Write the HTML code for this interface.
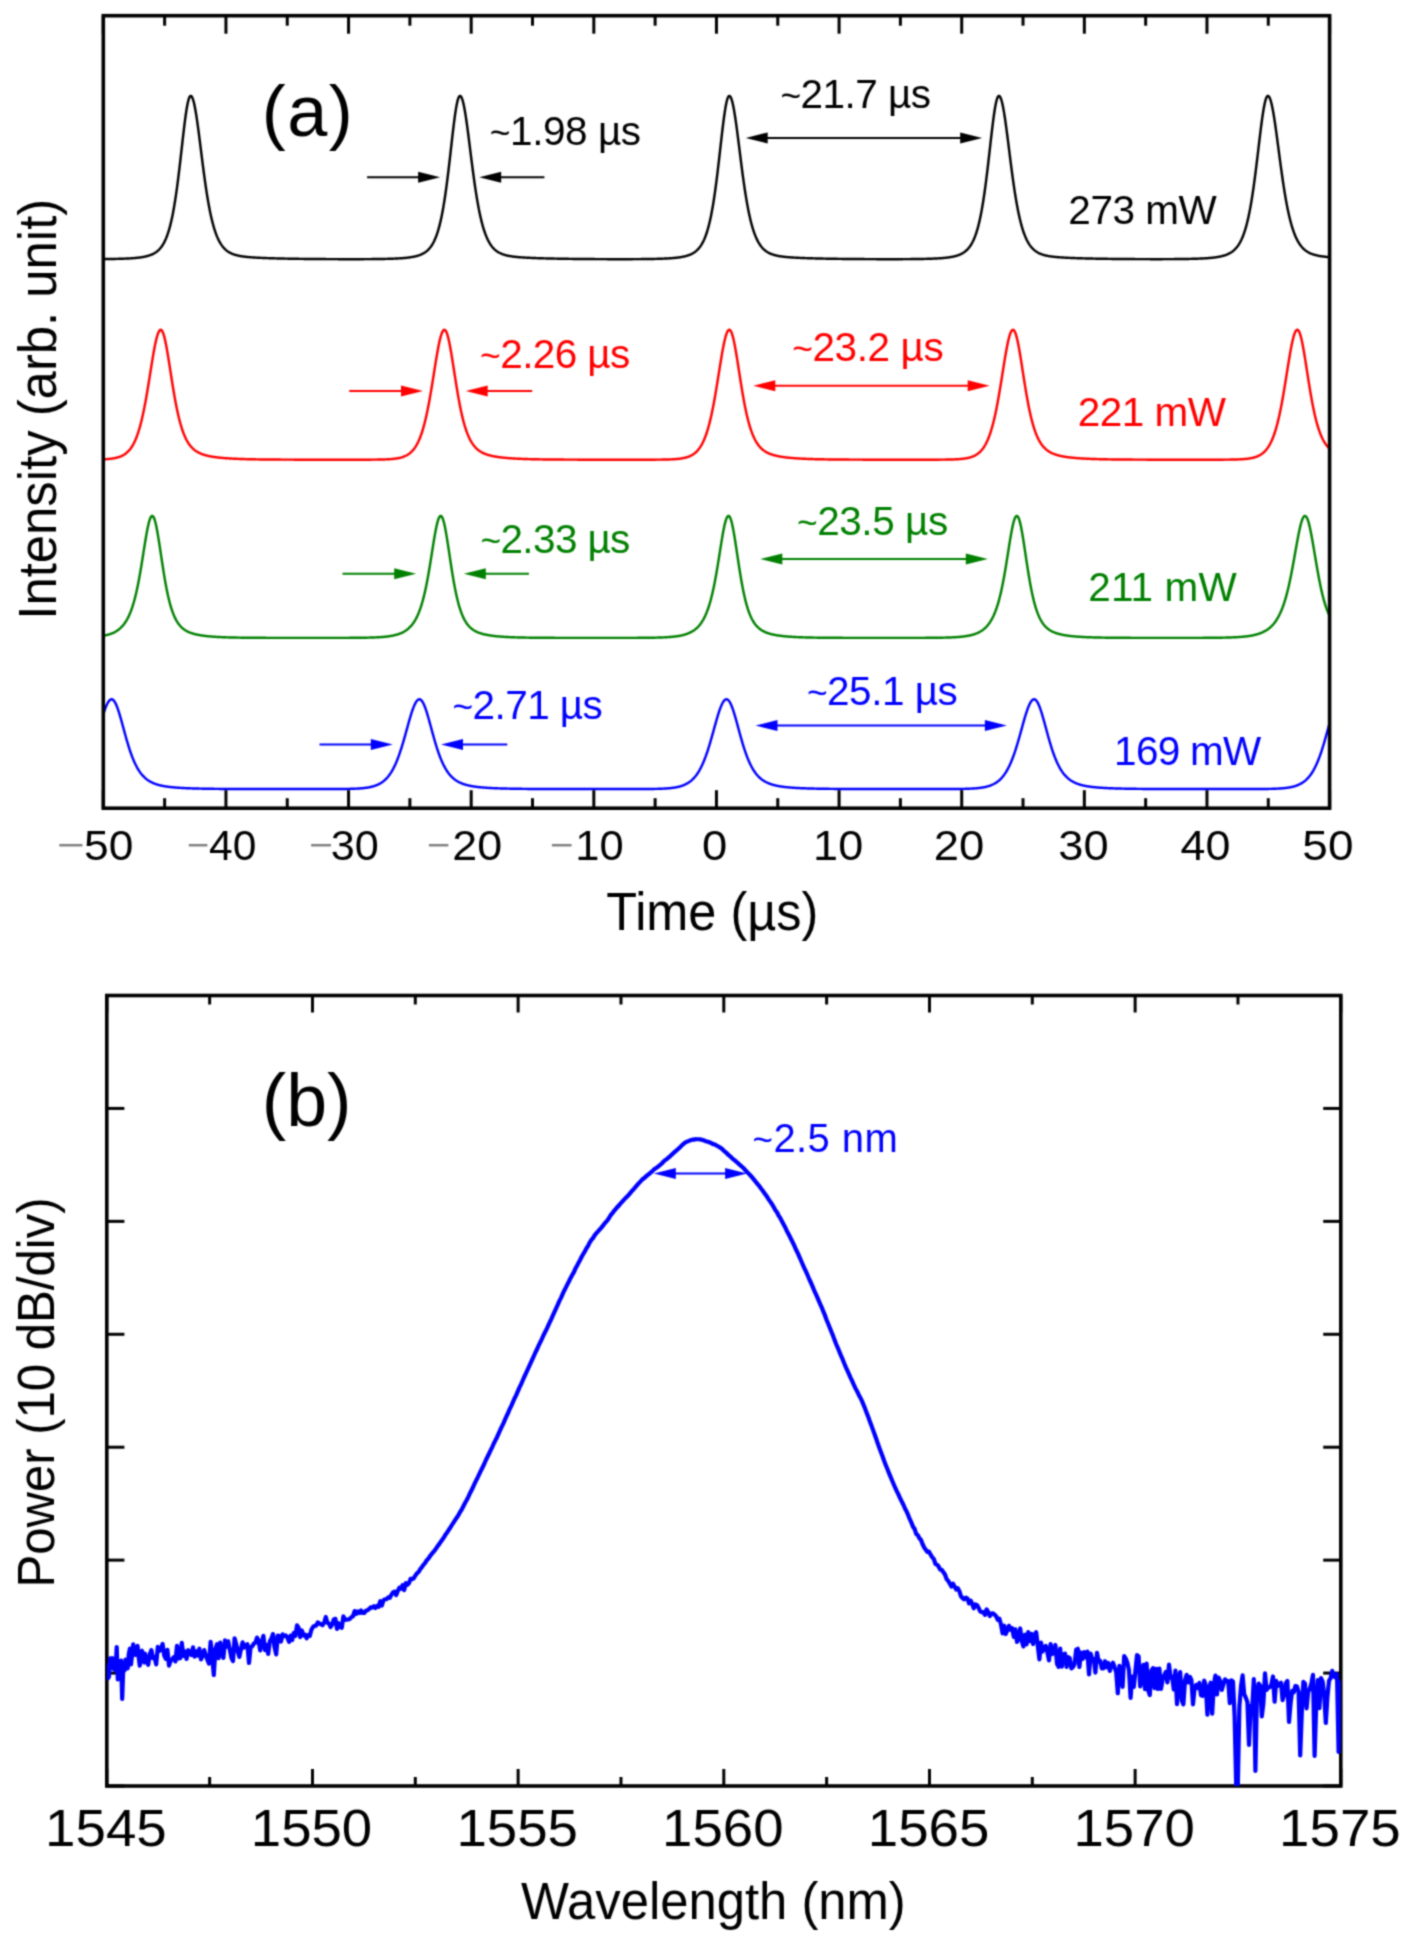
<!DOCTYPE html>
<html><head><meta charset="utf-8"><title>Figure</title>
<style>
html,body{margin:0;padding:0;background:#fff;}
svg{display:block;}
text{font-family:'Liberation Sans',sans-serif;}
</style></head>
<body>
<svg width="1411" height="1951" viewBox="0 0 1411 1951">
<rect x="0" y="0" width="1411" height="1951" fill="#fff"/>
<defs><filter id="soft" x="0" y="0" width="1411" height="1951" filterUnits="userSpaceOnUse" color-interpolation-filters="sRGB"><feConvolveMatrix order="5" kernelMatrix="0.00009 0.00198 0.00548 0.00198 0.00009 0.00198 0.04220 0.11707 0.04220 0.00198 0.00548 0.11707 0.32480 0.11707 0.00548 0.00198 0.04220 0.11707 0.04220 0.00198 0.00009 0.00198 0.00548 0.00198 0.00009" divisor="1" edgeMode="duplicate"/></filter></defs><g filter="url(#soft)"><rect x="0" y="0" width="1411" height="1951" fill="#fff"/><defs><clipPath id="ca"><rect x="103.3" y="15.7" width="1226.3" height="792.5"/></clipPath><clipPath id="cb"><rect x="106.8" y="995.5" width="1234" height="790.5"/></clipPath></defs>
<path d="M101.3,259.10 L101.8,259.10 L102.3,259.10 L102.8,259.09 L103.3,259.09 L103.8,259.08 L104.3,259.08 L104.8,259.07 L105.3,259.07 L105.8,259.06 L106.3,259.06 L106.8,259.05 L107.3,259.04 L107.8,259.04 L108.3,259.03 L108.8,259.03 L109.3,259.02 L109.8,259.01 L110.3,259.00 L110.8,259.00 L111.3,258.99 L111.8,258.98 L112.3,258.97 L112.8,258.96 L113.3,258.95 L113.8,258.94 L114.3,258.93 L114.8,258.92 L115.3,258.91 L115.8,258.90 L116.3,258.89 L116.8,258.88 L117.3,258.87 L117.8,258.86 L118.3,258.84 L118.8,258.83 L119.3,258.82 L119.8,258.80 L120.3,258.79 L120.8,258.77 L121.3,258.76 L121.8,258.74 L122.3,258.72 L122.8,258.70 L123.3,258.69 L123.8,258.67 L124.3,258.65 L124.8,258.63 L125.3,258.61 L125.8,258.59 L126.3,258.56 L126.8,258.54 L127.3,258.52 L127.8,258.49 L128.3,258.46 L128.8,258.44 L129.3,258.41 L129.8,258.38 L130.3,258.35 L130.8,258.32 L131.3,258.29 L131.8,258.25 L132.3,258.22 L132.8,258.18 L133.3,258.14 L133.8,258.10 L134.3,258.06 L134.8,258.02 L135.3,257.98 L135.8,257.93 L136.3,257.88 L136.8,257.83 L137.3,257.78 L137.8,257.73 L138.3,257.67 L138.8,257.61 L139.3,257.55 L139.8,257.48 L140.3,257.42 L140.8,257.34 L141.3,257.27 L141.8,257.19 L142.3,257.11 L142.8,257.03 L143.3,256.94 L143.8,256.85 L144.3,256.75 L144.8,256.65 L145.3,256.54 L145.8,256.43 L146.3,256.31 L146.8,256.18 L147.3,256.05 L147.8,255.91 L148.3,255.77 L148.8,255.61 L149.3,255.45 L149.8,255.28 L150.3,255.10 L150.8,254.91 L151.3,254.71 L151.8,254.50 L152.3,254.28 L152.8,254.04 L153.3,253.79 L153.8,253.53 L154.3,253.24 L154.8,252.95 L155.3,252.63 L155.8,252.30 L156.3,251.95 L156.8,251.57 L157.3,251.17 L157.8,250.75 L158.3,250.30 L158.8,249.82 L159.3,249.32 L159.8,248.78 L160.3,248.20 L160.8,247.60 L161.3,246.95 L161.8,246.26 L162.3,245.53 L162.8,244.75 L163.3,243.93 L163.8,243.05 L164.3,242.11 L164.8,241.12 L165.3,240.06 L165.8,238.94 L166.3,237.75 L166.8,236.48 L167.3,235.13 L167.8,233.71 L168.3,232.19 L168.8,230.58 L169.3,228.88 L169.8,227.08 L170.3,225.17 L170.8,223.15 L171.3,221.02 L171.8,218.77 L172.3,216.39 L172.8,213.89 L173.3,211.26 L173.8,208.50 L174.3,205.60 L174.8,202.57 L175.3,199.40 L175.8,196.09 L176.3,192.65 L176.8,189.07 L177.3,185.36 L177.8,181.52 L178.3,177.57 L178.8,173.50 L179.3,169.34 L179.8,165.08 L180.3,160.76 L180.8,156.38 L181.3,151.96 L181.8,147.52 L182.3,143.09 L182.8,138.69 L183.3,134.35 L183.8,130.09 L184.3,125.95 L184.8,121.95 L185.3,118.14 L185.8,114.53 L186.3,111.16 L186.8,108.06 L187.3,105.26 L187.8,102.78 L188.3,100.66 L188.8,98.90 L189.3,97.54 L189.8,96.58 L190.3,96.03 L190.8,95.90 L191.3,96.14 L191.8,96.71 L192.3,97.62 L192.8,98.84 L193.3,100.38 L193.8,102.23 L194.3,104.35 L194.8,106.75 L195.3,109.40 L195.8,112.27 L196.3,115.36 L196.8,118.64 L197.3,122.08 L197.8,125.67 L198.3,129.38 L198.8,133.19 L199.3,137.07 L199.8,141.02 L200.3,145.00 L200.8,149.00 L201.3,153.00 L201.8,156.98 L202.3,160.94 L202.8,164.85 L203.3,168.70 L203.8,172.49 L204.3,176.20 L204.8,179.83 L205.3,183.37 L205.8,186.80 L206.3,190.14 L206.8,193.37 L207.3,196.49 L207.8,199.50 L208.3,202.39 L208.8,205.18 L209.3,207.85 L209.8,210.41 L210.3,212.87 L210.8,215.21 L211.3,217.45 L211.8,219.59 L212.3,221.62 L212.8,223.56 L213.3,225.40 L213.8,227.15 L214.3,228.82 L214.8,230.40 L215.3,231.89 L215.8,233.31 L216.3,234.65 L216.8,235.93 L217.3,237.13 L217.8,238.27 L218.3,239.34 L218.8,240.36 L219.3,241.32 L219.8,242.23 L220.3,243.08 L220.8,243.89 L221.3,244.65 L221.8,245.37 L222.3,246.05 L222.8,246.69 L223.3,247.30 L223.8,247.87 L224.3,248.40 L224.8,248.91 L225.3,249.39 L225.8,249.84 L226.3,250.26 L226.8,250.66 L227.3,251.04 L227.8,251.40 L228.3,251.74 L228.8,252.05 L229.3,252.35 L229.8,252.63 L230.3,252.90 L230.8,253.15 L231.3,253.39 L231.8,253.62 L232.3,253.83 L232.8,254.03 L233.3,254.22 L233.8,254.40 L234.3,254.57 L234.8,254.73 L235.3,254.88 L235.8,255.03 L236.3,255.17 L236.8,255.30 L237.3,255.42 L237.8,255.54 L238.3,255.65 L238.8,255.75 L239.3,255.85 L239.8,255.95 L240.3,256.04 L240.8,256.13 L241.3,256.21 L241.8,256.29 L242.3,256.37 L242.8,256.44 L243.3,256.51 L243.8,256.58 L244.3,256.64 L244.8,256.70 L245.3,256.76 L245.8,256.81 L246.3,256.87 L246.8,256.92 L247.3,256.97 L247.8,257.02 L248.3,257.06 L248.8,257.11 L249.3,257.15 L249.8,257.19 L250.3,257.23 L250.8,257.27 L251.3,257.31 L251.8,257.35 L252.3,257.38 L252.8,257.42 L253.3,257.45 L253.8,257.48 L254.3,257.51 L254.8,257.54 L255.3,257.57 L255.8,257.60 L256.3,257.63 L256.8,257.66 L257.3,257.69 L257.8,257.71 L258.3,257.74 L258.8,257.76 L259.3,257.79 L259.8,257.81 L260.3,257.83 L260.8,257.86 L261.3,257.88 L261.8,257.90 L262.3,257.92 L262.8,257.94 L263.3,257.96 L263.8,257.99 L264.3,258.01 L264.8,258.02 L265.3,258.04 L265.8,258.06 L266.3,258.08 L266.8,258.10 L267.3,258.12 L267.8,258.14 L268.3,258.15 L268.8,258.17 L269.3,258.19 L269.8,258.20 L270.3,258.22 L270.8,258.24 L271.3,258.25 L271.8,258.27 L272.3,258.28 L272.8,258.30 L273.3,258.31 L273.8,258.33 L274.3,258.34 L274.8,258.36 L275.3,258.37 L275.8,258.38 L276.3,258.40 L276.8,258.41 L277.3,258.42 L277.8,258.44 L278.3,258.45 L278.8,258.46 L279.3,258.47 L279.8,258.49 L280.3,258.50 L280.8,258.51 L281.3,258.52 L281.8,258.53 L282.3,258.54 L282.8,258.56 L283.3,258.57 L283.8,258.58 L284.3,258.59 L284.8,258.60 L285.3,258.61 L285.8,258.62 L286.3,258.63 L286.8,258.64 L287.3,258.65 L287.8,258.66 L288.3,258.67 L288.8,258.68 L289.3,258.69 L289.8,258.70 L290.3,258.71 L290.8,258.71 L291.3,258.72 L291.8,258.73 L292.3,258.74 L292.8,258.75 L293.3,258.76 L293.8,258.77 L294.3,258.77 L294.8,258.78 L295.3,258.79 L295.8,258.80 L296.3,258.80 L296.8,258.81 L297.3,258.82 L297.8,258.83 L298.3,258.83 L298.8,258.84 L299.3,258.85 L299.8,258.85 L300.3,258.86 L300.8,258.87 L301.3,258.87 L301.8,258.88 L302.3,258.89 L302.8,258.89 L303.3,258.90 L303.8,258.91 L304.3,258.91 L304.8,258.92 L305.3,258.92 L305.8,258.93 L306.3,258.93 L306.8,258.94 L307.3,258.95 L307.8,258.95 L308.3,258.96 L308.8,258.96 L309.3,258.97 L309.8,258.97 L310.3,258.98 L310.8,258.98 L311.3,258.99 L311.8,258.99 L312.3,259.00 L312.8,259.00 L313.3,259.00 L313.8,259.01 L314.3,259.01 L314.8,259.02 L315.3,259.02 L315.8,259.03 L316.3,259.03 L316.8,259.03 L317.3,259.04 L317.8,259.04 L318.3,259.05 L318.8,259.05 L319.3,259.05 L319.8,259.06 L320.3,259.06 L320.8,259.06 L321.3,259.07 L321.8,259.07 L322.3,259.07 L322.8,259.08 L323.3,259.08 L323.8,259.08 L324.3,259.09 L324.8,259.09 L325.3,259.09 L325.8,259.09 L326.3,259.10 L326.8,259.10 L327.3,259.10 L327.8,259.10 L328.3,259.11 L328.8,259.11 L329.3,259.11 L329.8,259.11 L330.3,259.12 L330.8,259.12 L331.3,259.12 L331.8,259.12 L332.3,259.13 L332.8,259.13 L333.3,259.13 L333.8,259.13 L334.3,259.13 L334.8,259.14 L335.3,259.14 L335.8,259.14 L336.3,259.14 L336.8,259.14 L337.3,259.14 L337.8,259.15 L338.3,259.15 L338.8,259.15 L339.3,259.15 L339.8,259.15 L340.3,259.15 L340.8,259.15 L341.3,259.16 L341.8,259.16 L342.3,259.16 L342.8,259.16 L343.3,259.16 L343.8,259.16 L344.3,259.16 L344.8,259.16 L345.3,259.16 L345.8,259.16 L346.3,259.16 L346.8,259.16 L347.3,259.17 L347.8,259.17 L348.3,259.17 L348.8,259.17 L349.3,259.17 L349.8,259.17 L350.3,259.17 L350.8,259.17 L351.3,259.17 L351.8,259.17 L352.3,259.17 L352.8,259.17 L353.3,259.17 L353.8,259.17 L354.3,259.17 L354.8,259.17 L355.3,259.16 L355.8,259.16 L356.3,259.16 L356.8,259.16 L357.3,259.16 L357.8,259.16 L358.3,259.16 L358.8,259.16 L359.3,259.16 L359.8,259.16 L360.3,259.16 L360.8,259.15 L361.3,259.15 L361.8,259.15 L362.3,259.15 L362.8,259.15 L363.3,259.15 L363.8,259.14 L364.3,259.14 L364.8,259.14 L365.3,259.14 L365.8,259.13 L366.3,259.13 L366.8,259.13 L367.3,259.13 L367.8,259.12 L368.3,259.12 L368.8,259.12 L369.3,259.11 L369.8,259.11 L370.3,259.11 L370.8,259.10 L371.3,259.10 L371.8,259.09 L372.3,259.09 L372.8,259.08 L373.3,259.08 L373.8,259.08 L374.3,259.07 L374.8,259.06 L375.3,259.06 L375.8,259.05 L376.3,259.05 L376.8,259.04 L377.3,259.04 L377.8,259.03 L378.3,259.02 L378.8,259.02 L379.3,259.01 L379.8,259.00 L380.3,258.99 L380.8,258.98 L381.3,258.98 L381.8,258.97 L382.3,258.96 L382.8,258.95 L383.3,258.94 L383.8,258.93 L384.3,258.92 L384.8,258.91 L385.3,258.90 L385.8,258.89 L386.3,258.88 L386.8,258.86 L387.3,258.85 L387.8,258.84 L388.3,258.82 L388.8,258.81 L389.3,258.80 L389.8,258.78 L390.3,258.77 L390.8,258.75 L391.3,258.73 L391.8,258.72 L392.3,258.70 L392.8,258.68 L393.3,258.66 L393.8,258.64 L394.3,258.62 L394.8,258.60 L395.3,258.58 L395.8,258.55 L396.3,258.53 L396.8,258.51 L397.3,258.48 L397.8,258.45 L398.3,258.43 L398.8,258.40 L399.3,258.37 L399.8,258.34 L400.3,258.31 L400.8,258.27 L401.3,258.24 L401.8,258.20 L402.3,258.17 L402.8,258.13 L403.3,258.09 L403.8,258.05 L404.3,258.00 L404.8,257.96 L405.3,257.91 L405.8,257.86 L406.3,257.81 L406.8,257.76 L407.3,257.70 L407.8,257.65 L408.3,257.59 L408.8,257.52 L409.3,257.46 L409.8,257.39 L410.3,257.32 L410.8,257.24 L411.3,257.16 L411.8,257.08 L412.3,256.99 L412.8,256.90 L413.3,256.81 L413.8,256.71 L414.3,256.60 L414.8,256.49 L415.3,256.38 L415.8,256.26 L416.3,256.13 L416.8,256.00 L417.3,255.86 L417.8,255.71 L418.3,255.55 L418.8,255.39 L419.3,255.21 L419.8,255.03 L420.3,254.83 L420.8,254.63 L421.3,254.41 L421.8,254.18 L422.3,253.94 L422.8,253.69 L423.3,253.42 L423.8,253.13 L424.3,252.82 L424.8,252.50 L425.3,252.16 L425.8,251.80 L426.3,251.41 L426.8,251.00 L427.3,250.57 L427.8,250.11 L428.3,249.62 L428.8,249.10 L429.3,248.55 L429.8,247.97 L430.3,247.34 L430.8,246.68 L431.3,245.97 L431.8,245.22 L432.3,244.43 L432.8,243.58 L433.3,242.68 L433.8,241.72 L434.3,240.70 L434.8,239.62 L435.3,238.47 L435.8,237.25 L436.3,235.95 L436.8,234.57 L437.3,233.11 L437.8,231.56 L438.3,229.91 L438.8,228.17 L439.3,226.33 L439.8,224.37 L440.3,222.31 L440.8,220.13 L441.3,217.83 L441.8,215.41 L442.3,212.86 L442.8,210.18 L443.3,207.36 L443.8,204.41 L444.3,201.32 L444.8,198.09 L445.3,194.73 L445.8,191.23 L446.3,187.60 L446.8,183.84 L447.3,179.95 L447.8,175.95 L448.3,171.85 L448.8,167.65 L449.3,163.36 L449.8,159.01 L450.3,154.61 L450.8,150.18 L451.3,145.75 L451.8,141.32 L452.3,136.94 L452.8,132.63 L453.3,128.42 L453.8,124.33 L454.3,120.40 L454.8,116.66 L455.3,113.15 L455.8,109.88 L456.3,106.90 L456.8,104.23 L457.3,101.89 L457.8,99.91 L458.3,98.31 L458.8,97.11 L459.3,96.31 L459.8,95.93 L460.3,95.96 L460.8,96.33 L461.3,97.04 L461.8,98.07 L462.3,99.42 L462.8,101.09 L463.3,103.04 L463.8,105.28 L464.3,107.78 L464.8,110.52 L465.3,113.49 L465.8,116.65 L466.3,120.00 L466.8,123.50 L467.3,127.14 L467.8,130.89 L468.3,134.73 L468.8,138.65 L469.3,142.61 L469.8,146.60 L470.3,150.60 L470.8,154.60 L471.3,158.57 L471.8,162.51 L472.3,166.40 L472.8,170.23 L473.3,173.99 L473.8,177.67 L474.3,181.26 L474.8,184.75 L475.3,188.15 L475.8,191.44 L476.3,194.63 L476.8,197.70 L477.3,200.67 L477.8,203.52 L478.3,206.26 L478.8,208.89 L479.3,211.41 L479.8,213.82 L480.3,216.12 L480.8,218.32 L481.3,220.41 L481.8,222.41 L482.3,224.31 L482.8,226.11 L483.3,227.83 L483.8,229.46 L484.3,231.00 L484.8,232.47 L485.3,233.86 L485.8,235.17 L486.3,236.41 L486.8,237.59 L487.3,238.70 L487.8,239.76 L488.3,240.75 L488.8,241.69 L489.3,242.58 L489.8,243.41 L490.3,244.20 L490.8,244.95 L491.3,245.65 L491.8,246.31 L492.3,246.94 L492.8,247.53 L493.3,248.09 L493.8,248.61 L494.3,249.11 L494.8,249.57 L495.3,250.01 L495.8,250.43 L496.3,250.82 L496.8,251.19 L497.3,251.54 L497.8,251.86 L498.3,252.17 L498.8,252.47 L499.3,252.74 L499.8,253.00 L500.3,253.25 L500.8,253.48 L501.3,253.70 L501.8,253.91 L502.3,254.11 L502.8,254.29 L503.3,254.47 L503.8,254.64 L504.3,254.79 L504.8,254.94 L505.3,255.08 L505.8,255.22 L506.3,255.35 L506.8,255.47 L507.3,255.58 L507.8,255.69 L508.3,255.79 L508.8,255.89 L509.3,255.99 L509.8,256.08 L510.3,256.16 L510.8,256.24 L511.3,256.32 L511.8,256.40 L512.3,256.47 L512.8,256.54 L513.3,256.60 L513.8,256.66 L514.3,256.72 L514.8,256.78 L515.3,256.84 L515.8,256.89 L516.3,256.94 L516.8,256.99 L517.3,257.04 L517.8,257.08 L518.3,257.13 L518.8,257.17 L519.3,257.21 L519.8,257.25 L520.3,257.29 L520.8,257.32 L521.3,257.36 L521.8,257.40 L522.3,257.43 L522.8,257.46 L523.3,257.49 L523.8,257.53 L524.3,257.56 L524.8,257.59 L525.3,257.61 L525.8,257.64 L526.3,257.67 L526.8,257.70 L527.3,257.72 L527.8,257.75 L528.3,257.77 L528.8,257.80 L529.3,257.82 L529.8,257.84 L530.3,257.87 L530.8,257.89 L531.3,257.91 L531.8,257.93 L532.3,257.95 L532.8,257.97 L533.3,257.99 L533.8,258.01 L534.3,258.03 L534.8,258.05 L535.3,258.07 L535.8,258.09 L536.3,258.11 L536.8,258.13 L537.3,258.14 L537.8,258.16 L538.3,258.18 L538.8,258.19 L539.3,258.21 L539.8,258.23 L540.3,258.24 L540.8,258.26 L541.3,258.27 L541.8,258.29 L542.3,258.30 L542.8,258.32 L543.3,258.33 L543.8,258.35 L544.3,258.36 L544.8,258.37 L545.3,258.39 L545.8,258.40 L546.3,258.42 L546.8,258.43 L547.3,258.44 L547.8,258.45 L548.3,258.47 L548.8,258.48 L549.3,258.49 L549.8,258.50 L550.3,258.51 L550.8,258.53 L551.3,258.54 L551.8,258.55 L552.3,258.56 L552.8,258.57 L553.3,258.58 L553.8,258.59 L554.3,258.60 L554.8,258.61 L555.3,258.62 L555.8,258.63 L556.3,258.64 L556.8,258.65 L557.3,258.66 L557.8,258.67 L558.3,258.68 L558.8,258.69 L559.3,258.70 L559.8,258.71 L560.3,258.72 L560.8,258.73 L561.3,258.74 L561.8,258.74 L562.3,258.75 L562.8,258.76 L563.3,258.77 L563.8,258.78 L564.3,258.78 L564.8,258.79 L565.3,258.80 L565.8,258.81 L566.3,258.82 L566.8,258.82 L567.3,258.83 L567.8,258.84 L568.3,258.84 L568.8,258.85 L569.3,258.86 L569.8,258.86 L570.3,258.87 L570.8,258.88 L571.3,258.88 L571.8,258.89 L572.3,258.90 L572.8,258.90 L573.3,258.91 L573.8,258.91 L574.3,258.92 L574.8,258.93 L575.3,258.93 L575.8,258.94 L576.3,258.94 L576.8,258.95 L577.3,258.95 L577.8,258.96 L578.3,258.96 L578.8,258.97 L579.3,258.97 L579.8,258.98 L580.3,258.98 L580.8,258.99 L581.3,258.99 L581.8,259.00 L582.3,259.00 L582.8,259.01 L583.3,259.01 L583.8,259.01 L584.3,259.02 L584.8,259.02 L585.3,259.03 L585.8,259.03 L586.3,259.04 L586.8,259.04 L587.3,259.04 L587.8,259.05 L588.3,259.05 L588.8,259.05 L589.3,259.06 L589.8,259.06 L590.3,259.06 L590.8,259.07 L591.3,259.07 L591.8,259.07 L592.3,259.08 L592.8,259.08 L593.3,259.08 L593.8,259.09 L594.3,259.09 L594.8,259.09 L595.3,259.10 L595.8,259.10 L596.3,259.10 L596.8,259.10 L597.3,259.11 L597.8,259.11 L598.3,259.11 L598.8,259.11 L599.3,259.12 L599.8,259.12 L600.3,259.12 L600.8,259.12 L601.3,259.12 L601.8,259.13 L602.3,259.13 L602.8,259.13 L603.3,259.13 L603.8,259.13 L604.3,259.14 L604.8,259.14 L605.3,259.14 L605.8,259.14 L606.3,259.14 L606.8,259.15 L607.3,259.15 L607.8,259.15 L608.3,259.15 L608.8,259.15 L609.3,259.15 L609.8,259.15 L610.3,259.15 L610.8,259.16 L611.3,259.16 L611.8,259.16 L612.3,259.16 L612.8,259.16 L613.3,259.16 L613.8,259.16 L614.3,259.16 L614.8,259.16 L615.3,259.16 L615.8,259.16 L616.3,259.17 L616.8,259.17 L617.3,259.17 L617.8,259.17 L618.3,259.17 L618.8,259.17 L619.3,259.17 L619.8,259.17 L620.3,259.17 L620.8,259.17 L621.3,259.17 L621.8,259.17 L622.3,259.17 L622.8,259.17 L623.3,259.17 L623.8,259.17 L624.3,259.17 L624.8,259.16 L625.3,259.16 L625.8,259.16 L626.3,259.16 L626.8,259.16 L627.3,259.16 L627.8,259.16 L628.3,259.16 L628.8,259.16 L629.3,259.16 L629.8,259.15 L630.3,259.15 L630.8,259.15 L631.3,259.15 L631.8,259.15 L632.3,259.15 L632.8,259.14 L633.3,259.14 L633.8,259.14 L634.3,259.14 L634.8,259.14 L635.3,259.13 L635.8,259.13 L636.3,259.13 L636.8,259.12 L637.3,259.12 L637.8,259.12 L638.3,259.11 L638.8,259.11 L639.3,259.11 L639.8,259.10 L640.3,259.10 L640.8,259.10 L641.3,259.09 L641.8,259.09 L642.3,259.08 L642.8,259.08 L643.3,259.07 L643.8,259.07 L644.3,259.06 L644.8,259.06 L645.3,259.05 L645.8,259.05 L646.3,259.04 L646.8,259.03 L647.3,259.03 L647.8,259.02 L648.3,259.01 L648.8,259.01 L649.3,259.00 L649.8,258.99 L650.3,258.98 L650.8,258.97 L651.3,258.96 L651.8,258.96 L652.3,258.95 L652.8,258.94 L653.3,258.93 L653.8,258.92 L654.3,258.91 L654.8,258.89 L655.3,258.88 L655.8,258.87 L656.3,258.86 L656.8,258.85 L657.3,258.83 L657.8,258.82 L658.3,258.80 L658.8,258.79 L659.3,258.77 L659.8,258.76 L660.3,258.74 L660.8,258.73 L661.3,258.71 L661.8,258.69 L662.3,258.67 L662.8,258.65 L663.3,258.63 L663.8,258.61 L664.3,258.59 L664.8,258.57 L665.3,258.54 L665.8,258.52 L666.3,258.50 L666.8,258.47 L667.3,258.44 L667.8,258.42 L668.3,258.39 L668.8,258.36 L669.3,258.33 L669.8,258.29 L670.3,258.26 L670.8,258.23 L671.3,258.19 L671.8,258.15 L672.3,258.11 L672.8,258.07 L673.3,258.03 L673.8,257.99 L674.3,257.94 L674.8,257.89 L675.3,257.84 L675.8,257.79 L676.3,257.74 L676.8,257.68 L677.3,257.62 L677.8,257.56 L678.3,257.50 L678.8,257.43 L679.3,257.36 L679.8,257.29 L680.3,257.21 L680.8,257.13 L681.3,257.05 L681.8,256.96 L682.3,256.87 L682.8,256.77 L683.3,256.67 L683.8,256.56 L684.3,256.45 L684.8,256.33 L685.3,256.21 L685.8,256.08 L686.3,255.94 L686.8,255.80 L687.3,255.65 L687.8,255.49 L688.3,255.32 L688.8,255.14 L689.3,254.95 L689.8,254.75 L690.3,254.54 L690.8,254.32 L691.3,254.09 L691.8,253.84 L692.3,253.58 L692.8,253.30 L693.3,253.01 L693.8,252.70 L694.3,252.37 L694.8,252.02 L695.3,251.65 L695.8,251.25 L696.3,250.83 L696.8,250.39 L697.3,249.92 L697.8,249.42 L698.3,248.89 L698.8,248.32 L699.3,247.72 L699.8,247.08 L700.3,246.40 L700.8,245.68 L701.3,244.91 L701.8,244.10 L702.3,243.23 L702.8,242.30 L703.3,241.32 L703.8,240.28 L704.3,239.17 L704.8,237.99 L705.3,236.74 L705.8,235.41 L706.3,234.00 L706.8,232.50 L707.3,230.91 L707.8,229.23 L708.3,227.45 L708.8,225.56 L709.3,223.56 L709.8,221.45 L710.3,219.23 L710.8,216.88 L711.3,214.40 L711.8,211.80 L712.3,209.07 L712.8,206.20 L713.3,203.19 L713.8,200.05 L714.3,196.76 L714.8,193.35 L715.3,189.79 L715.8,186.11 L716.3,182.30 L716.8,178.37 L717.3,174.32 L717.8,170.18 L718.3,165.94 L718.8,161.63 L719.3,157.26 L719.8,152.84 L720.3,148.41 L720.8,143.97 L721.3,139.57 L721.8,135.21 L722.3,130.93 L722.8,126.77 L723.3,122.74 L723.8,118.88 L724.3,115.23 L724.8,111.81 L725.3,108.65 L725.8,105.79 L726.3,103.25 L726.8,101.05 L727.3,99.22 L727.8,97.78 L728.3,96.74 L728.8,96.11 L729.3,95.90 L729.8,96.07 L730.3,96.57 L730.8,97.41 L731.3,98.57 L731.8,100.05 L732.3,101.83 L732.8,103.90 L733.3,106.25 L733.8,108.85 L734.3,111.68 L734.8,114.73 L735.3,117.97 L735.8,121.38 L736.3,124.94 L736.8,128.63 L737.3,132.42 L737.8,136.29 L738.3,140.23 L738.8,144.20 L739.3,148.20 L739.8,152.20 L740.3,156.19 L740.8,160.15 L741.3,164.07 L741.8,167.94 L742.3,171.74 L742.8,175.47 L743.3,179.11 L743.8,182.67 L744.3,186.12 L744.8,189.48 L745.3,192.73 L745.8,195.87 L746.3,198.90 L746.8,201.82 L747.3,204.63 L747.8,207.33 L748.3,209.91 L748.8,212.39 L749.3,214.75 L749.8,217.01 L750.3,219.17 L750.8,221.22 L751.3,223.18 L751.8,225.04 L752.3,226.81 L752.8,228.49 L753.3,230.09 L753.8,231.60 L754.3,233.03 L754.8,234.39 L755.3,235.68 L755.8,236.89 L756.3,238.04 L756.8,239.13 L757.3,240.16 L757.8,241.13 L758.3,242.05 L758.8,242.92 L759.3,243.73 L759.8,244.51 L760.3,245.23 L760.8,245.92 L761.3,246.57 L761.8,247.18 L762.3,247.76 L762.8,248.30 L763.3,248.81 L763.8,249.30 L764.3,249.75 L764.8,250.18 L765.3,250.59 L765.8,250.97 L766.3,251.33 L766.8,251.67 L767.3,251.99 L767.8,252.29 L768.3,252.58 L768.8,252.85 L769.3,253.10 L769.8,253.34 L770.3,253.57 L770.8,253.79 L771.3,253.99 L771.8,254.18 L772.3,254.36 L772.8,254.54 L773.3,254.70 L773.8,254.85 L774.3,255.00 L774.8,255.14 L775.3,255.27 L775.8,255.39 L776.3,255.51 L776.8,255.63 L777.3,255.73 L777.8,255.83 L778.3,255.93 L778.8,256.02 L779.3,256.11 L779.8,256.20 L780.3,256.28 L780.8,256.35 L781.3,256.43 L781.8,256.50 L782.3,256.56 L782.8,256.63 L783.3,256.69 L783.8,256.75 L784.3,256.80 L784.8,256.86 L785.3,256.91 L785.8,256.96 L786.3,257.01 L786.8,257.05 L787.3,257.10 L787.8,257.14 L788.3,257.18 L788.8,257.23 L789.3,257.26 L789.8,257.30 L790.3,257.34 L790.8,257.37 L791.3,257.41 L791.8,257.44 L792.3,257.48 L792.8,257.51 L793.3,257.54 L793.8,257.57 L794.3,257.60 L794.8,257.63 L795.3,257.65 L795.8,257.68 L796.3,257.71 L796.8,257.73 L797.3,257.76 L797.8,257.78 L798.3,257.81 L798.8,257.83 L799.3,257.85 L799.8,257.87 L800.3,257.90 L800.8,257.92 L801.3,257.94 L801.8,257.96 L802.3,257.98 L802.8,258.00 L803.3,258.02 L803.8,258.04 L804.3,258.06 L804.8,258.08 L805.3,258.10 L805.8,258.11 L806.3,258.13 L806.8,258.15 L807.3,258.17 L807.8,258.18 L808.3,258.20 L808.8,258.22 L809.3,258.23 L809.8,258.25 L810.3,258.26 L810.8,258.28 L811.3,258.29 L811.8,258.31 L812.3,258.32 L812.8,258.34 L813.3,258.35 L813.8,258.37 L814.3,258.38 L814.8,258.39 L815.3,258.41 L815.8,258.42 L816.3,258.43 L816.8,258.45 L817.3,258.46 L817.8,258.47 L818.3,258.48 L818.8,258.50 L819.3,258.51 L819.8,258.52 L820.3,258.53 L820.8,258.54 L821.3,258.55 L821.8,258.56 L822.3,258.58 L822.8,258.59 L823.3,258.60 L823.8,258.61 L824.3,258.62 L824.8,258.63 L825.3,258.64 L825.8,258.65 L826.3,258.66 L826.8,258.67 L827.3,258.68 L827.8,258.69 L828.3,258.70 L828.8,258.70 L829.3,258.71 L829.8,258.72 L830.3,258.73 L830.8,258.74 L831.3,258.75 L831.8,258.76 L832.3,258.76 L832.8,258.77 L833.3,258.78 L833.8,258.79 L834.3,258.80 L834.8,258.80 L835.3,258.81 L835.8,258.82 L836.3,258.83 L836.8,258.83 L837.3,258.84 L837.8,258.85 L838.3,258.85 L838.8,258.86 L839.3,258.87 L839.8,258.87 L840.3,258.88 L840.8,258.89 L841.3,258.89 L841.8,258.90 L842.3,258.90 L842.8,258.91 L843.3,258.92 L843.8,258.92 L844.3,258.93 L844.8,258.93 L845.3,258.94 L845.8,258.94 L846.3,258.95 L846.8,258.96 L847.3,258.96 L847.8,258.97 L848.3,258.97 L848.8,258.98 L849.3,258.98 L849.8,258.99 L850.3,258.99 L850.8,258.99 L851.3,259.00 L851.8,259.00 L852.3,259.01 L852.8,259.01 L853.3,259.02 L853.8,259.02 L854.3,259.02 L854.8,259.03 L855.3,259.03 L855.8,259.04 L856.3,259.04 L856.8,259.04 L857.3,259.05 L857.8,259.05 L858.3,259.06 L858.8,259.06 L859.3,259.06 L859.8,259.07 L860.3,259.07 L860.8,259.07 L861.3,259.08 L861.8,259.08 L862.3,259.08 L862.8,259.08 L863.3,259.09 L863.8,259.09 L864.3,259.09 L864.8,259.10 L865.3,259.10 L865.8,259.10 L866.3,259.10 L866.8,259.11 L867.3,259.11 L867.8,259.11 L868.3,259.11 L868.8,259.12 L869.3,259.12 L869.8,259.12 L870.3,259.12 L870.8,259.13 L871.3,259.13 L871.8,259.13 L872.3,259.13 L872.8,259.13 L873.3,259.14 L873.8,259.14 L874.3,259.14 L874.8,259.14 L875.3,259.14 L875.8,259.14 L876.3,259.15 L876.8,259.15 L877.3,259.15 L877.8,259.15 L878.3,259.15 L878.8,259.15 L879.3,259.15 L879.8,259.16 L880.3,259.16 L880.8,259.16 L881.3,259.16 L881.8,259.16 L882.3,259.16 L882.8,259.16 L883.3,259.16 L883.8,259.16 L884.3,259.16 L884.8,259.16 L885.3,259.17 L885.8,259.17 L886.3,259.17 L886.8,259.17 L887.3,259.17 L887.8,259.17 L888.3,259.17 L888.8,259.17 L889.3,259.17 L889.8,259.17 L890.3,259.17 L890.8,259.17 L891.3,259.17 L891.8,259.17 L892.3,259.17 L892.8,259.17 L893.3,259.17 L893.8,259.17 L894.3,259.17 L894.8,259.16 L895.3,259.16 L895.8,259.16 L896.3,259.16 L896.8,259.16 L897.3,259.16 L897.8,259.16 L898.3,259.16 L898.8,259.16 L899.3,259.16 L899.8,259.15 L900.3,259.15 L900.8,259.15 L901.3,259.15 L901.8,259.15 L902.3,259.15 L902.8,259.14 L903.3,259.14 L903.8,259.14 L904.3,259.14 L904.8,259.13 L905.3,259.13 L905.8,259.13 L906.3,259.13 L906.8,259.12 L907.3,259.12 L907.8,259.12 L908.3,259.11 L908.8,259.11 L909.3,259.11 L909.8,259.10 L910.3,259.10 L910.8,259.09 L911.3,259.09 L911.8,259.08 L912.3,259.08 L912.8,259.07 L913.3,259.07 L913.8,259.06 L914.3,259.06 L914.8,259.05 L915.3,259.05 L915.8,259.04 L916.3,259.03 L916.8,259.03 L917.3,259.02 L917.8,259.01 L918.3,259.01 L918.8,259.00 L919.3,258.99 L919.8,258.98 L920.3,258.98 L920.8,258.97 L921.3,258.96 L921.8,258.95 L922.3,258.94 L922.8,258.93 L923.3,258.92 L923.8,258.91 L924.3,258.90 L924.8,258.89 L925.3,258.87 L925.8,258.86 L926.3,258.85 L926.8,258.84 L927.3,258.82 L927.8,258.81 L928.3,258.79 L928.8,258.78 L929.3,258.76 L929.8,258.75 L930.3,258.73 L930.8,258.71 L931.3,258.69 L931.8,258.68 L932.3,258.66 L932.8,258.64 L933.3,258.62 L933.8,258.59 L934.3,258.57 L934.8,258.55 L935.3,258.53 L935.8,258.50 L936.3,258.48 L936.8,258.45 L937.3,258.42 L937.8,258.39 L938.3,258.36 L938.8,258.33 L939.3,258.30 L939.8,258.27 L940.3,258.23 L940.8,258.20 L941.3,258.16 L941.8,258.12 L942.3,258.08 L942.8,258.04 L943.3,257.99 L943.8,257.95 L944.3,257.90 L944.8,257.85 L945.3,257.80 L945.8,257.75 L946.3,257.69 L946.8,257.63 L947.3,257.57 L947.8,257.51 L948.3,257.44 L948.8,257.37 L949.3,257.30 L949.8,257.23 L950.3,257.15 L950.8,257.06 L951.3,256.98 L951.8,256.88 L952.3,256.79 L952.8,256.69 L953.3,256.58 L953.8,256.47 L954.3,256.36 L954.8,256.23 L955.3,256.10 L955.8,255.97 L956.3,255.83 L956.8,255.68 L957.3,255.52 L957.8,255.35 L958.3,255.18 L958.8,254.99 L959.3,254.79 L959.8,254.59 L960.3,254.37 L960.8,254.14 L961.3,253.89 L961.8,253.63 L962.3,253.36 L962.8,253.07 L963.3,252.76 L963.8,252.43 L964.3,252.09 L964.8,251.72 L965.3,251.33 L965.8,250.92 L966.3,250.48 L966.8,250.02 L967.3,249.52 L967.8,249.00 L968.3,248.44 L968.8,247.84 L969.3,247.21 L969.8,246.54 L970.3,245.83 L970.8,245.07 L971.3,244.26 L971.8,243.40 L972.3,242.49 L972.8,241.52 L973.3,240.49 L973.8,239.40 L974.3,238.23 L974.8,237.00 L975.3,235.68 L975.8,234.29 L976.3,232.81 L976.8,231.24 L977.3,229.57 L977.8,227.81 L978.3,225.95 L978.8,223.97 L979.3,221.88 L979.8,219.68 L980.3,217.36 L980.8,214.91 L981.3,212.33 L981.8,209.62 L982.3,206.78 L982.8,203.80 L983.3,200.69 L983.8,197.43 L984.3,194.04 L984.8,190.51 L985.3,186.86 L985.8,183.07 L986.3,179.16 L986.8,175.14 L987.3,171.01 L987.8,166.80 L988.3,162.50 L988.8,158.14 L989.3,153.73 L989.8,149.30 L990.3,144.86 L990.8,140.44 L991.3,136.07 L991.8,131.78 L992.3,127.59 L992.8,123.53 L993.3,119.64 L993.8,115.94 L994.3,112.47 L994.8,109.26 L995.3,106.34 L995.8,103.73 L996.3,101.46 L996.8,99.56 L997.3,98.04 L997.8,96.91 L998.3,96.20 L998.8,95.91 L999.3,96.01 L999.8,96.44 L1000.3,97.22 L1000.8,98.31 L1001.3,99.73 L1001.8,101.45 L1002.3,103.47 L1002.8,105.76 L1003.3,108.31 L1003.8,111.10 L1004.3,114.10 L1004.8,117.31 L1005.3,120.69 L1005.8,124.22 L1006.3,127.88 L1006.8,131.65 L1007.3,135.51 L1007.8,139.43 L1008.3,143.40 L1008.8,147.40 L1009.3,151.40 L1009.8,155.39 L1010.3,159.36 L1010.8,163.29 L1011.3,167.17 L1011.8,170.99 L1012.3,174.73 L1012.8,178.39 L1013.3,181.96 L1013.8,185.44 L1014.3,188.82 L1014.8,192.09 L1015.3,195.25 L1015.8,198.31 L1016.3,201.25 L1016.8,204.08 L1017.3,206.80 L1017.8,209.40 L1018.3,211.90 L1018.8,214.29 L1019.3,216.57 L1019.8,218.75 L1020.3,220.82 L1020.8,222.80 L1021.3,224.68 L1021.8,226.46 L1022.3,228.16 L1022.8,229.77 L1023.3,231.30 L1023.8,232.75 L1024.3,234.13 L1024.8,235.43 L1025.3,236.66 L1025.8,237.82 L1026.3,238.92 L1026.8,239.96 L1027.3,240.94 L1027.8,241.87 L1028.3,242.75 L1028.8,243.57 L1029.3,244.35 L1029.8,245.09 L1030.3,245.79 L1030.8,246.44 L1031.3,247.06 L1031.8,247.64 L1032.3,248.19 L1032.8,248.71 L1033.3,249.20 L1033.8,249.66 L1034.3,250.10 L1034.8,250.51 L1035.3,250.89 L1035.8,251.26 L1036.3,251.60 L1036.8,251.93 L1037.3,252.23 L1037.8,252.52 L1038.3,252.80 L1038.8,253.05 L1039.3,253.30 L1039.8,253.53 L1040.3,253.75 L1040.8,253.95 L1041.3,254.15 L1041.8,254.33 L1042.3,254.50 L1042.8,254.67 L1043.3,254.82 L1043.8,254.97 L1044.3,255.11 L1044.8,255.24 L1045.3,255.37 L1045.8,255.49 L1046.3,255.60 L1046.8,255.71 L1047.3,255.81 L1047.8,255.91 L1048.3,256.01 L1048.8,256.09 L1049.3,256.18 L1049.8,256.26 L1050.3,256.34 L1050.8,256.41 L1051.3,256.48 L1051.8,256.55 L1052.3,256.61 L1052.8,256.68 L1053.3,256.73 L1053.8,256.79 L1054.3,256.85 L1054.8,256.90 L1055.3,256.95 L1055.8,257.00 L1056.3,257.05 L1056.8,257.09 L1057.3,257.13 L1057.8,257.18 L1058.3,257.22 L1058.8,257.26 L1059.3,257.29 L1059.8,257.33 L1060.3,257.37 L1060.8,257.40 L1061.3,257.44 L1061.8,257.47 L1062.3,257.50 L1062.8,257.53 L1063.3,257.56 L1063.8,257.59 L1064.3,257.62 L1064.8,257.65 L1065.3,257.67 L1065.8,257.70 L1066.3,257.73 L1066.8,257.75 L1067.3,257.78 L1067.8,257.80 L1068.3,257.82 L1068.8,257.85 L1069.3,257.87 L1069.8,257.89 L1070.3,257.91 L1070.8,257.94 L1071.3,257.96 L1071.8,257.98 L1072.3,258.00 L1072.8,258.02 L1073.3,258.04 L1073.8,258.06 L1074.3,258.07 L1074.8,258.09 L1075.3,258.11 L1075.8,258.13 L1076.3,258.15 L1076.8,258.16 L1077.3,258.18 L1077.8,258.20 L1078.3,258.21 L1078.8,258.23 L1079.3,258.24 L1079.8,258.26 L1080.3,258.28 L1080.8,258.29 L1081.3,258.31 L1081.8,258.32 L1082.3,258.34 L1082.8,258.35 L1083.3,258.36 L1083.8,258.38 L1084.3,258.39 L1084.8,258.40 L1085.3,258.42 L1085.8,258.43 L1086.3,258.44 L1086.8,258.46 L1087.3,258.47 L1087.8,258.48 L1088.3,258.49 L1088.8,258.50 L1089.3,258.52 L1089.8,258.53 L1090.3,258.54 L1090.8,258.55 L1091.3,258.56 L1091.8,258.57 L1092.3,258.58 L1092.8,258.59 L1093.3,258.60 L1093.8,258.62 L1094.3,258.63 L1094.8,258.64 L1095.3,258.65 L1095.8,258.65 L1096.3,258.66 L1096.8,258.67 L1097.3,258.68 L1097.8,258.69 L1098.3,258.70 L1098.8,258.71 L1099.3,258.72 L1099.8,258.73 L1100.3,258.74 L1100.8,258.74 L1101.3,258.75 L1101.8,258.76 L1102.3,258.77 L1102.8,258.78 L1103.3,258.79 L1103.8,258.79 L1104.3,258.80 L1104.8,258.81 L1105.3,258.82 L1105.8,258.82 L1106.3,258.83 L1106.8,258.84 L1107.3,258.84 L1107.8,258.85 L1108.3,258.86 L1108.8,258.86 L1109.3,258.87 L1109.8,258.88 L1110.3,258.88 L1110.8,258.89 L1111.3,258.90 L1111.8,258.90 L1112.3,258.91 L1112.8,258.91 L1113.3,258.92 L1113.8,258.93 L1114.3,258.93 L1114.8,258.94 L1115.3,258.94 L1115.8,258.95 L1116.3,258.95 L1116.8,258.96 L1117.3,258.96 L1117.8,258.97 L1118.3,258.97 L1118.8,258.98 L1119.3,258.98 L1119.8,258.99 L1120.3,258.99 L1120.8,259.00 L1121.3,259.00 L1121.8,259.00 L1122.3,259.01 L1122.8,259.01 L1123.3,259.02 L1123.8,259.02 L1124.3,259.03 L1124.8,259.03 L1125.3,259.03 L1125.8,259.04 L1126.3,259.04 L1126.8,259.04 L1127.3,259.05 L1127.8,259.05 L1128.3,259.05 L1128.8,259.06 L1129.3,259.06 L1129.8,259.06 L1130.3,259.07 L1130.8,259.07 L1131.3,259.07 L1131.8,259.08 L1132.3,259.08 L1132.8,259.08 L1133.3,259.09 L1133.8,259.09 L1134.3,259.09 L1134.8,259.09 L1135.3,259.10 L1135.8,259.10 L1136.3,259.10 L1136.8,259.10 L1137.3,259.11 L1137.8,259.11 L1138.3,259.11 L1138.8,259.11 L1139.3,259.11 L1139.8,259.12 L1140.3,259.12 L1140.8,259.12 L1141.3,259.12 L1141.8,259.12 L1142.3,259.13 L1142.8,259.13 L1143.3,259.13 L1143.8,259.13 L1144.3,259.13 L1144.8,259.13 L1145.3,259.14 L1145.8,259.14 L1146.3,259.14 L1146.8,259.14 L1147.3,259.14 L1147.8,259.14 L1148.3,259.14 L1148.8,259.14 L1149.3,259.14 L1149.8,259.15 L1150.3,259.15 L1150.8,259.15 L1151.3,259.15 L1151.8,259.15 L1152.3,259.15 L1152.8,259.15 L1153.3,259.15 L1153.8,259.15 L1154.3,259.15 L1154.8,259.15 L1155.3,259.15 L1155.8,259.15 L1156.3,259.15 L1156.8,259.15 L1157.3,259.15 L1157.8,259.15 L1158.3,259.15 L1158.8,259.15 L1159.3,259.15 L1159.8,259.15 L1160.3,259.15 L1160.8,259.15 L1161.3,259.15 L1161.8,259.15 L1162.3,259.15 L1162.8,259.14 L1163.3,259.14 L1163.8,259.14 L1164.3,259.14 L1164.8,259.14 L1165.3,259.14 L1165.8,259.14 L1166.3,259.13 L1166.8,259.13 L1167.3,259.13 L1167.8,259.13 L1168.3,259.13 L1168.8,259.13 L1169.3,259.12 L1169.8,259.12 L1170.3,259.12 L1170.8,259.12 L1171.3,259.11 L1171.8,259.11 L1172.3,259.11 L1172.8,259.10 L1173.3,259.10 L1173.8,259.10 L1174.3,259.09 L1174.8,259.09 L1175.3,259.09 L1175.8,259.08 L1176.3,259.08 L1176.8,259.07 L1177.3,259.07 L1177.8,259.06 L1178.3,259.06 L1178.8,259.05 L1179.3,259.05 L1179.8,259.04 L1180.3,259.04 L1180.8,259.03 L1181.3,259.03 L1181.8,259.02 L1182.3,259.01 L1182.8,259.01 L1183.3,259.00 L1183.8,258.99 L1184.3,258.99 L1184.8,258.98 L1185.3,258.97 L1185.8,258.96 L1186.3,258.95 L1186.8,258.95 L1187.3,258.94 L1187.8,258.93 L1188.3,258.92 L1188.8,258.91 L1189.3,258.90 L1189.8,258.89 L1190.3,258.88 L1190.8,258.86 L1191.3,258.85 L1191.8,258.84 L1192.3,258.83 L1192.8,258.82 L1193.3,258.80 L1193.8,258.79 L1194.3,258.77 L1194.8,258.76 L1195.3,258.74 L1195.8,258.73 L1196.3,258.71 L1196.8,258.70 L1197.3,258.68 L1197.8,258.66 L1198.3,258.64 L1198.8,258.62 L1199.3,258.60 L1199.8,258.58 L1200.3,258.56 L1200.8,258.54 L1201.3,258.51 L1201.8,258.49 L1202.3,258.47 L1202.8,258.44 L1203.3,258.41 L1203.8,258.39 L1204.3,258.36 L1204.8,258.33 L1205.3,258.30 L1205.8,258.27 L1206.3,258.24 L1206.8,258.20 L1207.3,258.17 L1207.8,258.13 L1208.3,258.09 L1208.8,258.05 L1209.3,258.01 L1209.8,257.97 L1210.3,257.92 L1210.8,257.88 L1211.3,257.83 L1211.8,257.78 L1212.3,257.73 L1212.8,257.68 L1213.3,257.62 L1213.8,257.56 L1214.3,257.50 L1214.8,257.44 L1215.3,257.37 L1215.8,257.30 L1216.3,257.23 L1216.8,257.16 L1217.3,257.08 L1217.8,256.99 L1218.3,256.91 L1218.8,256.82 L1219.3,256.72 L1219.8,256.63 L1220.3,256.52 L1220.8,256.41 L1221.3,256.30 L1221.8,256.18 L1222.3,256.06 L1222.8,255.93 L1223.3,255.79 L1223.8,255.64 L1224.3,255.49 L1224.8,255.33 L1225.3,255.16 L1225.8,254.99 L1226.3,254.80 L1226.8,254.60 L1227.3,254.40 L1227.8,254.18 L1228.3,253.95 L1228.8,253.71 L1229.3,253.45 L1229.8,253.18 L1230.3,252.89 L1230.8,252.59 L1231.3,252.27 L1231.8,251.93 L1232.3,251.57 L1232.8,251.19 L1233.3,250.79 L1233.8,250.37 L1234.3,249.92 L1234.8,249.44 L1235.3,248.94 L1235.8,248.40 L1236.3,247.84 L1236.8,247.24 L1237.3,246.60 L1237.8,245.93 L1238.3,245.21 L1238.8,244.45 L1239.3,243.65 L1239.8,242.79 L1240.3,241.89 L1240.8,240.93 L1241.3,239.92 L1241.8,238.84 L1242.3,237.70 L1242.8,236.49 L1243.3,235.21 L1243.8,233.86 L1244.3,232.43 L1244.8,230.91 L1245.3,229.31 L1245.8,227.62 L1246.3,225.84 L1246.8,223.95 L1247.3,221.97 L1247.8,219.88 L1248.3,217.67 L1248.8,215.36 L1249.3,212.93 L1249.8,210.38 L1250.3,207.72 L1250.8,204.92 L1251.3,202.01 L1251.8,198.97 L1252.3,195.80 L1252.8,192.51 L1253.3,189.10 L1253.8,185.57 L1254.3,181.93 L1254.8,178.18 L1255.3,174.32 L1255.8,170.38 L1256.3,166.35 L1256.8,162.25 L1257.3,158.09 L1257.8,153.90 L1258.3,149.68 L1258.8,145.45 L1259.3,141.24 L1259.8,137.07 L1260.3,132.96 L1260.8,128.93 L1261.3,125.02 L1261.8,121.25 L1262.3,117.64 L1262.8,114.23 L1263.3,111.03 L1263.8,108.09 L1264.3,105.41 L1264.8,103.02 L1265.3,100.96 L1265.8,99.22 L1266.3,97.84 L1266.8,96.82 L1267.3,96.17 L1267.8,95.91 L1268.3,96.00 L1268.8,96.39 L1269.3,97.09 L1269.8,98.09 L1270.3,99.38 L1270.8,100.95 L1271.3,102.78 L1271.8,104.88 L1272.3,107.21 L1272.8,109.77 L1273.3,112.53 L1273.8,115.49 L1274.3,118.61 L1274.8,121.88 L1275.3,125.29 L1275.8,128.81 L1276.3,132.42 L1276.8,136.11 L1277.3,139.85 L1277.8,143.63 L1278.3,147.44 L1278.8,151.25 L1279.3,155.05 L1279.8,158.83 L1280.3,162.58 L1280.8,166.29 L1281.3,169.94 L1281.8,173.53 L1282.3,177.04 L1282.8,180.48 L1283.3,183.83 L1283.8,187.09 L1284.3,190.26 L1284.8,193.34 L1285.3,196.31 L1285.8,199.19 L1286.3,201.96 L1286.8,204.63 L1287.3,207.20 L1287.8,209.67 L1288.3,212.04 L1288.8,214.31 L1289.3,216.48 L1289.8,218.56 L1290.3,220.55 L1290.8,222.45 L1291.3,224.26 L1291.8,225.98 L1292.3,227.62 L1292.8,229.19 L1293.3,230.67 L1293.8,232.09 L1294.3,233.43 L1294.8,234.70 L1295.3,235.91 L1295.8,237.06 L1296.3,238.15 L1296.8,239.18 L1297.3,240.16 L1297.8,241.09 L1298.3,241.96 L1298.8,242.79 L1299.3,243.58 L1299.8,244.33 L1300.3,245.03 L1300.8,245.70 L1301.3,246.33 L1301.8,246.92 L1302.3,247.49 L1302.8,248.02 L1303.3,248.52 L1303.8,249.00 L1304.3,249.45 L1304.8,249.88 L1305.3,250.28 L1305.8,250.66 L1306.3,251.02 L1306.8,251.36 L1307.3,251.69 L1307.8,251.99 L1308.3,252.28 L1308.8,252.55 L1309.3,252.81 L1309.8,253.06 L1310.3,253.29 L1310.8,253.51 L1311.3,253.72 L1311.8,253.91 L1312.3,254.10 L1312.8,254.28 L1313.3,254.45 L1313.8,254.61 L1314.3,254.76 L1314.8,254.90 L1315.3,255.04 L1315.8,255.17 L1316.3,255.29 L1316.8,255.41 L1317.3,255.52 L1317.8,255.63 L1318.3,255.73 L1318.8,255.83 L1319.3,255.92 L1319.8,256.01 L1320.3,256.10 L1320.8,256.18 L1321.3,256.25 L1321.8,256.33 L1322.3,256.40 L1322.8,256.47 L1323.3,256.53 L1323.8,256.59 L1324.3,256.65 L1324.8,256.71 L1325.3,256.77 L1325.8,256.82 L1326.3,256.87 L1326.8,256.92 L1327.3,256.97 L1327.8,257.01 L1328.3,257.06 L1328.8,257.10 L1329.3,257.14 L1329.8,257.18 L1330.3,257.22 L1330.8,257.26 L1331.3,257.29" fill="none" stroke="#000" stroke-width="2.45" stroke-linejoin="round" clip-path="url(#ca)"/>
<path d="M101.3,459.41 L101.8,459.39 L102.3,459.37 L102.8,459.35 L103.3,459.32 L103.8,459.30 L104.3,459.27 L104.8,459.25 L105.3,459.22 L105.8,459.19 L106.3,459.15 L106.8,459.12 L107.3,459.08 L107.8,459.04 L108.3,459.00 L108.8,458.95 L109.3,458.90 L109.8,458.85 L110.3,458.80 L110.8,458.74 L111.3,458.68 L111.8,458.61 L112.3,458.54 L112.8,458.46 L113.3,458.38 L113.8,458.30 L114.3,458.21 L114.8,458.11 L115.3,458.01 L115.8,457.90 L116.3,457.78 L116.8,457.66 L117.3,457.53 L117.8,457.39 L118.3,457.24 L118.8,457.08 L119.3,456.91 L119.8,456.73 L120.3,456.54 L120.8,456.34 L121.3,456.13 L121.8,455.90 L122.3,455.65 L122.8,455.39 L123.3,455.12 L123.8,454.83 L124.3,454.52 L124.8,454.19 L125.3,453.84 L125.8,453.46 L126.3,453.07 L126.8,452.65 L127.3,452.20 L127.8,451.73 L128.3,451.23 L128.8,450.70 L129.3,450.14 L129.8,449.54 L130.3,448.91 L130.8,448.24 L131.3,447.53 L131.8,446.77 L132.3,445.98 L132.8,445.14 L133.3,444.25 L133.8,443.31 L134.3,442.32 L134.8,441.27 L135.3,440.16 L135.8,439.00 L136.3,437.77 L136.8,436.48 L137.3,435.12 L137.8,433.69 L138.3,432.19 L138.8,430.61 L139.3,428.96 L139.8,427.22 L140.3,425.41 L140.8,423.52 L141.3,421.54 L141.8,419.47 L142.3,417.33 L142.8,415.09 L143.3,412.77 L143.8,410.36 L144.3,407.87 L144.8,405.30 L145.3,402.65 L145.8,399.92 L146.3,397.12 L146.8,394.24 L147.3,391.31 L147.8,388.31 L148.3,385.27 L148.8,382.19 L149.3,379.07 L149.8,375.93 L150.3,372.78 L150.8,369.64 L151.3,366.50 L151.8,363.40 L152.3,360.34 L152.8,357.33 L153.3,354.40 L153.8,351.56 L154.3,348.83 L154.8,346.22 L155.3,343.75 L155.8,341.44 L156.3,339.29 L156.8,337.34 L157.3,335.58 L157.8,334.04 L158.3,332.73 L158.8,331.64 L159.3,330.81 L159.8,330.22 L160.3,329.88 L160.8,329.81 L161.3,330.00 L161.8,330.49 L162.3,331.25 L162.8,332.28 L163.3,333.57 L163.8,335.12 L164.3,336.90 L164.8,338.91 L165.3,341.12 L165.8,343.51 L166.3,346.08 L166.8,348.79 L167.3,351.63 L167.8,354.58 L168.3,357.63 L168.8,360.74 L169.3,363.91 L169.8,367.11 L170.3,370.33 L170.8,373.55 L171.3,376.76 L171.8,379.95 L172.3,383.09 L172.8,386.20 L173.3,389.24 L173.8,392.22 L174.3,395.13 L174.8,397.96 L175.3,400.71 L175.8,403.38 L176.3,405.95 L176.8,408.44 L177.3,410.83 L177.8,413.13 L178.3,415.33 L178.8,417.45 L179.3,419.47 L179.8,421.41 L180.3,423.25 L180.8,425.02 L181.3,426.69 L181.8,428.29 L182.3,429.81 L182.8,431.25 L183.3,432.62 L183.8,433.92 L184.3,435.16 L184.8,436.33 L185.3,437.44 L185.8,438.49 L186.3,439.48 L186.8,440.43 L187.3,441.32 L187.8,442.16 L188.3,442.96 L188.8,443.72 L189.3,444.43 L189.8,445.11 L190.3,445.75 L190.8,446.36 L191.3,446.93 L191.8,447.48 L192.3,447.99 L192.8,448.48 L193.3,448.94 L193.8,449.38 L194.3,449.80 L194.8,450.19 L195.3,450.56 L195.8,450.92 L196.3,451.25 L196.8,451.57 L197.3,451.88 L197.8,452.16 L198.3,452.44 L198.8,452.70 L199.3,452.95 L199.8,453.18 L200.3,453.41 L200.8,453.62 L201.3,453.83 L201.8,454.03 L202.3,454.21 L202.8,454.39 L203.3,454.56 L203.8,454.73 L204.3,454.88 L204.8,455.03 L205.3,455.18 L205.8,455.31 L206.3,455.45 L206.8,455.57 L207.3,455.70 L207.8,455.81 L208.3,455.93 L208.8,456.03 L209.3,456.14 L209.8,456.24 L210.3,456.34 L210.8,456.43 L211.3,456.52 L211.8,456.61 L212.3,456.69 L212.8,456.77 L213.3,456.85 L213.8,456.93 L214.3,457.00 L214.8,457.07 L215.3,457.14 L215.8,457.21 L216.3,457.27 L216.8,457.33 L217.3,457.40 L217.8,457.45 L218.3,457.51 L218.8,457.57 L219.3,457.62 L219.8,457.67 L220.3,457.72 L220.8,457.77 L221.3,457.82 L221.8,457.87 L222.3,457.91 L222.8,457.96 L223.3,458.00 L223.8,458.04 L224.3,458.08 L224.8,458.12 L225.3,458.16 L225.8,458.20 L226.3,458.24 L226.8,458.27 L227.3,458.31 L227.8,458.34 L228.3,458.37 L228.8,458.40 L229.3,458.44 L229.8,458.47 L230.3,458.50 L230.8,458.53 L231.3,458.55 L231.8,458.58 L232.3,458.61 L232.8,458.63 L233.3,458.66 L233.8,458.68 L234.3,458.71 L234.8,458.73 L235.3,458.76 L235.8,458.78 L236.3,458.80 L236.8,458.82 L237.3,458.84 L237.8,458.86 L238.3,458.88 L238.8,458.90 L239.3,458.92 L239.8,458.94 L240.3,458.96 L240.8,458.98 L241.3,458.99 L241.8,459.01 L242.3,459.03 L242.8,459.04 L243.3,459.06 L243.8,459.07 L244.3,459.09 L244.8,459.10 L245.3,459.12 L245.8,459.13 L246.3,459.15 L246.8,459.16 L247.3,459.17 L247.8,459.18 L248.3,459.20 L248.8,459.21 L249.3,459.22 L249.8,459.23 L250.3,459.24 L250.8,459.25 L251.3,459.27 L251.8,459.28 L252.3,459.29 L252.8,459.30 L253.3,459.31 L253.8,459.32 L254.3,459.32 L254.8,459.33 L255.3,459.34 L255.8,459.35 L256.3,459.36 L256.8,459.37 L257.3,459.38 L257.8,459.38 L258.3,459.39 L258.8,459.40 L259.3,459.41 L259.8,459.41 L260.3,459.42 L260.8,459.43 L261.3,459.43 L261.8,459.44 L262.3,459.45 L262.8,459.45 L263.3,459.46 L263.8,459.46 L264.3,459.47 L264.8,459.47 L265.3,459.48 L265.8,459.49 L266.3,459.49 L266.8,459.50 L267.3,459.50 L267.8,459.51 L268.3,459.51 L268.8,459.51 L269.3,459.52 L269.8,459.52 L270.3,459.53 L270.8,459.53 L271.3,459.54 L271.8,459.54 L272.3,459.54 L272.8,459.55 L273.3,459.55 L273.8,459.55 L274.3,459.56 L274.8,459.56 L275.3,459.57 L275.8,459.57 L276.3,459.57 L276.8,459.57 L277.3,459.58 L277.8,459.58 L278.3,459.58 L278.8,459.59 L279.3,459.59 L279.8,459.59 L280.3,459.59 L280.8,459.60 L281.3,459.60 L281.8,459.60 L282.3,459.60 L282.8,459.61 L283.3,459.61 L283.8,459.61 L284.3,459.61 L284.8,459.62 L285.3,459.62 L285.8,459.62 L286.3,459.62 L286.8,459.62 L287.3,459.63 L287.8,459.63 L288.3,459.63 L288.8,459.63 L289.3,459.63 L289.8,459.63 L290.3,459.64 L290.8,459.64 L291.3,459.64 L291.8,459.64 L292.3,459.64 L292.8,459.64 L293.3,459.64 L293.8,459.65 L294.3,459.65 L294.8,459.65 L295.3,459.65 L295.8,459.65 L296.3,459.65 L296.8,459.65 L297.3,459.65 L297.8,459.66 L298.3,459.66 L298.8,459.66 L299.3,459.66 L299.8,459.66 L300.3,459.66 L300.8,459.66 L301.3,459.66 L301.8,459.66 L302.3,459.66 L302.8,459.67 L303.3,459.67 L303.8,459.67 L304.3,459.67 L304.8,459.67 L305.3,459.67 L305.8,459.67 L306.3,459.67 L306.8,459.67 L307.3,459.67 L307.8,459.67 L308.3,459.67 L308.8,459.67 L309.3,459.67 L309.8,459.68 L310.3,459.68 L310.8,459.68 L311.3,459.68 L311.8,459.68 L312.3,459.68 L312.8,459.68 L313.3,459.68 L313.8,459.68 L314.3,459.68 L314.8,459.68 L315.3,459.68 L315.8,459.68 L316.3,459.68 L316.8,459.68 L317.3,459.68 L317.8,459.68 L318.3,459.68 L318.8,459.68 L319.3,459.68 L319.8,459.68 L320.3,459.69 L320.8,459.69 L321.3,459.69 L321.8,459.69 L322.3,459.69 L322.8,459.69 L323.3,459.69 L323.8,459.69 L324.3,459.69 L324.8,459.69 L325.3,459.69 L325.8,459.69 L326.3,459.69 L326.8,459.69 L327.3,459.69 L327.8,459.69 L328.3,459.69 L328.8,459.69 L329.3,459.69 L329.8,459.69 L330.3,459.69 L330.8,459.69 L331.3,459.69 L331.8,459.69 L332.3,459.69 L332.8,459.69 L333.3,459.69 L333.8,459.69 L334.3,459.69 L334.8,459.69 L335.3,459.69 L335.8,459.69 L336.3,459.69 L336.8,459.69 L337.3,459.69 L337.8,459.69 L338.3,459.69 L338.8,459.69 L339.3,459.69 L339.8,459.69 L340.3,459.69 L340.8,459.69 L341.3,459.69 L341.8,459.69 L342.3,459.69 L342.8,459.69 L343.3,459.69 L343.8,459.69 L344.3,459.69 L344.8,459.69 L345.3,459.69 L345.8,459.69 L346.3,459.69 L346.8,459.69 L347.3,459.69 L347.8,459.69 L348.3,459.69 L348.8,459.69 L349.3,459.69 L349.8,459.69 L350.3,459.69 L350.8,459.69 L351.3,459.69 L351.8,459.69 L352.3,459.69 L352.8,459.69 L353.3,459.69 L353.8,459.69 L354.3,459.69 L354.8,459.69 L355.3,459.69 L355.8,459.69 L356.3,459.69 L356.8,459.69 L357.3,459.69 L357.8,459.69 L358.3,459.69 L358.8,459.69 L359.3,459.69 L359.8,459.69 L360.3,459.68 L360.8,459.68 L361.3,459.68 L361.8,459.68 L362.3,459.68 L362.8,459.68 L363.3,459.68 L363.8,459.68 L364.3,459.68 L364.8,459.68 L365.3,459.67 L365.8,459.67 L366.3,459.67 L366.8,459.67 L367.3,459.67 L367.8,459.67 L368.3,459.66 L368.8,459.66 L369.3,459.66 L369.8,459.66 L370.3,459.65 L370.8,459.65 L371.3,459.65 L371.8,459.64 L372.3,459.64 L372.8,459.64 L373.3,459.63 L373.8,459.63 L374.3,459.62 L374.8,459.62 L375.3,459.61 L375.8,459.61 L376.3,459.60 L376.8,459.60 L377.3,459.59 L377.8,459.58 L378.3,459.57 L378.8,459.57 L379.3,459.56 L379.8,459.55 L380.3,459.54 L380.8,459.53 L381.3,459.52 L381.8,459.50 L382.3,459.49 L382.8,459.48 L383.3,459.46 L383.8,459.45 L384.3,459.43 L384.8,459.42 L385.3,459.40 L385.8,459.38 L386.3,459.36 L386.8,459.33 L387.3,459.31 L387.8,459.29 L388.3,459.26 L388.8,459.23 L389.3,459.20 L389.8,459.17 L390.3,459.13 L390.8,459.10 L391.3,459.06 L391.8,459.01 L392.3,458.97 L392.8,458.92 L393.3,458.87 L393.8,458.82 L394.3,458.76 L394.8,458.70 L395.3,458.64 L395.8,458.57 L396.3,458.49 L396.8,458.42 L397.3,458.33 L397.8,458.25 L398.3,458.15 L398.8,458.05 L399.3,457.94 L399.8,457.83 L400.3,457.71 L400.8,457.58 L401.3,457.45 L401.8,457.30 L402.3,457.15 L402.8,456.98 L403.3,456.81 L403.8,456.62 L404.3,456.42 L404.8,456.21 L405.3,455.99 L405.8,455.75 L406.3,455.50 L406.8,455.23 L407.3,454.95 L407.8,454.64 L408.3,454.32 L408.8,453.98 L409.3,453.62 L409.8,453.23 L410.3,452.82 L410.8,452.39 L411.3,451.92 L411.8,451.43 L412.3,450.92 L412.8,450.36 L413.3,449.78 L413.8,449.16 L414.3,448.51 L414.8,447.81 L415.3,447.08 L415.8,446.30 L416.3,445.48 L416.8,444.61 L417.3,443.69 L417.8,442.72 L418.3,441.70 L418.8,440.61 L419.3,439.47 L419.8,438.27 L420.3,437.00 L420.8,435.67 L421.3,434.27 L421.8,432.80 L422.3,431.25 L422.8,429.63 L423.3,427.93 L423.8,426.15 L424.3,424.28 L424.8,422.34 L425.3,420.31 L425.8,418.20 L426.3,416.00 L426.8,413.71 L427.3,411.34 L427.8,408.88 L428.3,406.34 L428.8,403.72 L429.3,401.02 L429.8,398.25 L430.3,395.40 L430.8,392.49 L431.3,389.52 L431.8,386.49 L432.3,383.43 L432.8,380.32 L433.3,377.19 L433.8,374.04 L434.3,370.89 L434.8,367.75 L435.3,364.64 L435.8,361.56 L436.3,358.53 L436.8,355.56 L437.3,352.69 L437.8,349.91 L438.3,347.25 L438.8,344.72 L439.3,342.34 L439.8,340.13 L440.3,338.10 L440.8,336.26 L441.3,334.63 L441.8,333.23 L442.3,332.05 L442.8,331.11 L443.3,330.42 L443.8,329.99 L444.3,329.81 L444.8,329.89 L445.3,330.26 L445.8,330.91 L446.3,331.84 L446.8,333.03 L447.3,334.47 L447.8,336.16 L448.3,338.08 L448.8,340.21 L449.3,342.53 L449.8,345.03 L450.3,347.69 L450.8,350.48 L451.3,353.39 L451.8,356.40 L452.3,359.49 L452.8,362.63 L453.3,365.82 L453.8,369.04 L454.3,372.26 L454.8,375.48 L455.3,378.67 L455.8,381.84 L456.3,384.96 L456.8,388.03 L457.3,391.04 L457.8,393.98 L458.3,396.84 L458.8,399.62 L459.3,402.32 L459.8,404.93 L460.3,407.45 L460.8,409.88 L461.3,412.22 L461.8,414.46 L462.3,416.61 L462.8,418.67 L463.3,420.64 L463.8,422.53 L464.3,424.32 L464.8,426.03 L465.3,427.66 L465.8,429.21 L466.3,430.68 L466.8,432.08 L467.3,433.41 L467.8,434.67 L468.3,435.87 L468.8,437.00 L469.3,438.08 L469.8,439.09 L470.3,440.06 L470.8,440.97 L471.3,441.83 L471.8,442.65 L472.3,443.42 L472.8,444.15 L473.3,444.85 L473.8,445.50 L474.3,446.12 L474.8,446.71 L475.3,447.26 L475.8,447.79 L476.3,448.29 L476.8,448.76 L477.3,449.21 L477.8,449.63 L478.3,450.03 L478.8,450.42 L479.3,450.78 L479.8,451.12 L480.3,451.45 L480.8,451.76 L481.3,452.05 L481.8,452.33 L482.3,452.60 L482.8,452.85 L483.3,453.09 L483.8,453.32 L484.3,453.54 L484.8,453.75 L485.3,453.95 L485.8,454.14 L486.3,454.32 L486.8,454.50 L487.3,454.66 L487.8,454.82 L488.3,454.97 L488.8,455.12 L489.3,455.26 L489.8,455.39 L490.3,455.52 L490.8,455.65 L491.3,455.77 L491.8,455.88 L492.3,455.99 L492.8,456.10 L493.3,456.20 L493.8,456.30 L494.3,456.39 L494.8,456.48 L495.3,456.57 L495.8,456.66 L496.3,456.74 L496.8,456.82 L497.3,456.90 L497.8,456.97 L498.3,457.04 L498.8,457.11 L499.3,457.18 L499.8,457.25 L500.3,457.31 L500.8,457.37 L501.3,457.43 L501.8,457.49 L502.3,457.55 L502.8,457.60 L503.3,457.65 L503.8,457.70 L504.3,457.75 L504.8,457.80 L505.3,457.85 L505.8,457.90 L506.3,457.94 L506.8,457.98 L507.3,458.03 L507.8,458.07 L508.3,458.11 L508.8,458.15 L509.3,458.18 L509.8,458.22 L510.3,458.26 L510.8,458.29 L511.3,458.33 L511.8,458.36 L512.3,458.39 L512.8,458.42 L513.3,458.45 L513.8,458.48 L514.3,458.51 L514.8,458.54 L515.3,458.57 L515.8,458.60 L516.3,458.62 L516.8,458.65 L517.3,458.68 L517.8,458.70 L518.3,458.72 L518.8,458.75 L519.3,458.77 L519.8,458.79 L520.3,458.81 L520.8,458.84 L521.3,458.86 L521.8,458.88 L522.3,458.90 L522.8,458.91 L523.3,458.93 L523.8,458.95 L524.3,458.97 L524.8,458.99 L525.3,459.00 L525.8,459.02 L526.3,459.04 L526.8,459.05 L527.3,459.07 L527.8,459.08 L528.3,459.10 L528.8,459.11 L529.3,459.13 L529.8,459.14 L530.3,459.15 L530.8,459.17 L531.3,459.18 L531.8,459.19 L532.3,459.20 L532.8,459.22 L533.3,459.23 L533.8,459.24 L534.3,459.25 L534.8,459.26 L535.3,459.27 L535.8,459.28 L536.3,459.29 L536.8,459.30 L537.3,459.31 L537.8,459.32 L538.3,459.33 L538.8,459.34 L539.3,459.35 L539.8,459.36 L540.3,459.36 L540.8,459.37 L541.3,459.38 L541.8,459.39 L542.3,459.40 L542.8,459.40 L543.3,459.41 L543.8,459.42 L544.3,459.42 L544.8,459.43 L545.3,459.44 L545.8,459.44 L546.3,459.45 L546.8,459.46 L547.3,459.46 L547.8,459.47 L548.3,459.47 L548.8,459.48 L549.3,459.48 L549.8,459.49 L550.3,459.49 L550.8,459.50 L551.3,459.50 L551.8,459.51 L552.3,459.51 L552.8,459.52 L553.3,459.52 L553.8,459.53 L554.3,459.53 L554.8,459.53 L555.3,459.54 L555.8,459.54 L556.3,459.55 L556.8,459.55 L557.3,459.55 L557.8,459.56 L558.3,459.56 L558.8,459.56 L559.3,459.57 L559.8,459.57 L560.3,459.57 L560.8,459.58 L561.3,459.58 L561.8,459.58 L562.3,459.59 L562.8,459.59 L563.3,459.59 L563.8,459.59 L564.3,459.60 L564.8,459.60 L565.3,459.60 L565.8,459.60 L566.3,459.61 L566.8,459.61 L567.3,459.61 L567.8,459.61 L568.3,459.61 L568.8,459.62 L569.3,459.62 L569.8,459.62 L570.3,459.62 L570.8,459.62 L571.3,459.63 L571.8,459.63 L572.3,459.63 L572.8,459.63 L573.3,459.63 L573.8,459.63 L574.3,459.64 L574.8,459.64 L575.3,459.64 L575.8,459.64 L576.3,459.64 L576.8,459.64 L577.3,459.65 L577.8,459.65 L578.3,459.65 L578.8,459.65 L579.3,459.65 L579.8,459.65 L580.3,459.65 L580.8,459.65 L581.3,459.65 L581.8,459.66 L582.3,459.66 L582.8,459.66 L583.3,459.66 L583.8,459.66 L584.3,459.66 L584.8,459.66 L585.3,459.66 L585.8,459.66 L586.3,459.66 L586.8,459.67 L587.3,459.67 L587.8,459.67 L588.3,459.67 L588.8,459.67 L589.3,459.67 L589.8,459.67 L590.3,459.67 L590.8,459.67 L591.3,459.67 L591.8,459.67 L592.3,459.67 L592.8,459.67 L593.3,459.67 L593.8,459.68 L594.3,459.68 L594.8,459.68 L595.3,459.68 L595.8,459.68 L596.3,459.68 L596.8,459.68 L597.3,459.68 L597.8,459.68 L598.3,459.68 L598.8,459.68 L599.3,459.68 L599.8,459.68 L600.3,459.68 L600.8,459.68 L601.3,459.68 L601.8,459.68 L602.3,459.68 L602.8,459.68 L603.3,459.68 L603.8,459.69 L604.3,459.69 L604.8,459.69 L605.3,459.69 L605.8,459.69 L606.3,459.69 L606.8,459.69 L607.3,459.69 L607.8,459.69 L608.3,459.69 L608.8,459.69 L609.3,459.69 L609.8,459.69 L610.3,459.69 L610.8,459.69 L611.3,459.69 L611.8,459.69 L612.3,459.69 L612.8,459.69 L613.3,459.69 L613.8,459.69 L614.3,459.69 L614.8,459.69 L615.3,459.69 L615.8,459.69 L616.3,459.69 L616.8,459.69 L617.3,459.69 L617.8,459.69 L618.3,459.69 L618.8,459.69 L619.3,459.69 L619.8,459.69 L620.3,459.69 L620.8,459.69 L621.3,459.69 L621.8,459.69 L622.3,459.69 L622.8,459.69 L623.3,459.69 L623.8,459.69 L624.3,459.69 L624.8,459.69 L625.3,459.69 L625.8,459.69 L626.3,459.69 L626.8,459.69 L627.3,459.69 L627.8,459.69 L628.3,459.69 L628.8,459.69 L629.3,459.69 L629.8,459.69 L630.3,459.69 L630.8,459.69 L631.3,459.69 L631.8,459.69 L632.3,459.69 L632.8,459.69 L633.3,459.69 L633.8,459.69 L634.3,459.69 L634.8,459.69 L635.3,459.69 L635.8,459.69 L636.3,459.69 L636.8,459.69 L637.3,459.69 L637.8,459.69 L638.3,459.69 L638.8,459.69 L639.3,459.69 L639.8,459.69 L640.3,459.69 L640.8,459.69 L641.3,459.69 L641.8,459.69 L642.3,459.69 L642.8,459.69 L643.3,459.69 L643.8,459.69 L644.3,459.69 L644.8,459.69 L645.3,459.68 L645.8,459.68 L646.3,459.68 L646.8,459.68 L647.3,459.68 L647.8,459.68 L648.3,459.68 L648.8,459.68 L649.3,459.68 L649.8,459.68 L650.3,459.67 L650.8,459.67 L651.3,459.67 L651.8,459.67 L652.3,459.67 L652.8,459.66 L653.3,459.66 L653.8,459.66 L654.3,459.66 L654.8,459.66 L655.3,459.65 L655.8,459.65 L656.3,459.65 L656.8,459.64 L657.3,459.64 L657.8,459.64 L658.3,459.63 L658.8,459.63 L659.3,459.62 L659.8,459.62 L660.3,459.61 L660.8,459.61 L661.3,459.60 L661.8,459.59 L662.3,459.59 L662.8,459.58 L663.3,459.57 L663.8,459.56 L664.3,459.56 L664.8,459.55 L665.3,459.54 L665.8,459.53 L666.3,459.51 L666.8,459.50 L667.3,459.49 L667.8,459.48 L668.3,459.46 L668.8,459.45 L669.3,459.43 L669.8,459.41 L670.3,459.39 L670.8,459.37 L671.3,459.35 L671.8,459.33 L672.3,459.31 L672.8,459.28 L673.3,459.25 L673.8,459.22 L674.3,459.19 L674.8,459.16 L675.3,459.13 L675.8,459.09 L676.3,459.05 L676.8,459.01 L677.3,458.96 L677.8,458.91 L678.3,458.86 L678.8,458.81 L679.3,458.75 L679.8,458.69 L680.3,458.62 L680.8,458.55 L681.3,458.48 L681.8,458.40 L682.3,458.32 L682.8,458.23 L683.3,458.13 L683.8,458.03 L684.3,457.92 L684.8,457.81 L685.3,457.69 L685.8,457.56 L686.3,457.42 L686.8,457.27 L687.3,457.11 L687.8,456.95 L688.3,456.77 L688.8,456.58 L689.3,456.38 L689.8,456.17 L690.3,455.94 L690.8,455.70 L691.3,455.45 L691.8,455.18 L692.3,454.89 L692.8,454.58 L693.3,454.25 L693.8,453.91 L694.3,453.54 L694.8,453.15 L695.3,452.73 L695.8,452.30 L696.3,451.83 L696.8,451.33 L697.3,450.81 L697.8,450.25 L698.3,449.66 L698.8,449.04 L699.3,448.37 L699.8,447.67 L700.3,446.93 L700.8,446.14 L701.3,445.31 L701.8,444.43 L702.3,443.50 L702.8,442.52 L703.3,441.48 L703.8,440.39 L704.3,439.24 L704.8,438.02 L705.3,436.74 L705.8,435.40 L706.3,433.98 L706.8,432.49 L707.3,430.93 L707.8,429.29 L708.3,427.58 L708.8,425.78 L709.3,423.90 L709.8,421.94 L710.3,419.89 L710.8,417.76 L711.3,415.55 L711.8,413.24 L712.3,410.85 L712.8,408.38 L713.3,405.82 L713.8,403.19 L714.3,400.47 L714.8,397.68 L715.3,394.82 L715.8,391.90 L716.3,388.92 L716.8,385.88 L717.3,382.81 L717.8,379.70 L718.3,376.56 L718.8,373.41 L719.3,370.27 L719.8,367.13 L720.3,364.02 L720.8,360.94 L721.3,357.93 L721.8,354.98 L722.3,352.12 L722.8,349.37 L723.3,346.73 L723.8,344.23 L724.3,341.89 L724.8,339.71 L725.3,337.71 L725.8,335.92 L726.3,334.33 L726.8,332.97 L727.3,331.84 L727.8,330.95 L728.3,330.31 L728.8,329.93 L729.3,329.80 L729.8,329.94 L730.3,330.37 L730.8,331.07 L731.3,332.05 L731.8,333.30 L732.3,334.79 L732.8,336.53 L733.3,338.49 L733.8,340.66 L734.3,343.02 L734.8,345.55 L735.3,348.24 L735.8,351.05 L736.3,353.99 L736.8,357.01 L737.3,360.11 L737.8,363.27 L738.3,366.47 L738.8,369.68 L739.3,372.90 L739.8,376.12 L740.3,379.31 L740.8,382.47 L741.3,385.58 L741.8,388.64 L742.3,391.63 L742.8,394.56 L743.3,397.40 L743.8,400.17 L744.3,402.85 L744.8,405.44 L745.3,407.95 L745.8,410.36 L746.3,412.67 L746.8,414.90 L747.3,417.03 L747.8,419.08 L748.3,421.03 L748.8,422.89 L749.3,424.67 L749.8,426.36 L750.3,427.98 L750.8,429.51 L751.3,430.97 L751.8,432.35 L752.3,433.67 L752.8,434.92 L753.3,436.10 L753.8,437.22 L754.3,438.28 L754.8,439.29 L755.3,440.24 L755.8,441.14 L756.3,442.00 L756.8,442.81 L757.3,443.57 L757.8,444.29 L758.3,444.98 L758.8,445.63 L759.3,446.24 L759.8,446.82 L760.3,447.37 L760.8,447.89 L761.3,448.39 L761.8,448.85 L762.3,449.29 L762.8,449.71 L763.3,450.11 L763.8,450.49 L764.3,450.85 L764.8,451.19 L765.3,451.51 L765.8,451.82 L766.3,452.11 L766.8,452.38 L767.3,452.65 L767.8,452.90 L768.3,453.14 L768.8,453.37 L769.3,453.58 L769.8,453.79 L770.3,453.99 L770.8,454.18 L771.3,454.36 L771.8,454.53 L772.3,454.69 L772.8,454.85 L773.3,455.00 L773.8,455.15 L774.3,455.29 L774.8,455.42 L775.3,455.55 L775.8,455.67 L776.3,455.79 L776.8,455.90 L777.3,456.01 L777.8,456.12 L778.3,456.22 L778.8,456.32 L779.3,456.41 L779.8,456.50 L780.3,456.59 L780.8,456.67 L781.3,456.76 L781.8,456.84 L782.3,456.91 L782.8,456.99 L783.3,457.06 L783.8,457.13 L784.3,457.19 L784.8,457.26 L785.3,457.32 L785.8,457.38 L786.3,457.44 L786.8,457.50 L787.3,457.56 L787.8,457.61 L788.3,457.66 L788.8,457.71 L789.3,457.76 L789.8,457.81 L790.3,457.86 L790.8,457.90 L791.3,457.95 L791.8,457.99 L792.3,458.03 L792.8,458.08 L793.3,458.12 L793.8,458.15 L794.3,458.19 L794.8,458.23 L795.3,458.26 L795.8,458.30 L796.3,458.33 L796.8,458.37 L797.3,458.40 L797.8,458.43 L798.3,458.46 L798.8,458.49 L799.3,458.52 L799.8,458.55 L800.3,458.58 L800.8,458.60 L801.3,458.63 L801.8,458.65 L802.3,458.68 L802.8,458.70 L803.3,458.73 L803.8,458.75 L804.3,458.77 L804.8,458.80 L805.3,458.82 L805.8,458.84 L806.3,458.86 L806.8,458.88 L807.3,458.90 L807.8,458.92 L808.3,458.94 L808.8,458.96 L809.3,458.97 L809.8,458.99 L810.3,459.01 L810.8,459.02 L811.3,459.04 L811.8,459.06 L812.3,459.07 L812.8,459.09 L813.3,459.10 L813.8,459.12 L814.3,459.13 L814.8,459.14 L815.3,459.16 L815.8,459.17 L816.3,459.18 L816.8,459.19 L817.3,459.21 L817.8,459.22 L818.3,459.23 L818.8,459.24 L819.3,459.25 L819.8,459.26 L820.3,459.27 L820.8,459.28 L821.3,459.29 L821.8,459.30 L822.3,459.31 L822.8,459.32 L823.3,459.33 L823.8,459.34 L824.3,459.35 L824.8,459.36 L825.3,459.37 L825.8,459.37 L826.3,459.38 L826.8,459.39 L827.3,459.40 L827.8,459.40 L828.3,459.41 L828.8,459.42 L829.3,459.42 L829.8,459.43 L830.3,459.44 L830.8,459.44 L831.3,459.45 L831.8,459.46 L832.3,459.46 L832.8,459.47 L833.3,459.47 L833.8,459.48 L834.3,459.48 L834.8,459.49 L835.3,459.49 L835.8,459.50 L836.3,459.50 L836.8,459.51 L837.3,459.51 L837.8,459.52 L838.3,459.52 L838.8,459.53 L839.3,459.53 L839.8,459.54 L840.3,459.54 L840.8,459.54 L841.3,459.55 L841.8,459.55 L842.3,459.55 L842.8,459.56 L843.3,459.56 L843.8,459.56 L844.3,459.57 L844.8,459.57 L845.3,459.57 L845.8,459.58 L846.3,459.58 L846.8,459.58 L847.3,459.59 L847.8,459.59 L848.3,459.59 L848.8,459.59 L849.3,459.60 L849.8,459.60 L850.3,459.60 L850.8,459.60 L851.3,459.61 L851.8,459.61 L852.3,459.61 L852.8,459.61 L853.3,459.61 L853.8,459.62 L854.3,459.62 L854.8,459.62 L855.3,459.62 L855.8,459.62 L856.3,459.63 L856.8,459.63 L857.3,459.63 L857.8,459.63 L858.3,459.63 L858.8,459.64 L859.3,459.64 L859.8,459.64 L860.3,459.64 L860.8,459.64 L861.3,459.64 L861.8,459.64 L862.3,459.65 L862.8,459.65 L863.3,459.65 L863.8,459.65 L864.3,459.65 L864.8,459.65 L865.3,459.65 L865.8,459.65 L866.3,459.66 L866.8,459.66 L867.3,459.66 L867.8,459.66 L868.3,459.66 L868.8,459.66 L869.3,459.66 L869.8,459.66 L870.3,459.66 L870.8,459.66 L871.3,459.66 L871.8,459.67 L872.3,459.67 L872.8,459.67 L873.3,459.67 L873.8,459.67 L874.3,459.67 L874.8,459.67 L875.3,459.67 L875.8,459.67 L876.3,459.67 L876.8,459.67 L877.3,459.67 L877.8,459.67 L878.3,459.68 L878.8,459.68 L879.3,459.68 L879.8,459.68 L880.3,459.68 L880.8,459.68 L881.3,459.68 L881.8,459.68 L882.3,459.68 L882.8,459.68 L883.3,459.68 L883.8,459.68 L884.3,459.68 L884.8,459.68 L885.3,459.68 L885.8,459.68 L886.3,459.68 L886.8,459.68 L887.3,459.68 L887.8,459.68 L888.3,459.68 L888.8,459.69 L889.3,459.69 L889.8,459.69 L890.3,459.69 L890.8,459.69 L891.3,459.69 L891.8,459.69 L892.3,459.69 L892.8,459.69 L893.3,459.69 L893.8,459.69 L894.3,459.69 L894.8,459.69 L895.3,459.69 L895.8,459.69 L896.3,459.69 L896.8,459.69 L897.3,459.69 L897.8,459.69 L898.3,459.69 L898.8,459.69 L899.3,459.69 L899.8,459.69 L900.3,459.69 L900.8,459.69 L901.3,459.69 L901.8,459.69 L902.3,459.69 L902.8,459.69 L903.3,459.69 L903.8,459.69 L904.3,459.69 L904.8,459.69 L905.3,459.69 L905.8,459.69 L906.3,459.69 L906.8,459.69 L907.3,459.69 L907.8,459.69 L908.3,459.69 L908.8,459.69 L909.3,459.69 L909.8,459.69 L910.3,459.69 L910.8,459.69 L911.3,459.69 L911.8,459.69 L912.3,459.69 L912.8,459.69 L913.3,459.69 L913.8,459.69 L914.3,459.69 L914.8,459.69 L915.3,459.69 L915.8,459.69 L916.3,459.69 L916.8,459.69 L917.3,459.69 L917.8,459.69 L918.3,459.69 L918.8,459.69 L919.3,459.69 L919.8,459.69 L920.3,459.69 L920.8,459.69 L921.3,459.69 L921.8,459.69 L922.3,459.69 L922.8,459.69 L923.3,459.69 L923.8,459.69 L924.3,459.69 L924.8,459.69 L925.3,459.69 L925.8,459.69 L926.3,459.69 L926.8,459.69 L927.3,459.69 L927.8,459.69 L928.3,459.69 L928.8,459.69 L929.3,459.68 L929.8,459.68 L930.3,459.68 L930.8,459.68 L931.3,459.68 L931.8,459.68 L932.3,459.68 L932.8,459.68 L933.3,459.68 L933.8,459.67 L934.3,459.67 L934.8,459.67 L935.3,459.67 L935.8,459.67 L936.3,459.67 L936.8,459.66 L937.3,459.66 L937.8,459.66 L938.3,459.66 L938.8,459.65 L939.3,459.65 L939.8,459.65 L940.3,459.64 L940.8,459.64 L941.3,459.64 L941.8,459.63 L942.3,459.63 L942.8,459.62 L943.3,459.62 L943.8,459.61 L944.3,459.61 L944.8,459.60 L945.3,459.60 L945.8,459.59 L946.3,459.58 L946.8,459.58 L947.3,459.57 L947.8,459.56 L948.3,459.55 L948.8,459.54 L949.3,459.53 L949.8,459.52 L950.3,459.51 L950.8,459.49 L951.3,459.48 L951.8,459.47 L952.3,459.45 L952.8,459.44 L953.3,459.42 L953.8,459.40 L954.3,459.38 L954.8,459.36 L955.3,459.34 L955.8,459.32 L956.3,459.29 L956.8,459.26 L957.3,459.24 L957.8,459.21 L958.3,459.17 L958.8,459.14 L959.3,459.10 L959.8,459.06 L960.3,459.02 L960.8,458.98 L961.3,458.93 L961.8,458.88 L962.3,458.83 L962.8,458.77 L963.3,458.71 L963.8,458.65 L964.3,458.58 L964.8,458.51 L965.3,458.43 L965.8,458.35 L966.3,458.26 L966.8,458.17 L967.3,458.07 L967.8,457.97 L968.3,457.85 L968.8,457.74 L969.3,457.61 L969.8,457.47 L970.3,457.33 L970.8,457.18 L971.3,457.02 L971.8,456.84 L972.3,456.66 L972.8,456.46 L973.3,456.26 L973.8,456.04 L974.3,455.80 L974.8,455.55 L975.3,455.29 L975.8,455.00 L976.3,454.70 L976.8,454.39 L977.3,454.05 L977.8,453.69 L978.3,453.31 L978.8,452.90 L979.3,452.47 L979.8,452.02 L980.3,451.53 L980.8,451.02 L981.3,450.48 L981.8,449.90 L982.3,449.29 L982.8,448.64 L983.3,447.96 L983.8,447.23 L984.3,446.46 L984.8,445.65 L985.3,444.79 L985.8,443.88 L986.3,442.92 L986.8,441.90 L987.3,440.83 L987.8,439.71 L988.3,438.52 L988.8,437.26 L989.3,435.94 L989.8,434.56 L990.3,433.10 L990.8,431.57 L991.3,429.96 L991.8,428.27 L992.3,426.51 L992.8,424.66 L993.3,422.74 L993.8,420.72 L994.3,418.63 L994.8,416.44 L995.3,414.17 L995.8,411.82 L996.3,409.38 L996.8,406.86 L997.3,404.25 L997.8,401.57 L998.3,398.81 L998.8,395.97 L999.3,393.08 L999.8,390.12 L1000.3,387.10 L1000.8,384.04 L1001.3,380.94 L1001.8,377.82 L1002.3,374.67 L1002.8,371.52 L1003.3,368.38 L1003.8,365.26 L1004.3,362.17 L1004.8,359.13 L1005.3,356.15 L1005.8,353.25 L1006.3,350.46 L1006.8,347.77 L1007.3,345.21 L1007.8,342.81 L1008.3,340.56 L1008.8,338.49 L1009.3,336.61 L1009.8,334.94 L1010.3,333.49 L1010.8,332.26 L1011.3,331.28 L1011.8,330.54 L1012.3,330.05 L1012.8,329.82 L1013.3,329.85 L1013.8,330.16 L1014.3,330.76 L1014.8,331.63 L1015.3,332.77 L1015.8,334.16 L1016.3,335.81 L1016.8,337.68 L1017.3,339.77 L1017.8,342.05 L1018.3,344.52 L1018.8,347.14 L1019.3,349.91 L1019.8,352.80 L1020.3,355.79 L1020.8,358.87 L1021.3,362.00 L1021.8,365.18 L1022.3,368.39 L1022.8,371.62 L1023.3,374.84 L1023.8,378.04 L1024.3,381.21 L1024.8,384.34 L1025.3,387.42 L1025.8,390.44 L1026.3,393.40 L1026.8,396.27 L1027.3,399.07 L1027.8,401.79 L1028.3,404.42 L1028.8,406.96 L1029.3,409.40 L1029.8,411.76 L1030.3,414.02 L1030.8,416.19 L1031.3,418.27 L1031.8,420.26 L1032.3,422.16 L1032.8,423.97 L1033.3,425.70 L1033.8,427.34 L1034.3,428.91 L1034.8,430.40 L1035.3,431.81 L1035.8,433.15 L1036.3,434.43 L1036.8,435.63 L1037.3,436.78 L1037.8,437.87 L1038.3,438.89 L1038.8,439.87 L1039.3,440.79 L1039.8,441.66 L1040.3,442.49 L1040.8,443.27 L1041.3,444.01 L1041.8,444.71 L1042.3,445.37 L1042.8,446.00 L1043.3,446.59 L1043.8,447.16 L1044.3,447.69 L1044.8,448.19 L1045.3,448.67 L1045.8,449.12 L1046.3,449.55 L1046.8,449.96 L1047.3,450.34 L1047.8,450.71 L1048.3,451.05 L1048.8,451.38 L1049.3,451.70 L1049.8,451.99 L1050.3,452.28 L1050.8,452.54 L1051.3,452.80 L1051.8,453.04 L1052.3,453.28 L1052.8,453.50 L1053.3,453.71 L1053.8,453.91 L1054.3,454.10 L1054.8,454.29 L1055.3,454.46 L1055.8,454.63 L1056.3,454.79 L1056.8,454.94 L1057.3,455.09 L1057.8,455.23 L1058.3,455.37 L1058.8,455.50 L1059.3,455.62 L1059.8,455.74 L1060.3,455.86 L1060.8,455.97 L1061.3,456.08 L1061.8,456.18 L1062.3,456.28 L1062.8,456.37 L1063.3,456.47 L1063.8,456.56 L1064.3,456.64 L1064.8,456.72 L1065.3,456.80 L1065.8,456.88 L1066.3,456.96 L1066.8,457.03 L1067.3,457.10 L1067.8,457.17 L1068.3,457.23 L1068.8,457.30 L1069.3,457.36 L1069.8,457.42 L1070.3,457.48 L1070.8,457.53 L1071.3,457.59 L1071.8,457.64 L1072.3,457.69 L1072.8,457.74 L1073.3,457.79 L1073.8,457.84 L1074.3,457.89 L1074.8,457.93 L1075.3,457.98 L1075.8,458.02 L1076.3,458.06 L1076.8,458.10 L1077.3,458.14 L1077.8,458.18 L1078.3,458.21 L1078.8,458.25 L1079.3,458.29 L1079.8,458.32 L1080.3,458.35 L1080.8,458.39 L1081.3,458.42 L1081.8,458.45 L1082.3,458.48 L1082.8,458.51 L1083.3,458.54 L1083.8,458.56 L1084.3,458.59 L1084.8,458.62 L1085.3,458.64 L1085.8,458.67 L1086.3,458.69 L1086.8,458.72 L1087.3,458.74 L1087.8,458.77 L1088.3,458.79 L1088.8,458.81 L1089.3,458.83 L1089.8,458.85 L1090.3,458.87 L1090.8,458.89 L1091.3,458.91 L1091.8,458.93 L1092.3,458.95 L1092.8,458.97 L1093.3,458.98 L1093.8,459.00 L1094.3,459.02 L1094.8,459.03 L1095.3,459.05 L1095.8,459.07 L1096.3,459.08 L1096.8,459.10 L1097.3,459.11 L1097.8,459.12 L1098.3,459.14 L1098.8,459.15 L1099.3,459.16 L1099.8,459.18 L1100.3,459.19 L1100.8,459.20 L1101.3,459.21 L1101.8,459.23 L1102.3,459.24 L1102.8,459.25 L1103.3,459.26 L1103.8,459.27 L1104.3,459.28 L1104.8,459.29 L1105.3,459.30 L1105.8,459.31 L1106.3,459.32 L1106.8,459.33 L1107.3,459.34 L1107.8,459.35 L1108.3,459.35 L1108.8,459.36 L1109.3,459.37 L1109.8,459.38 L1110.3,459.39 L1110.8,459.39 L1111.3,459.40 L1111.8,459.41 L1112.3,459.42 L1112.8,459.42 L1113.3,459.43 L1113.8,459.44 L1114.3,459.44 L1114.8,459.45 L1115.3,459.45 L1115.8,459.46 L1116.3,459.47 L1116.8,459.47 L1117.3,459.48 L1117.8,459.48 L1118.3,459.49 L1118.8,459.49 L1119.3,459.50 L1119.8,459.50 L1120.3,459.51 L1120.8,459.51 L1121.3,459.52 L1121.8,459.52 L1122.3,459.53 L1122.8,459.53 L1123.3,459.53 L1123.8,459.54 L1124.3,459.54 L1124.8,459.55 L1125.3,459.55 L1125.8,459.55 L1126.3,459.56 L1126.8,459.56 L1127.3,459.56 L1127.8,459.57 L1128.3,459.57 L1128.8,459.57 L1129.3,459.58 L1129.8,459.58 L1130.3,459.58 L1130.8,459.58 L1131.3,459.59 L1131.8,459.59 L1132.3,459.59 L1132.8,459.60 L1133.3,459.60 L1133.8,459.60 L1134.3,459.60 L1134.8,459.61 L1135.3,459.61 L1135.8,459.61 L1136.3,459.61 L1136.8,459.61 L1137.3,459.62 L1137.8,459.62 L1138.3,459.62 L1138.8,459.62 L1139.3,459.62 L1139.8,459.63 L1140.3,459.63 L1140.8,459.63 L1141.3,459.63 L1141.8,459.63 L1142.3,459.63 L1142.8,459.64 L1143.3,459.64 L1143.8,459.64 L1144.3,459.64 L1144.8,459.64 L1145.3,459.64 L1145.8,459.64 L1146.3,459.65 L1146.8,459.65 L1147.3,459.65 L1147.8,459.65 L1148.3,459.65 L1148.8,459.65 L1149.3,459.65 L1149.8,459.65 L1150.3,459.66 L1150.8,459.66 L1151.3,459.66 L1151.8,459.66 L1152.3,459.66 L1152.8,459.66 L1153.3,459.66 L1153.8,459.66 L1154.3,459.66 L1154.8,459.66 L1155.3,459.67 L1155.8,459.67 L1156.3,459.67 L1156.8,459.67 L1157.3,459.67 L1157.8,459.67 L1158.3,459.67 L1158.8,459.67 L1159.3,459.67 L1159.8,459.67 L1160.3,459.67 L1160.8,459.67 L1161.3,459.67 L1161.8,459.67 L1162.3,459.68 L1162.8,459.68 L1163.3,459.68 L1163.8,459.68 L1164.3,459.68 L1164.8,459.68 L1165.3,459.68 L1165.8,459.68 L1166.3,459.68 L1166.8,459.68 L1167.3,459.68 L1167.8,459.68 L1168.3,459.68 L1168.8,459.68 L1169.3,459.68 L1169.8,459.68 L1170.3,459.68 L1170.8,459.68 L1171.3,459.68 L1171.8,459.68 L1172.3,459.68 L1172.8,459.69 L1173.3,459.69 L1173.8,459.69 L1174.3,459.69 L1174.8,459.69 L1175.3,459.69 L1175.8,459.69 L1176.3,459.69 L1176.8,459.69 L1177.3,459.69 L1177.8,459.69 L1178.3,459.69 L1178.8,459.69 L1179.3,459.69 L1179.8,459.69 L1180.3,459.69 L1180.8,459.69 L1181.3,459.69 L1181.8,459.69 L1182.3,459.69 L1182.8,459.69 L1183.3,459.69 L1183.8,459.69 L1184.3,459.69 L1184.8,459.69 L1185.3,459.69 L1185.8,459.69 L1186.3,459.69 L1186.8,459.69 L1187.3,459.69 L1187.8,459.69 L1188.3,459.69 L1188.8,459.69 L1189.3,459.69 L1189.8,459.69 L1190.3,459.69 L1190.8,459.69 L1191.3,459.69 L1191.8,459.69 L1192.3,459.69 L1192.8,459.69 L1193.3,459.69 L1193.8,459.69 L1194.3,459.69 L1194.8,459.69 L1195.3,459.69 L1195.8,459.69 L1196.3,459.69 L1196.8,459.69 L1197.3,459.69 L1197.8,459.69 L1198.3,459.69 L1198.8,459.69 L1199.3,459.69 L1199.8,459.69 L1200.3,459.69 L1200.8,459.69 L1201.3,459.69 L1201.8,459.69 L1202.3,459.69 L1202.8,459.69 L1203.3,459.69 L1203.8,459.69 L1204.3,459.69 L1204.8,459.69 L1205.3,459.69 L1205.8,459.69 L1206.3,459.69 L1206.8,459.69 L1207.3,459.69 L1207.8,459.69 L1208.3,459.69 L1208.8,459.69 L1209.3,459.69 L1209.8,459.69 L1210.3,459.69 L1210.8,459.69 L1211.3,459.69 L1211.8,459.69 L1212.3,459.69 L1212.8,459.69 L1213.3,459.68 L1213.8,459.68 L1214.3,459.68 L1214.8,459.68 L1215.3,459.68 L1215.8,459.68 L1216.3,459.68 L1216.8,459.68 L1217.3,459.68 L1217.8,459.68 L1218.3,459.67 L1218.8,459.67 L1219.3,459.67 L1219.8,459.67 L1220.3,459.67 L1220.8,459.66 L1221.3,459.66 L1221.8,459.66 L1222.3,459.66 L1222.8,459.66 L1223.3,459.65 L1223.8,459.65 L1224.3,459.65 L1224.8,459.64 L1225.3,459.64 L1225.8,459.64 L1226.3,459.63 L1226.8,459.63 L1227.3,459.62 L1227.8,459.62 L1228.3,459.61 L1228.8,459.61 L1229.3,459.60 L1229.8,459.59 L1230.3,459.59 L1230.8,459.58 L1231.3,459.57 L1231.8,459.56 L1232.3,459.56 L1232.8,459.55 L1233.3,459.54 L1233.8,459.53 L1234.3,459.51 L1234.8,459.50 L1235.3,459.49 L1235.8,459.48 L1236.3,459.46 L1236.8,459.45 L1237.3,459.43 L1237.8,459.41 L1238.3,459.39 L1238.8,459.37 L1239.3,459.35 L1239.8,459.33 L1240.3,459.31 L1240.8,459.28 L1241.3,459.25 L1241.8,459.22 L1242.3,459.19 L1242.8,459.16 L1243.3,459.13 L1243.8,459.09 L1244.3,459.05 L1244.8,459.01 L1245.3,458.96 L1245.8,458.91 L1246.3,458.86 L1246.8,458.81 L1247.3,458.75 L1247.8,458.69 L1248.3,458.62 L1248.8,458.55 L1249.3,458.48 L1249.8,458.40 L1250.3,458.32 L1250.8,458.23 L1251.3,458.13 L1251.8,458.03 L1252.3,457.92 L1252.8,457.81 L1253.3,457.69 L1253.8,457.56 L1254.3,457.42 L1254.8,457.27 L1255.3,457.11 L1255.8,456.95 L1256.3,456.77 L1256.8,456.58 L1257.3,456.38 L1257.8,456.17 L1258.3,455.94 L1258.8,455.70 L1259.3,455.45 L1259.8,455.18 L1260.3,454.89 L1260.8,454.58 L1261.3,454.25 L1261.8,453.91 L1262.3,453.54 L1262.8,453.15 L1263.3,452.73 L1263.8,452.30 L1264.3,451.83 L1264.8,451.33 L1265.3,450.81 L1265.8,450.25 L1266.3,449.66 L1266.8,449.04 L1267.3,448.37 L1267.8,447.67 L1268.3,446.93 L1268.8,446.14 L1269.3,445.31 L1269.8,444.43 L1270.3,443.50 L1270.8,442.52 L1271.3,441.48 L1271.8,440.39 L1272.3,439.24 L1272.8,438.02 L1273.3,436.74 L1273.8,435.40 L1274.3,433.98 L1274.8,432.49 L1275.3,430.93 L1275.8,429.29 L1276.3,427.58 L1276.8,425.78 L1277.3,423.90 L1277.8,421.94 L1278.3,419.89 L1278.8,417.76 L1279.3,415.55 L1279.8,413.24 L1280.3,410.85 L1280.8,408.38 L1281.3,405.82 L1281.8,403.19 L1282.3,400.47 L1282.8,397.68 L1283.3,394.82 L1283.8,391.90 L1284.3,388.92 L1284.8,385.88 L1285.3,382.81 L1285.8,379.70 L1286.3,376.56 L1286.8,373.41 L1287.3,370.27 L1287.8,367.13 L1288.3,364.02 L1288.8,360.94 L1289.3,357.93 L1289.8,354.98 L1290.3,352.12 L1290.8,349.37 L1291.3,346.73 L1291.8,344.23 L1292.3,341.89 L1292.8,339.71 L1293.3,337.71 L1293.8,335.92 L1294.3,334.33 L1294.8,332.97 L1295.3,331.84 L1295.8,330.95 L1296.3,330.31 L1296.8,329.93 L1297.3,329.80 L1297.8,329.94 L1298.3,330.37 L1298.8,331.07 L1299.3,332.05 L1299.8,333.30 L1300.3,334.79 L1300.8,336.53 L1301.3,338.49 L1301.8,340.66 L1302.3,343.02 L1302.8,345.55 L1303.3,348.24 L1303.8,351.05 L1304.3,353.99 L1304.8,357.01 L1305.3,360.11 L1305.8,363.27 L1306.3,366.47 L1306.8,369.68 L1307.3,372.90 L1307.8,376.12 L1308.3,379.31 L1308.8,382.47 L1309.3,385.58 L1309.8,388.64 L1310.3,391.63 L1310.8,394.56 L1311.3,397.40 L1311.8,400.17 L1312.3,402.85 L1312.8,405.44 L1313.3,407.95 L1313.8,410.36 L1314.3,412.67 L1314.8,414.90 L1315.3,417.03 L1315.8,419.08 L1316.3,421.03 L1316.8,422.89 L1317.3,424.67 L1317.8,426.36 L1318.3,427.98 L1318.8,429.51 L1319.3,430.97 L1319.8,432.35 L1320.3,433.67 L1320.8,434.92 L1321.3,436.10 L1321.8,437.22 L1322.3,438.28 L1322.8,439.29 L1323.3,440.24 L1323.8,441.14 L1324.3,442.00 L1324.8,442.81 L1325.3,443.57 L1325.8,444.29 L1326.3,444.98 L1326.8,445.63 L1327.3,446.24 L1327.8,446.82 L1328.3,447.37 L1328.8,447.89 L1329.3,448.39 L1329.8,448.85 L1330.3,449.29 L1330.8,449.71 L1331.3,450.11" fill="none" stroke="#ff0000" stroke-width="2.45" stroke-linejoin="round" clip-path="url(#ca)"/>
<path d="M101.3,636.15 L101.8,636.07 L102.3,635.99 L102.8,635.90 L103.3,635.81 L103.8,635.72 L104.3,635.62 L104.8,635.51 L105.3,635.41 L105.8,635.29 L106.3,635.17 L106.8,635.05 L107.3,634.92 L107.8,634.78 L108.3,634.64 L108.8,634.49 L109.3,634.34 L109.8,634.18 L110.3,634.00 L110.8,633.83 L111.3,633.64 L111.8,633.44 L112.3,633.24 L112.8,633.02 L113.3,632.79 L113.8,632.56 L114.3,632.31 L114.8,632.05 L115.3,631.78 L115.8,631.49 L116.3,631.19 L116.8,630.87 L117.3,630.54 L117.8,630.20 L118.3,629.83 L118.8,629.45 L119.3,629.05 L119.8,628.63 L120.3,628.19 L120.8,627.72 L121.3,627.23 L121.8,626.72 L122.3,626.18 L122.8,625.61 L123.3,625.02 L123.8,624.39 L124.3,623.74 L124.8,623.04 L125.3,622.32 L125.8,621.55 L126.3,620.74 L126.8,619.90 L127.3,619.01 L127.8,618.07 L128.3,617.08 L128.8,616.05 L129.3,614.95 L129.8,613.81 L130.3,612.60 L130.8,611.33 L131.3,609.99 L131.8,608.59 L132.3,607.12 L132.8,605.57 L133.3,603.95 L133.8,602.24 L134.3,600.46 L134.8,598.58 L135.3,596.62 L135.8,594.58 L136.3,592.44 L136.8,590.20 L137.3,587.88 L137.8,585.46 L138.3,582.95 L138.8,580.34 L139.3,577.65 L139.8,574.87 L140.3,572.01 L140.8,569.08 L141.3,566.08 L141.8,563.02 L142.3,559.91 L142.8,556.76 L143.3,553.60 L143.8,550.43 L144.3,547.27 L144.8,544.14 L145.3,541.06 L145.8,538.05 L146.3,535.14 L146.8,532.35 L147.3,529.70 L147.8,527.22 L148.3,524.94 L148.8,522.86 L149.3,521.03 L149.8,519.45 L150.3,518.14 L150.8,517.13 L151.3,516.41 L151.8,516.00 L152.3,515.91 L152.8,516.14 L153.3,516.70 L153.8,517.58 L154.3,518.77 L154.8,520.25 L155.3,522.02 L155.8,524.05 L156.3,526.33 L156.8,528.82 L157.3,531.50 L157.8,534.35 L158.3,537.34 L158.8,540.45 L159.3,543.66 L159.8,546.93 L160.3,550.24 L160.8,553.58 L161.3,556.93 L161.8,560.25 L162.3,563.55 L162.8,566.80 L163.3,569.99 L163.8,573.10 L164.3,576.14 L164.8,579.09 L165.3,581.95 L165.8,584.70 L166.3,587.36 L166.8,589.91 L167.3,592.35 L167.8,594.69 L168.3,596.92 L168.8,599.04 L169.3,601.07 L169.8,602.99 L170.3,604.81 L170.8,606.54 L171.3,608.18 L171.8,609.73 L172.3,611.20 L172.8,612.58 L173.3,613.89 L173.8,615.12 L174.3,616.28 L174.8,617.38 L175.3,618.41 L175.8,619.38 L176.3,620.30 L176.8,621.17 L177.3,621.98 L177.8,622.75 L178.3,623.47 L178.8,624.15 L179.3,624.80 L179.8,625.40 L180.3,625.97 L180.8,626.51 L181.3,627.02 L181.8,627.50 L182.3,627.95 L182.8,628.38 L183.3,628.79 L183.8,629.17 L184.3,629.53 L184.8,629.87 L185.3,630.20 L185.8,630.51 L186.3,630.80 L186.8,631.08 L187.3,631.34 L187.8,631.59 L188.3,631.83 L188.8,632.06 L189.3,632.27 L189.8,632.48 L190.3,632.67 L190.8,632.86 L191.3,633.04 L191.8,633.21 L192.3,633.37 L192.8,633.53 L193.3,633.68 L193.8,633.82 L194.3,633.96 L194.8,634.09 L195.3,634.21 L195.8,634.33 L196.3,634.45 L196.8,634.56 L197.3,634.67 L197.8,634.77 L198.3,634.87 L198.8,634.97 L199.3,635.06 L199.8,635.15 L200.3,635.23 L200.8,635.31 L201.3,635.39 L201.8,635.47 L202.3,635.54 L202.8,635.62 L203.3,635.69 L203.8,635.75 L204.3,635.82 L204.8,635.88 L205.3,635.94 L205.8,636.00 L206.3,636.05 L206.8,636.11 L207.3,636.16 L207.8,636.21 L208.3,636.26 L208.8,636.31 L209.3,636.36 L209.8,636.40 L210.3,636.45 L210.8,636.49 L211.3,636.53 L211.8,636.57 L212.3,636.61 L212.8,636.65 L213.3,636.68 L213.8,636.72 L214.3,636.75 L214.8,636.79 L215.3,636.82 L215.8,636.85 L216.3,636.88 L216.8,636.91 L217.3,636.94 L217.8,636.97 L218.3,636.99 L218.8,637.02 L219.3,637.04 L219.8,637.07 L220.3,637.09 L220.8,637.12 L221.3,637.14 L221.8,637.16 L222.3,637.18 L222.8,637.20 L223.3,637.22 L223.8,637.24 L224.3,637.26 L224.8,637.28 L225.3,637.30 L225.8,637.31 L226.3,637.33 L226.8,637.35 L227.3,637.36 L227.8,637.38 L228.3,637.39 L228.8,637.41 L229.3,637.42 L229.8,637.44 L230.3,637.45 L230.8,637.46 L231.3,637.48 L231.8,637.49 L232.3,637.50 L232.8,637.51 L233.3,637.52 L233.8,637.53 L234.3,637.54 L234.8,637.55 L235.3,637.56 L235.8,637.57 L236.3,637.58 L236.8,637.59 L237.3,637.60 L237.8,637.61 L238.3,637.62 L238.8,637.63 L239.3,637.63 L239.8,637.64 L240.3,637.65 L240.8,637.66 L241.3,637.66 L241.8,637.67 L242.3,637.68 L242.8,637.68 L243.3,637.69 L243.8,637.70 L244.3,637.70 L244.8,637.71 L245.3,637.71 L245.8,637.72 L246.3,637.72 L246.8,637.73 L247.3,637.73 L247.8,637.74 L248.3,637.74 L248.8,637.75 L249.3,637.75 L249.8,637.76 L250.3,637.76 L250.8,637.76 L251.3,637.77 L251.8,637.77 L252.3,637.78 L252.8,637.78 L253.3,637.78 L253.8,637.79 L254.3,637.79 L254.8,637.79 L255.3,637.80 L255.8,637.80 L256.3,637.80 L256.8,637.80 L257.3,637.81 L257.8,637.81 L258.3,637.81 L258.8,637.82 L259.3,637.82 L259.8,637.82 L260.3,637.82 L260.8,637.82 L261.3,637.83 L261.8,637.83 L262.3,637.83 L262.8,637.83 L263.3,637.84 L263.8,637.84 L264.3,637.84 L264.8,637.84 L265.3,637.84 L265.8,637.84 L266.3,637.85 L266.8,637.85 L267.3,637.85 L267.8,637.85 L268.3,637.85 L268.8,637.85 L269.3,637.85 L269.8,637.86 L270.3,637.86 L270.8,637.86 L271.3,637.86 L271.8,637.86 L272.3,637.86 L272.8,637.86 L273.3,637.86 L273.8,637.86 L274.3,637.87 L274.8,637.87 L275.3,637.87 L275.8,637.87 L276.3,637.87 L276.8,637.87 L277.3,637.87 L277.8,637.87 L278.3,637.87 L278.8,637.87 L279.3,637.87 L279.8,637.88 L280.3,637.88 L280.8,637.88 L281.3,637.88 L281.8,637.88 L282.3,637.88 L282.8,637.88 L283.3,637.88 L283.8,637.88 L284.3,637.88 L284.8,637.88 L285.3,637.88 L285.8,637.88 L286.3,637.88 L286.8,637.88 L287.3,637.88 L287.8,637.88 L288.3,637.88 L288.8,637.89 L289.3,637.89 L289.8,637.89 L290.3,637.89 L290.8,637.89 L291.3,637.89 L291.8,637.89 L292.3,637.89 L292.8,637.89 L293.3,637.89 L293.8,637.89 L294.3,637.89 L294.8,637.89 L295.3,637.89 L295.8,637.89 L296.3,637.89 L296.8,637.89 L297.3,637.89 L297.8,637.89 L298.3,637.89 L298.8,637.89 L299.3,637.89 L299.8,637.89 L300.3,637.89 L300.8,637.89 L301.3,637.89 L301.8,637.89 L302.3,637.89 L302.8,637.89 L303.3,637.89 L303.8,637.89 L304.3,637.89 L304.8,637.89 L305.3,637.89 L305.8,637.89 L306.3,637.89 L306.8,637.89 L307.3,637.89 L307.8,637.89 L308.3,637.89 L308.8,637.89 L309.3,637.89 L309.8,637.89 L310.3,637.89 L310.8,637.89 L311.3,637.89 L311.8,637.89 L312.3,637.89 L312.8,637.89 L313.3,637.89 L313.8,637.89 L314.3,637.89 L314.8,637.89 L315.3,637.89 L315.8,637.89 L316.3,637.89 L316.8,637.89 L317.3,637.89 L317.8,637.89 L318.3,637.89 L318.8,637.89 L319.3,637.89 L319.8,637.89 L320.3,637.89 L320.8,637.89 L321.3,637.89 L321.8,637.89 L322.3,637.89 L322.8,637.89 L323.3,637.89 L323.8,637.89 L324.3,637.89 L324.8,637.89 L325.3,637.89 L325.8,637.89 L326.3,637.89 L326.8,637.89 L327.3,637.89 L327.8,637.89 L328.3,637.89 L328.8,637.89 L329.3,637.89 L329.8,637.89 L330.3,637.89 L330.8,637.89 L331.3,637.89 L331.8,637.89 L332.3,637.89 L332.8,637.89 L333.3,637.89 L333.8,637.88 L334.3,637.88 L334.8,637.88 L335.3,637.88 L335.8,637.88 L336.3,637.88 L336.8,637.88 L337.3,637.88 L337.8,637.88 L338.3,637.88 L338.8,637.88 L339.3,637.88 L339.8,637.88 L340.3,637.87 L340.8,637.87 L341.3,637.87 L341.8,637.87 L342.3,637.87 L342.8,637.87 L343.3,637.87 L343.8,637.87 L344.3,637.86 L344.8,637.86 L345.3,637.86 L345.8,637.86 L346.3,637.86 L346.8,637.86 L347.3,637.85 L347.8,637.85 L348.3,637.85 L348.8,637.85 L349.3,637.85 L349.8,637.84 L350.3,637.84 L350.8,637.84 L351.3,637.84 L351.8,637.83 L352.3,637.83 L352.8,637.83 L353.3,637.82 L353.8,637.82 L354.3,637.82 L354.8,637.81 L355.3,637.81 L355.8,637.81 L356.3,637.80 L356.8,637.80 L357.3,637.79 L357.8,637.79 L358.3,637.79 L358.8,637.78 L359.3,637.77 L359.8,637.77 L360.3,637.76 L360.8,637.76 L361.3,637.75 L361.8,637.74 L362.3,637.74 L362.8,637.73 L363.3,637.72 L363.8,637.72 L364.3,637.71 L364.8,637.70 L365.3,637.69 L365.8,637.68 L366.3,637.67 L366.8,637.66 L367.3,637.65 L367.8,637.64 L368.3,637.63 L368.8,637.62 L369.3,637.60 L369.8,637.59 L370.3,637.58 L370.8,637.56 L371.3,637.55 L371.8,637.53 L372.3,637.52 L372.8,637.50 L373.3,637.48 L373.8,637.46 L374.3,637.45 L374.8,637.43 L375.3,637.40 L375.8,637.38 L376.3,637.36 L376.8,637.34 L377.3,637.31 L377.8,637.28 L378.3,637.26 L378.8,637.23 L379.3,637.20 L379.8,637.17 L380.3,637.14 L380.8,637.10 L381.3,637.07 L381.8,637.03 L382.3,636.99 L382.8,636.95 L383.3,636.91 L383.8,636.86 L384.3,636.82 L384.8,636.77 L385.3,636.72 L385.8,636.67 L386.3,636.61 L386.8,636.55 L387.3,636.49 L387.8,636.43 L388.3,636.36 L388.8,636.29 L389.3,636.22 L389.8,636.15 L390.3,636.07 L390.8,635.99 L391.3,635.90 L391.8,635.81 L392.3,635.72 L392.8,635.62 L393.3,635.51 L393.8,635.41 L394.3,635.29 L394.8,635.17 L395.3,635.05 L395.8,634.92 L396.3,634.78 L396.8,634.64 L397.3,634.49 L397.8,634.34 L398.3,634.18 L398.8,634.00 L399.3,633.83 L399.8,633.64 L400.3,633.44 L400.8,633.24 L401.3,633.02 L401.8,632.79 L402.3,632.56 L402.8,632.31 L403.3,632.05 L403.8,631.78 L404.3,631.49 L404.8,631.19 L405.3,630.87 L405.8,630.54 L406.3,630.20 L406.8,629.83 L407.3,629.45 L407.8,629.05 L408.3,628.63 L408.8,628.19 L409.3,627.72 L409.8,627.23 L410.3,626.72 L410.8,626.18 L411.3,625.61 L411.8,625.02 L412.3,624.39 L412.8,623.74 L413.3,623.04 L413.8,622.32 L414.3,621.55 L414.8,620.74 L415.3,619.90 L415.8,619.01 L416.3,618.07 L416.8,617.08 L417.3,616.05 L417.8,614.95 L418.3,613.81 L418.8,612.60 L419.3,611.33 L419.8,609.99 L420.3,608.59 L420.8,607.12 L421.3,605.57 L421.8,603.95 L422.3,602.24 L422.8,600.46 L423.3,598.58 L423.8,596.62 L424.3,594.58 L424.8,592.44 L425.3,590.20 L425.8,587.88 L426.3,585.46 L426.8,582.95 L427.3,580.34 L427.8,577.65 L428.3,574.87 L428.8,572.01 L429.3,569.08 L429.8,566.08 L430.3,563.02 L430.8,559.91 L431.3,556.76 L431.8,553.60 L432.3,550.43 L432.8,547.27 L433.3,544.14 L433.8,541.06 L434.3,538.05 L434.8,535.14 L435.3,532.35 L435.8,529.70 L436.3,527.22 L436.8,524.94 L437.3,522.86 L437.8,521.03 L438.3,519.45 L438.8,518.14 L439.3,517.13 L439.8,516.41 L440.3,516.00 L440.8,515.91 L441.3,516.14 L441.8,516.70 L442.3,517.58 L442.8,518.77 L443.3,520.25 L443.8,522.02 L444.3,524.05 L444.8,526.33 L445.3,528.82 L445.8,531.50 L446.3,534.35 L446.8,537.34 L447.3,540.45 L447.8,543.66 L448.3,546.93 L448.8,550.24 L449.3,553.58 L449.8,556.93 L450.3,560.25 L450.8,563.55 L451.3,566.80 L451.8,569.99 L452.3,573.10 L452.8,576.14 L453.3,579.09 L453.8,581.95 L454.3,584.70 L454.8,587.36 L455.3,589.91 L455.8,592.35 L456.3,594.69 L456.8,596.92 L457.3,599.04 L457.8,601.07 L458.3,602.99 L458.8,604.81 L459.3,606.54 L459.8,608.18 L460.3,609.73 L460.8,611.20 L461.3,612.58 L461.8,613.89 L462.3,615.12 L462.8,616.28 L463.3,617.38 L463.8,618.41 L464.3,619.38 L464.8,620.30 L465.3,621.17 L465.8,621.98 L466.3,622.75 L466.8,623.47 L467.3,624.15 L467.8,624.80 L468.3,625.40 L468.8,625.97 L469.3,626.51 L469.8,627.02 L470.3,627.50 L470.8,627.95 L471.3,628.38 L471.8,628.79 L472.3,629.17 L472.8,629.53 L473.3,629.87 L473.8,630.20 L474.3,630.51 L474.8,630.80 L475.3,631.08 L475.8,631.34 L476.3,631.59 L476.8,631.83 L477.3,632.06 L477.8,632.27 L478.3,632.48 L478.8,632.67 L479.3,632.86 L479.8,633.04 L480.3,633.21 L480.8,633.37 L481.3,633.53 L481.8,633.68 L482.3,633.82 L482.8,633.96 L483.3,634.09 L483.8,634.21 L484.3,634.33 L484.8,634.45 L485.3,634.56 L485.8,634.67 L486.3,634.77 L486.8,634.87 L487.3,634.97 L487.8,635.06 L488.3,635.15 L488.8,635.23 L489.3,635.31 L489.8,635.39 L490.3,635.47 L490.8,635.54 L491.3,635.62 L491.8,635.69 L492.3,635.75 L492.8,635.82 L493.3,635.88 L493.8,635.94 L494.3,636.00 L494.8,636.05 L495.3,636.11 L495.8,636.16 L496.3,636.21 L496.8,636.26 L497.3,636.31 L497.8,636.36 L498.3,636.40 L498.8,636.45 L499.3,636.49 L499.8,636.53 L500.3,636.57 L500.8,636.61 L501.3,636.65 L501.8,636.68 L502.3,636.72 L502.8,636.75 L503.3,636.79 L503.8,636.82 L504.3,636.85 L504.8,636.88 L505.3,636.91 L505.8,636.94 L506.3,636.97 L506.8,636.99 L507.3,637.02 L507.8,637.04 L508.3,637.07 L508.8,637.09 L509.3,637.12 L509.8,637.14 L510.3,637.16 L510.8,637.18 L511.3,637.20 L511.8,637.22 L512.3,637.24 L512.8,637.26 L513.3,637.28 L513.8,637.30 L514.3,637.31 L514.8,637.33 L515.3,637.35 L515.8,637.36 L516.3,637.38 L516.8,637.39 L517.3,637.41 L517.8,637.42 L518.3,637.44 L518.8,637.45 L519.3,637.46 L519.8,637.48 L520.3,637.49 L520.8,637.50 L521.3,637.51 L521.8,637.52 L522.3,637.53 L522.8,637.54 L523.3,637.55 L523.8,637.56 L524.3,637.57 L524.8,637.58 L525.3,637.59 L525.8,637.60 L526.3,637.61 L526.8,637.62 L527.3,637.63 L527.8,637.63 L528.3,637.64 L528.8,637.65 L529.3,637.66 L529.8,637.66 L530.3,637.67 L530.8,637.68 L531.3,637.68 L531.8,637.69 L532.3,637.70 L532.8,637.70 L533.3,637.71 L533.8,637.71 L534.3,637.72 L534.8,637.72 L535.3,637.73 L535.8,637.73 L536.3,637.74 L536.8,637.74 L537.3,637.75 L537.8,637.75 L538.3,637.76 L538.8,637.76 L539.3,637.76 L539.8,637.77 L540.3,637.77 L540.8,637.78 L541.3,637.78 L541.8,637.78 L542.3,637.79 L542.8,637.79 L543.3,637.79 L543.8,637.80 L544.3,637.80 L544.8,637.80 L545.3,637.80 L545.8,637.81 L546.3,637.81 L546.8,637.81 L547.3,637.82 L547.8,637.82 L548.3,637.82 L548.8,637.82 L549.3,637.82 L549.8,637.83 L550.3,637.83 L550.8,637.83 L551.3,637.83 L551.8,637.84 L552.3,637.84 L552.8,637.84 L553.3,637.84 L553.8,637.84 L554.3,637.84 L554.8,637.85 L555.3,637.85 L555.8,637.85 L556.3,637.85 L556.8,637.85 L557.3,637.85 L557.8,637.85 L558.3,637.86 L558.8,637.86 L559.3,637.86 L559.8,637.86 L560.3,637.86 L560.8,637.86 L561.3,637.86 L561.8,637.86 L562.3,637.86 L562.8,637.87 L563.3,637.87 L563.8,637.87 L564.3,637.87 L564.8,637.87 L565.3,637.87 L565.8,637.87 L566.3,637.87 L566.8,637.87 L567.3,637.87 L567.8,637.87 L568.3,637.88 L568.8,637.88 L569.3,637.88 L569.8,637.88 L570.3,637.88 L570.8,637.88 L571.3,637.88 L571.8,637.88 L572.3,637.88 L572.8,637.88 L573.3,637.88 L573.8,637.88 L574.3,637.88 L574.8,637.88 L575.3,637.88 L575.8,637.88 L576.3,637.88 L576.8,637.88 L577.3,637.89 L577.8,637.89 L578.3,637.89 L578.8,637.89 L579.3,637.89 L579.8,637.89 L580.3,637.89 L580.8,637.89 L581.3,637.89 L581.8,637.89 L582.3,637.89 L582.8,637.89 L583.3,637.89 L583.8,637.89 L584.3,637.89 L584.8,637.89 L585.3,637.89 L585.8,637.89 L586.3,637.89 L586.8,637.89 L587.3,637.89 L587.8,637.89 L588.3,637.89 L588.8,637.89 L589.3,637.89 L589.8,637.89 L590.3,637.89 L590.8,637.89 L591.3,637.89 L591.8,637.89 L592.3,637.89 L592.8,637.89 L593.3,637.89 L593.8,637.89 L594.3,637.89 L594.8,637.89 L595.3,637.89 L595.8,637.89 L596.3,637.89 L596.8,637.89 L597.3,637.89 L597.8,637.89 L598.3,637.89 L598.8,637.89 L599.3,637.89 L599.8,637.89 L600.3,637.89 L600.8,637.89 L601.3,637.89 L601.8,637.89 L602.3,637.89 L602.8,637.89 L603.3,637.89 L603.8,637.89 L604.3,637.89 L604.8,637.89 L605.3,637.89 L605.8,637.89 L606.3,637.89 L606.8,637.89 L607.3,637.89 L607.8,637.89 L608.3,637.89 L608.8,637.89 L609.3,637.89 L609.8,637.89 L610.3,637.89 L610.8,637.89 L611.3,637.89 L611.8,637.89 L612.3,637.89 L612.8,637.89 L613.3,637.89 L613.8,637.89 L614.3,637.89 L614.8,637.89 L615.3,637.89 L615.8,637.89 L616.3,637.89 L616.8,637.89 L617.3,637.89 L617.8,637.89 L618.3,637.89 L618.8,637.89 L619.3,637.89 L619.8,637.89 L620.3,637.89 L620.8,637.89 L621.3,637.89 L621.8,637.88 L622.3,637.88 L622.8,637.88 L623.3,637.88 L623.8,637.88 L624.3,637.88 L624.8,637.88 L625.3,637.88 L625.8,637.88 L626.3,637.88 L626.8,637.88 L627.3,637.88 L627.8,637.88 L628.3,637.87 L628.8,637.87 L629.3,637.87 L629.8,637.87 L630.3,637.87 L630.8,637.87 L631.3,637.87 L631.8,637.87 L632.3,637.86 L632.8,637.86 L633.3,637.86 L633.8,637.86 L634.3,637.86 L634.8,637.86 L635.3,637.85 L635.8,637.85 L636.3,637.85 L636.8,637.85 L637.3,637.85 L637.8,637.84 L638.3,637.84 L638.8,637.84 L639.3,637.84 L639.8,637.83 L640.3,637.83 L640.8,637.83 L641.3,637.82 L641.8,637.82 L642.3,637.82 L642.8,637.81 L643.3,637.81 L643.8,637.81 L644.3,637.80 L644.8,637.80 L645.3,637.79 L645.8,637.79 L646.3,637.78 L646.8,637.78 L647.3,637.77 L647.8,637.77 L648.3,637.76 L648.8,637.76 L649.3,637.75 L649.8,637.74 L650.3,637.74 L650.8,637.73 L651.3,637.72 L651.8,637.71 L652.3,637.70 L652.8,637.70 L653.3,637.69 L653.8,637.68 L654.3,637.67 L654.8,637.66 L655.3,637.65 L655.8,637.64 L656.3,637.62 L656.8,637.61 L657.3,637.60 L657.8,637.59 L658.3,637.57 L658.8,637.56 L659.3,637.54 L659.8,637.53 L660.3,637.51 L660.8,637.49 L661.3,637.48 L661.8,637.46 L662.3,637.44 L662.8,637.42 L663.3,637.40 L663.8,637.37 L664.3,637.35 L664.8,637.33 L665.3,637.30 L665.8,637.27 L666.3,637.25 L666.8,637.22 L667.3,637.19 L667.8,637.15 L668.3,637.12 L668.8,637.09 L669.3,637.05 L669.8,637.01 L670.3,636.97 L670.8,636.93 L671.3,636.89 L671.8,636.84 L672.3,636.80 L672.8,636.75 L673.3,636.70 L673.8,636.64 L674.3,636.59 L674.8,636.53 L675.3,636.47 L675.8,636.40 L676.3,636.34 L676.8,636.27 L677.3,636.19 L677.8,636.12 L678.3,636.04 L678.8,635.95 L679.3,635.86 L679.8,635.77 L680.3,635.68 L680.8,635.58 L681.3,635.47 L681.8,635.36 L682.3,635.25 L682.8,635.13 L683.3,635.00 L683.8,634.87 L684.3,634.73 L684.8,634.58 L685.3,634.43 L685.8,634.27 L686.3,634.11 L686.8,633.93 L687.3,633.75 L687.8,633.56 L688.3,633.36 L688.8,633.15 L689.3,632.93 L689.8,632.70 L690.3,632.46 L690.8,632.21 L691.3,631.94 L691.8,631.66 L692.3,631.37 L692.8,631.07 L693.3,630.74 L693.8,630.41 L694.3,630.05 L694.8,629.68 L695.3,629.29 L695.8,628.88 L696.3,628.45 L696.8,628.00 L697.3,627.53 L697.8,627.03 L698.3,626.51 L698.8,625.96 L699.3,625.38 L699.8,624.77 L700.3,624.13 L700.8,623.46 L701.3,622.76 L701.8,622.01 L702.3,621.23 L702.8,620.41 L703.3,619.55 L703.8,618.64 L704.3,617.68 L704.8,616.67 L705.3,615.62 L705.8,614.50 L706.3,613.33 L706.8,612.10 L707.3,610.80 L707.8,609.44 L708.3,608.01 L708.8,606.51 L709.3,604.93 L709.8,603.27 L710.3,601.54 L710.8,599.72 L711.3,597.81 L711.8,595.82 L712.3,593.73 L712.8,591.55 L713.3,589.28 L713.8,586.92 L714.3,584.46 L714.8,581.92 L715.3,579.28 L715.8,576.55 L716.3,573.74 L716.8,570.85 L717.3,567.89 L717.8,564.86 L718.3,561.78 L718.8,558.65 L719.3,555.50 L719.8,552.33 L720.3,549.16 L720.8,546.01 L721.3,542.90 L721.8,539.84 L722.3,536.87 L722.8,534.01 L723.3,531.27 L723.8,528.69 L724.3,526.28 L724.8,524.08 L725.3,522.10 L725.8,520.36 L726.3,518.89 L726.8,517.70 L727.3,516.80 L727.8,516.21 L728.3,515.93 L728.8,515.96 L729.3,516.32 L729.8,517.01 L730.3,518.02 L730.8,519.33 L731.3,520.93 L731.8,522.81 L732.3,524.94 L732.8,527.30 L733.3,529.87 L733.8,532.62 L734.3,535.53 L734.8,538.58 L735.3,541.73 L735.8,544.96 L736.3,548.25 L736.8,551.58 L737.3,554.92 L737.8,558.26 L738.3,561.58 L738.8,564.85 L739.3,568.08 L739.8,571.24 L740.3,574.33 L740.8,577.33 L741.3,580.25 L741.8,583.06 L742.3,585.78 L742.8,588.39 L743.3,590.90 L743.8,593.30 L744.3,595.59 L744.8,597.78 L745.3,599.87 L745.8,601.85 L746.3,603.73 L746.8,605.52 L747.3,607.21 L747.8,608.81 L748.3,610.33 L748.8,611.76 L749.3,613.11 L749.8,614.39 L750.3,615.59 L750.8,616.73 L751.3,617.80 L751.8,618.81 L752.3,619.76 L752.8,620.65 L753.3,621.50 L753.8,622.29 L754.3,623.04 L754.8,623.75 L755.3,624.41 L755.8,625.04 L756.3,625.63 L756.8,626.19 L757.3,626.72 L757.8,627.21 L758.3,627.68 L758.8,628.13 L759.3,628.55 L759.8,628.94 L760.3,629.32 L760.8,629.67 L761.3,630.01 L761.8,630.32 L762.3,630.63 L762.8,630.91 L763.3,631.18 L763.8,631.44 L764.3,631.69 L764.8,631.92 L765.3,632.14 L765.8,632.35 L766.3,632.56 L766.8,632.75 L767.3,632.93 L767.8,633.11 L768.3,633.27 L768.8,633.43 L769.3,633.59 L769.8,633.73 L770.3,633.87 L770.8,634.01 L771.3,634.14 L771.8,634.26 L772.3,634.38 L772.8,634.49 L773.3,634.60 L773.8,634.71 L774.3,634.81 L774.8,634.91 L775.3,635.00 L775.8,635.09 L776.3,635.18 L776.8,635.27 L777.3,635.35 L777.8,635.43 L778.3,635.50 L778.8,635.57 L779.3,635.64 L779.8,635.71 L780.3,635.78 L780.8,635.84 L781.3,635.90 L781.8,635.96 L782.3,636.02 L782.8,636.08 L783.3,636.13 L783.8,636.18 L784.3,636.23 L784.8,636.28 L785.3,636.33 L785.8,636.38 L786.3,636.42 L786.8,636.46 L787.3,636.51 L787.8,636.55 L788.3,636.59 L788.8,636.62 L789.3,636.66 L789.8,636.70 L790.3,636.73 L790.8,636.77 L791.3,636.80 L791.8,636.83 L792.3,636.86 L792.8,636.89 L793.3,636.92 L793.8,636.95 L794.3,636.98 L794.8,637.00 L795.3,637.03 L795.8,637.05 L796.3,637.08 L796.8,637.10 L797.3,637.13 L797.8,637.15 L798.3,637.17 L798.8,637.19 L799.3,637.21 L799.8,637.23 L800.3,637.25 L800.8,637.27 L801.3,637.29 L801.8,637.30 L802.3,637.32 L802.8,637.34 L803.3,637.35 L803.8,637.37 L804.3,637.39 L804.8,637.40 L805.3,637.41 L805.8,637.43 L806.3,637.44 L806.8,637.46 L807.3,637.47 L807.8,637.48 L808.3,637.49 L808.8,637.50 L809.3,637.52 L809.8,637.53 L810.3,637.54 L810.8,637.55 L811.3,637.56 L811.8,637.57 L812.3,637.58 L812.8,637.59 L813.3,637.60 L813.8,637.60 L814.3,637.61 L814.8,637.62 L815.3,637.63 L815.8,637.64 L816.3,637.64 L816.8,637.65 L817.3,637.66 L817.8,637.67 L818.3,637.67 L818.8,637.68 L819.3,637.69 L819.8,637.69 L820.3,637.70 L820.8,637.70 L821.3,637.71 L821.8,637.72 L822.3,637.72 L822.8,637.73 L823.3,637.73 L823.8,637.74 L824.3,637.74 L824.8,637.75 L825.3,637.75 L825.8,637.75 L826.3,637.76 L826.8,637.76 L827.3,637.77 L827.8,637.77 L828.3,637.77 L828.8,637.78 L829.3,637.78 L829.8,637.78 L830.3,637.79 L830.8,637.79 L831.3,637.79 L831.8,637.80 L832.3,637.80 L832.8,637.80 L833.3,637.81 L833.8,637.81 L834.3,637.81 L834.8,637.81 L835.3,637.82 L835.8,637.82 L836.3,637.82 L836.8,637.82 L837.3,637.83 L837.8,637.83 L838.3,637.83 L838.8,637.83 L839.3,637.83 L839.8,637.84 L840.3,637.84 L840.8,637.84 L841.3,637.84 L841.8,637.84 L842.3,637.84 L842.8,637.85 L843.3,637.85 L843.8,637.85 L844.3,637.85 L844.8,637.85 L845.3,637.85 L845.8,637.85 L846.3,637.86 L846.8,637.86 L847.3,637.86 L847.8,637.86 L848.3,637.86 L848.8,637.86 L849.3,637.86 L849.8,637.86 L850.3,637.87 L850.8,637.87 L851.3,637.87 L851.8,637.87 L852.3,637.87 L852.8,637.87 L853.3,637.87 L853.8,637.87 L854.3,637.87 L854.8,637.87 L855.3,637.87 L855.8,637.87 L856.3,637.88 L856.8,637.88 L857.3,637.88 L857.8,637.88 L858.3,637.88 L858.8,637.88 L859.3,637.88 L859.8,637.88 L860.3,637.88 L860.8,637.88 L861.3,637.88 L861.8,637.88 L862.3,637.88 L862.8,637.88 L863.3,637.88 L863.8,637.88 L864.3,637.88 L864.8,637.89 L865.3,637.89 L865.8,637.89 L866.3,637.89 L866.8,637.89 L867.3,637.89 L867.8,637.89 L868.3,637.89 L868.8,637.89 L869.3,637.89 L869.8,637.89 L870.3,637.89 L870.8,637.89 L871.3,637.89 L871.8,637.89 L872.3,637.89 L872.8,637.89 L873.3,637.89 L873.8,637.89 L874.3,637.89 L874.8,637.89 L875.3,637.89 L875.8,637.89 L876.3,637.89 L876.8,637.89 L877.3,637.89 L877.8,637.89 L878.3,637.89 L878.8,637.89 L879.3,637.89 L879.8,637.89 L880.3,637.89 L880.8,637.89 L881.3,637.89 L881.8,637.89 L882.3,637.89 L882.8,637.89 L883.3,637.89 L883.8,637.89 L884.3,637.89 L884.8,637.89 L885.3,637.89 L885.8,637.89 L886.3,637.89 L886.8,637.89 L887.3,637.89 L887.8,637.89 L888.3,637.89 L888.8,637.89 L889.3,637.89 L889.8,637.89 L890.3,637.89 L890.8,637.89 L891.3,637.89 L891.8,637.89 L892.3,637.89 L892.8,637.89 L893.3,637.89 L893.8,637.89 L894.3,637.89 L894.8,637.89 L895.3,637.89 L895.8,637.89 L896.3,637.89 L896.8,637.89 L897.3,637.89 L897.8,637.89 L898.3,637.89 L898.8,637.89 L899.3,637.89 L899.8,637.89 L900.3,637.89 L900.8,637.89 L901.3,637.89 L901.8,637.89 L902.3,637.89 L902.8,637.89 L903.3,637.89 L903.8,637.89 L904.3,637.89 L904.8,637.89 L905.3,637.89 L905.8,637.89 L906.3,637.89 L906.8,637.89 L907.3,637.89 L907.8,637.89 L908.3,637.89 L908.8,637.89 L909.3,637.89 L909.8,637.89 L910.3,637.88 L910.8,637.88 L911.3,637.88 L911.8,637.88 L912.3,637.88 L912.8,637.88 L913.3,637.88 L913.8,637.88 L914.3,637.88 L914.8,637.88 L915.3,637.88 L915.8,637.88 L916.3,637.87 L916.8,637.87 L917.3,637.87 L917.8,637.87 L918.3,637.87 L918.8,637.87 L919.3,637.87 L919.8,637.87 L920.3,637.87 L920.8,637.86 L921.3,637.86 L921.8,637.86 L922.3,637.86 L922.8,637.86 L923.3,637.86 L923.8,637.85 L924.3,637.85 L924.8,637.85 L925.3,637.85 L925.8,637.84 L926.3,637.84 L926.8,637.84 L927.3,637.84 L927.8,637.83 L928.3,637.83 L928.8,637.83 L929.3,637.83 L929.8,637.82 L930.3,637.82 L930.8,637.82 L931.3,637.81 L931.8,637.81 L932.3,637.80 L932.8,637.80 L933.3,637.80 L933.8,637.79 L934.3,637.79 L934.8,637.78 L935.3,637.78 L935.8,637.77 L936.3,637.76 L936.8,637.76 L937.3,637.75 L937.8,637.75 L938.3,637.74 L938.8,637.73 L939.3,637.73 L939.8,637.72 L940.3,637.71 L940.8,637.70 L941.3,637.69 L941.8,637.68 L942.3,637.67 L942.8,637.66 L943.3,637.65 L943.8,637.64 L944.3,637.63 L944.8,637.62 L945.3,637.61 L945.8,637.59 L946.3,637.58 L946.8,637.57 L947.3,637.55 L947.8,637.54 L948.3,637.52 L948.8,637.50 L949.3,637.49 L949.8,637.47 L950.3,637.45 L950.8,637.43 L951.3,637.41 L951.8,637.39 L952.3,637.36 L952.8,637.34 L953.3,637.32 L953.8,637.29 L954.3,637.26 L954.8,637.23 L955.3,637.20 L955.8,637.17 L956.3,637.14 L956.8,637.11 L957.3,637.07 L957.8,637.04 L958.3,637.00 L958.8,636.96 L959.3,636.92 L959.8,636.87 L960.3,636.83 L960.8,636.78 L961.3,636.73 L961.8,636.68 L962.3,636.62 L962.8,636.56 L963.3,636.50 L963.8,636.44 L964.3,636.38 L964.8,636.31 L965.3,636.24 L965.8,636.16 L966.3,636.08 L966.8,636.00 L967.3,635.92 L967.8,635.83 L968.3,635.73 L968.8,635.64 L969.3,635.53 L969.8,635.43 L970.3,635.32 L970.8,635.20 L971.3,635.08 L971.8,634.95 L972.3,634.81 L972.8,634.67 L973.3,634.52 L973.8,634.37 L974.3,634.21 L974.8,634.04 L975.3,633.86 L975.8,633.68 L976.3,633.48 L976.8,633.28 L977.3,633.06 L977.8,632.84 L978.3,632.61 L978.8,632.36 L979.3,632.10 L979.8,631.83 L980.3,631.55 L980.8,631.25 L981.3,630.94 L981.8,630.61 L982.3,630.27 L982.8,629.91 L983.3,629.53 L983.8,629.13 L984.3,628.71 L984.8,628.28 L985.3,627.82 L985.8,627.33 L986.3,626.82 L986.8,626.29 L987.3,625.73 L987.8,625.14 L988.3,624.52 L988.8,623.87 L989.3,623.18 L989.8,622.46 L990.3,621.71 L990.8,620.91 L991.3,620.07 L991.8,619.19 L992.3,618.26 L992.8,617.28 L993.3,616.26 L993.8,615.18 L994.3,614.04 L994.8,612.84 L995.3,611.59 L995.8,610.27 L996.3,608.88 L996.8,607.42 L997.3,605.89 L997.8,604.28 L998.3,602.59 L998.8,600.82 L999.3,598.96 L999.8,597.02 L1000.3,594.99 L1000.8,592.87 L1001.3,590.66 L1001.8,588.35 L1002.3,585.95 L1002.8,583.46 L1003.3,580.87 L1003.8,578.20 L1004.3,575.43 L1004.8,572.59 L1005.3,569.67 L1005.8,566.68 L1006.3,563.63 L1006.8,560.53 L1007.3,557.40 L1007.8,554.23 L1008.3,551.06 L1008.8,547.90 L1009.3,544.76 L1009.8,541.67 L1010.3,538.64 L1010.8,535.71 L1011.3,532.90 L1011.8,530.22 L1012.3,527.70 L1012.8,525.38 L1013.3,523.26 L1013.8,521.38 L1014.3,519.74 L1014.8,518.38 L1015.3,517.31 L1015.8,516.53 L1016.3,516.06 L1016.8,515.90 L1017.3,516.07 L1017.8,516.56 L1018.3,517.37 L1018.8,518.50 L1019.3,519.93 L1019.8,521.65 L1020.3,523.63 L1020.8,525.85 L1021.3,528.30 L1021.8,530.95 L1022.3,533.77 L1022.8,536.73 L1023.3,539.82 L1023.8,543.01 L1024.3,546.27 L1024.8,549.58 L1025.3,552.91 L1025.8,556.26 L1026.3,559.59 L1026.8,562.89 L1027.3,566.15 L1027.8,569.35 L1028.3,572.49 L1028.8,575.54 L1029.3,578.51 L1029.8,581.38 L1030.3,584.16 L1030.8,586.84 L1031.3,589.41 L1031.8,591.87 L1032.3,594.23 L1032.8,596.48 L1033.3,598.63 L1033.8,600.67 L1034.3,602.61 L1034.8,604.46 L1035.3,606.20 L1035.8,607.86 L1036.3,609.43 L1036.8,610.91 L1037.3,612.31 L1037.8,613.63 L1038.3,614.88 L1038.8,616.05 L1039.3,617.16 L1039.8,618.21 L1040.3,619.19 L1040.8,620.12 L1041.3,621.00 L1041.8,621.82 L1042.3,622.60 L1042.8,623.33 L1043.3,624.02 L1043.8,624.67 L1044.3,625.28 L1044.8,625.86 L1045.3,626.41 L1045.8,626.92 L1046.3,627.41 L1046.8,627.86 L1047.3,628.30 L1047.8,628.71 L1048.3,629.09 L1048.8,629.46 L1049.3,629.81 L1049.8,630.14 L1050.3,630.45 L1050.8,630.74 L1051.3,631.02 L1051.8,631.29 L1052.3,631.54 L1052.8,631.78 L1053.3,632.01 L1053.8,632.23 L1054.3,632.44 L1054.8,632.63 L1055.3,632.82 L1055.8,633.00 L1056.3,633.17 L1056.8,633.34 L1057.3,633.50 L1057.8,633.65 L1058.3,633.79 L1058.8,633.93 L1059.3,634.06 L1059.8,634.19 L1060.3,634.31 L1060.8,634.43 L1061.3,634.54 L1061.8,634.65 L1062.3,634.75 L1062.8,634.85 L1063.3,634.95 L1063.8,635.04 L1064.3,635.13 L1064.8,635.22 L1065.3,635.30 L1065.8,635.38 L1066.3,635.46 L1066.8,635.53 L1067.3,635.60 L1067.8,635.67 L1068.3,635.74 L1068.8,635.80 L1069.3,635.87 L1069.8,635.93 L1070.3,635.99 L1070.8,636.04 L1071.3,636.10 L1071.8,636.15 L1072.3,636.20 L1072.8,636.25 L1073.3,636.30 L1073.8,636.35 L1074.3,636.39 L1074.8,636.44 L1075.3,636.48 L1075.8,636.52 L1076.3,636.56 L1076.8,636.60 L1077.3,636.64 L1077.8,636.68 L1078.3,636.71 L1078.8,636.75 L1079.3,636.78 L1079.8,636.81 L1080.3,636.84 L1080.8,636.87 L1081.3,636.90 L1081.8,636.93 L1082.3,636.96 L1082.8,636.99 L1083.3,637.01 L1083.8,637.04 L1084.3,637.06 L1084.8,637.09 L1085.3,637.11 L1085.8,637.13 L1086.3,637.16 L1086.8,637.18 L1087.3,637.20 L1087.8,637.22 L1088.3,637.24 L1088.8,637.26 L1089.3,637.28 L1089.8,637.29 L1090.3,637.31 L1090.8,637.33 L1091.3,637.34 L1091.8,637.36 L1092.3,637.38 L1092.8,637.39 L1093.3,637.41 L1093.8,637.42 L1094.3,637.43 L1094.8,637.45 L1095.3,637.46 L1095.8,637.47 L1096.3,637.49 L1096.8,637.50 L1097.3,637.51 L1097.8,637.52 L1098.3,637.53 L1098.8,637.54 L1099.3,637.55 L1099.8,637.56 L1100.3,637.57 L1100.8,637.58 L1101.3,637.59 L1101.8,637.60 L1102.3,637.61 L1102.8,637.62 L1103.3,637.62 L1103.8,637.63 L1104.3,637.64 L1104.8,637.65 L1105.3,637.66 L1105.8,637.66 L1106.3,637.67 L1106.8,637.68 L1107.3,637.68 L1107.8,637.69 L1108.3,637.69 L1108.8,637.70 L1109.3,637.71 L1109.8,637.71 L1110.3,637.72 L1110.8,637.72 L1111.3,637.73 L1111.8,637.73 L1112.3,637.74 L1112.8,637.74 L1113.3,637.75 L1113.8,637.75 L1114.3,637.76 L1114.8,637.76 L1115.3,637.76 L1115.8,637.77 L1116.3,637.77 L1116.8,637.78 L1117.3,637.78 L1117.8,637.78 L1118.3,637.79 L1118.8,637.79 L1119.3,637.79 L1119.8,637.80 L1120.3,637.80 L1120.8,637.80 L1121.3,637.80 L1121.8,637.81 L1122.3,637.81 L1122.8,637.81 L1123.3,637.81 L1123.8,637.82 L1124.3,637.82 L1124.8,637.82 L1125.3,637.82 L1125.8,637.83 L1126.3,637.83 L1126.8,637.83 L1127.3,637.83 L1127.8,637.83 L1128.3,637.84 L1128.8,637.84 L1129.3,637.84 L1129.8,637.84 L1130.3,637.84 L1130.8,637.85 L1131.3,637.85 L1131.8,637.85 L1132.3,637.85 L1132.8,637.85 L1133.3,637.85 L1133.8,637.85 L1134.3,637.86 L1134.8,637.86 L1135.3,637.86 L1135.8,637.86 L1136.3,637.86 L1136.8,637.86 L1137.3,637.86 L1137.8,637.86 L1138.3,637.86 L1138.8,637.87 L1139.3,637.87 L1139.8,637.87 L1140.3,637.87 L1140.8,637.87 L1141.3,637.87 L1141.8,637.87 L1142.3,637.87 L1142.8,637.87 L1143.3,637.87 L1143.8,637.87 L1144.3,637.87 L1144.8,637.88 L1145.3,637.88 L1145.8,637.88 L1146.3,637.88 L1146.8,637.88 L1147.3,637.88 L1147.8,637.88 L1148.3,637.88 L1148.8,637.88 L1149.3,637.88 L1149.8,637.88 L1150.3,637.88 L1150.8,637.88 L1151.3,637.88 L1151.8,637.88 L1152.3,637.88 L1152.8,637.88 L1153.3,637.88 L1153.8,637.88 L1154.3,637.89 L1154.8,637.89 L1155.3,637.89 L1155.8,637.89 L1156.3,637.89 L1156.8,637.89 L1157.3,637.89 L1157.8,637.89 L1158.3,637.89 L1158.8,637.89 L1159.3,637.89 L1159.8,637.89 L1160.3,637.89 L1160.8,637.89 L1161.3,637.89 L1161.8,637.89 L1162.3,637.89 L1162.8,637.89 L1163.3,637.89 L1163.8,637.89 L1164.3,637.89 L1164.8,637.89 L1165.3,637.89 L1165.8,637.89 L1166.3,637.89 L1166.8,637.89 L1167.3,637.89 L1167.8,637.89 L1168.3,637.89 L1168.8,637.89 L1169.3,637.89 L1169.8,637.89 L1170.3,637.89 L1170.8,637.89 L1171.3,637.89 L1171.8,637.89 L1172.3,637.89 L1172.8,637.89 L1173.3,637.89 L1173.8,637.89 L1174.3,637.89 L1174.8,637.89 L1175.3,637.89 L1175.8,637.89 L1176.3,637.89 L1176.8,637.89 L1177.3,637.89 L1177.8,637.89 L1178.3,637.89 L1178.8,637.89 L1179.3,637.89 L1179.8,637.89 L1180.3,637.89 L1180.8,637.89 L1181.3,637.89 L1181.8,637.89 L1182.3,637.89 L1182.8,637.89 L1183.3,637.89 L1183.8,637.89 L1184.3,637.88 L1184.8,637.88 L1185.3,637.88 L1185.8,637.88 L1186.3,637.88 L1186.8,637.88 L1187.3,637.88 L1187.8,637.88 L1188.3,637.88 L1188.8,637.88 L1189.3,637.88 L1189.8,637.88 L1190.3,637.88 L1190.8,637.88 L1191.3,637.88 L1191.8,637.88 L1192.3,637.87 L1192.8,637.87 L1193.3,637.87 L1193.8,637.87 L1194.3,637.87 L1194.8,637.87 L1195.3,637.87 L1195.8,637.87 L1196.3,637.87 L1196.8,637.86 L1197.3,637.86 L1197.8,637.86 L1198.3,637.86 L1198.8,637.86 L1199.3,637.86 L1199.8,637.86 L1200.3,637.85 L1200.8,637.85 L1201.3,637.85 L1201.8,637.85 L1202.3,637.85 L1202.8,637.85 L1203.3,637.84 L1203.8,637.84 L1204.3,637.84 L1204.8,637.84 L1205.3,637.83 L1205.8,637.83 L1206.3,637.83 L1206.8,637.83 L1207.3,637.82 L1207.8,637.82 L1208.3,637.82 L1208.8,637.81 L1209.3,637.81 L1209.8,637.81 L1210.3,637.80 L1210.8,637.80 L1211.3,637.80 L1211.8,637.79 L1212.3,637.79 L1212.8,637.78 L1213.3,637.78 L1213.8,637.77 L1214.3,637.77 L1214.8,637.76 L1215.3,637.76 L1215.8,637.75 L1216.3,637.75 L1216.8,637.74 L1217.3,637.74 L1217.8,637.73 L1218.3,637.72 L1218.8,637.72 L1219.3,637.71 L1219.8,637.70 L1220.3,637.69 L1220.8,637.69 L1221.3,637.68 L1221.8,637.67 L1222.3,637.66 L1222.8,637.65 L1223.3,637.64 L1223.8,637.63 L1224.3,637.62 L1224.8,637.61 L1225.3,637.60 L1225.8,637.59 L1226.3,637.57 L1226.8,637.56 L1227.3,637.55 L1227.8,637.53 L1228.3,637.52 L1228.8,637.50 L1229.3,637.49 L1229.8,637.47 L1230.3,637.46 L1230.8,637.44 L1231.3,637.42 L1231.8,637.40 L1232.3,637.38 L1232.8,637.36 L1233.3,637.34 L1233.8,637.32 L1234.3,637.30 L1234.8,637.27 L1235.3,637.25 L1235.8,637.22 L1236.3,637.20 L1236.8,637.17 L1237.3,637.14 L1237.8,637.11 L1238.3,637.08 L1238.8,637.04 L1239.3,637.01 L1239.8,636.98 L1240.3,636.94 L1240.8,636.90 L1241.3,636.86 L1241.8,636.82 L1242.3,636.78 L1242.8,636.73 L1243.3,636.69 L1243.8,636.64 L1244.3,636.59 L1244.8,636.53 L1245.3,636.48 L1245.8,636.42 L1246.3,636.36 L1246.8,636.30 L1247.3,636.24 L1247.8,636.17 L1248.3,636.10 L1248.8,636.03 L1249.3,635.96 L1249.8,635.88 L1250.3,635.80 L1250.8,635.71 L1251.3,635.63 L1251.8,635.53 L1252.3,635.44 L1252.8,635.34 L1253.3,635.24 L1253.8,635.13 L1254.3,635.02 L1254.8,634.90 L1255.3,634.78 L1255.8,634.65 L1256.3,634.52 L1256.8,634.38 L1257.3,634.24 L1257.8,634.09 L1258.3,633.93 L1258.8,633.77 L1259.3,633.60 L1259.8,633.42 L1260.3,633.24 L1260.8,633.05 L1261.3,632.85 L1261.8,632.64 L1262.3,632.42 L1262.8,632.20 L1263.3,631.96 L1263.8,631.71 L1264.3,631.45 L1264.8,631.18 L1265.3,630.90 L1265.8,630.61 L1266.3,630.31 L1266.8,629.99 L1267.3,629.65 L1267.8,629.30 L1268.3,628.94 L1268.8,628.56 L1269.3,628.16 L1269.8,627.75 L1270.3,627.31 L1270.8,626.86 L1271.3,626.39 L1271.8,625.89 L1272.3,625.38 L1272.8,624.83 L1273.3,624.27 L1273.8,623.68 L1274.3,623.06 L1274.8,622.41 L1275.3,621.73 L1275.8,621.03 L1276.3,620.28 L1276.8,619.51 L1277.3,618.70 L1277.8,617.85 L1278.3,616.96 L1278.8,616.03 L1279.3,615.06 L1279.8,614.04 L1280.3,612.98 L1280.8,611.86 L1281.3,610.70 L1281.8,609.48 L1282.3,608.21 L1282.8,606.88 L1283.3,605.49 L1283.8,604.04 L1284.3,602.53 L1284.8,600.95 L1285.3,599.30 L1285.8,597.59 L1286.3,595.80 L1286.8,593.94 L1287.3,592.01 L1287.8,590.01 L1288.3,587.93 L1288.8,585.77 L1289.3,583.55 L1289.8,581.25 L1290.3,578.87 L1290.8,576.43 L1291.3,573.92 L1291.8,571.35 L1292.3,568.72 L1292.8,566.03 L1293.3,563.30 L1293.8,560.53 L1294.3,557.73 L1294.8,554.91 L1295.3,552.08 L1295.8,549.25 L1296.3,546.43 L1296.8,543.65 L1297.3,540.90 L1297.8,538.22 L1298.3,535.61 L1298.8,533.09 L1299.3,530.69 L1299.8,528.41 L1300.3,526.27 L1300.8,524.29 L1301.3,522.49 L1301.8,520.88 L1302.3,519.48 L1302.8,518.30 L1303.3,517.34 L1303.8,516.62 L1304.3,516.15 L1304.8,515.92 L1305.3,515.95 L1305.8,516.24 L1306.3,516.79 L1306.8,517.59 L1307.3,518.64 L1307.8,519.93 L1308.3,521.45 L1308.8,523.18 L1309.3,525.11 L1309.8,527.23 L1310.3,529.51 L1310.8,531.94 L1311.3,534.50 L1311.8,537.17 L1312.3,539.94 L1312.8,542.78 L1313.3,545.68 L1313.8,548.63 L1314.3,551.60 L1314.8,554.59 L1315.3,557.57 L1315.8,560.54 L1316.3,563.48 L1316.8,566.38 L1317.3,569.24 L1317.8,572.04 L1318.3,574.79 L1318.8,577.46 L1319.3,580.06 L1319.8,582.59 L1320.3,585.03 L1320.8,587.40 L1321.3,589.68 L1321.8,591.87 L1322.3,593.98 L1322.8,596.01 L1323.3,597.95 L1323.8,599.81 L1324.3,601.58 L1324.8,603.28 L1325.3,604.90 L1325.8,606.45 L1326.3,607.92 L1326.8,609.32 L1327.3,610.65 L1327.8,611.92 L1328.3,613.12 L1328.8,614.26 L1329.3,615.35 L1329.8,616.38 L1330.3,617.35 L1330.8,618.28 L1331.3,619.16" fill="none" stroke="#008000" stroke-width="2.45" stroke-linejoin="round" clip-path="url(#ca)"/>
<path d="M101.3,721.13 L101.8,719.39 L102.3,717.68 L102.8,716.00 L103.3,714.37 L103.8,712.79 L104.3,711.27 L104.8,709.82 L105.3,708.43 L105.8,707.12 L106.3,705.89 L106.8,704.76 L107.3,703.72 L107.8,702.77 L108.3,701.94 L108.8,701.21 L109.3,700.59 L109.8,700.10 L110.3,699.72 L110.8,699.46 L111.3,699.32 L111.8,699.31 L112.3,699.43 L112.8,699.69 L113.3,700.07 L113.8,700.59 L114.3,701.23 L114.8,702.00 L115.3,702.88 L115.8,703.88 L116.3,704.98 L116.8,706.18 L117.3,707.48 L117.8,708.86 L118.3,710.33 L118.8,711.86 L119.3,713.46 L119.8,715.11 L120.3,716.82 L120.8,718.56 L121.3,720.34 L121.8,722.15 L122.3,723.97 L122.8,725.81 L123.3,727.65 L123.8,729.50 L124.3,731.34 L124.8,733.17 L125.3,734.98 L125.8,736.78 L126.3,738.55 L126.8,740.29 L127.3,742.01 L127.8,743.69 L128.3,745.34 L128.8,746.95 L129.3,748.52 L129.8,750.05 L130.3,751.54 L130.8,752.99 L131.3,754.39 L131.8,755.75 L132.3,757.07 L132.8,758.34 L133.3,759.57 L133.8,760.75 L134.3,761.90 L134.8,763.00 L135.3,764.06 L135.8,765.08 L136.3,766.06 L136.8,767.00 L137.3,767.91 L137.8,768.77 L138.3,769.60 L138.8,770.40 L139.3,771.17 L139.8,771.90 L140.3,772.60 L140.8,773.27 L141.3,773.91 L141.8,774.53 L142.3,775.11 L142.8,775.67 L143.3,776.21 L143.8,776.72 L144.3,777.22 L144.8,777.68 L145.3,778.13 L145.8,778.56 L146.3,778.97 L146.8,779.36 L147.3,779.73 L147.8,780.09 L148.3,780.43 L148.8,780.76 L149.3,781.07 L149.8,781.37 L150.3,781.65 L150.8,781.93 L151.3,782.19 L151.8,782.44 L152.3,782.67 L152.8,782.90 L153.3,783.12 L153.8,783.33 L154.3,783.53 L154.8,783.72 L155.3,783.90 L155.8,784.08 L156.3,784.25 L156.8,784.41 L157.3,784.56 L157.8,784.71 L158.3,784.86 L158.8,784.99 L159.3,785.12 L159.8,785.25 L160.3,785.37 L160.8,785.49 L161.3,785.60 L161.8,785.71 L162.3,785.81 L162.8,785.91 L163.3,786.00 L163.8,786.10 L164.3,786.18 L164.8,786.27 L165.3,786.35 L165.8,786.43 L166.3,786.51 L166.8,786.58 L167.3,786.65 L167.8,786.72 L168.3,786.79 L168.8,786.85 L169.3,786.91 L169.8,786.97 L170.3,787.03 L170.8,787.09 L171.3,787.14 L171.8,787.19 L172.3,787.24 L172.8,787.29 L173.3,787.34 L173.8,787.39 L174.3,787.43 L174.8,787.47 L175.3,787.51 L175.8,787.56 L176.3,787.59 L176.8,787.63 L177.3,787.67 L177.8,787.71 L178.3,787.74 L178.8,787.77 L179.3,787.81 L179.8,787.84 L180.3,787.87 L180.8,787.90 L181.3,787.93 L181.8,787.96 L182.3,787.99 L182.8,788.01 L183.3,788.04 L183.8,788.06 L184.3,788.09 L184.8,788.11 L185.3,788.14 L185.8,788.16 L186.3,788.18 L186.8,788.20 L187.3,788.22 L187.8,788.25 L188.3,788.27 L188.8,788.29 L189.3,788.30 L189.8,788.32 L190.3,788.34 L190.8,788.36 L191.3,788.38 L191.8,788.39 L192.3,788.41 L192.8,788.42 L193.3,788.44 L193.8,788.46 L194.3,788.47 L194.8,788.49 L195.3,788.50 L195.8,788.51 L196.3,788.53 L196.8,788.54 L197.3,788.55 L197.8,788.56 L198.3,788.58 L198.8,788.59 L199.3,788.60 L199.8,788.61 L200.3,788.62 L200.8,788.63 L201.3,788.64 L201.8,788.65 L202.3,788.66 L202.8,788.67 L203.3,788.68 L203.8,788.69 L204.3,788.70 L204.8,788.71 L205.3,788.72 L205.8,788.73 L206.3,788.74 L206.8,788.75 L207.3,788.75 L207.8,788.76 L208.3,788.77 L208.8,788.78 L209.3,788.78 L209.8,788.79 L210.3,788.80 L210.8,788.80 L211.3,788.81 L211.8,788.82 L212.3,788.82 L212.8,788.83 L213.3,788.84 L213.8,788.84 L214.3,788.85 L214.8,788.85 L215.3,788.86 L215.8,788.86 L216.3,788.87 L216.8,788.88 L217.3,788.88 L217.8,788.89 L218.3,788.89 L218.8,788.89 L219.3,788.90 L219.8,788.90 L220.3,788.91 L220.8,788.91 L221.3,788.92 L221.8,788.92 L222.3,788.92 L222.8,788.93 L223.3,788.93 L223.8,788.94 L224.3,788.94 L224.8,788.94 L225.3,788.95 L225.8,788.95 L226.3,788.95 L226.8,788.96 L227.3,788.96 L227.8,788.96 L228.3,788.97 L228.8,788.97 L229.3,788.97 L229.8,788.98 L230.3,788.98 L230.8,788.98 L231.3,788.98 L231.8,788.99 L232.3,788.99 L232.8,788.99 L233.3,788.99 L233.8,789.00 L234.3,789.00 L234.8,789.00 L235.3,789.00 L235.8,789.00 L236.3,789.01 L236.8,789.01 L237.3,789.01 L237.8,789.01 L238.3,789.02 L238.8,789.02 L239.3,789.02 L239.8,789.02 L240.3,789.02 L240.8,789.02 L241.3,789.03 L241.8,789.03 L242.3,789.03 L242.8,789.03 L243.3,789.03 L243.8,789.03 L244.3,789.04 L244.8,789.04 L245.3,789.04 L245.8,789.04 L246.3,789.04 L246.8,789.04 L247.3,789.04 L247.8,789.04 L248.3,789.05 L248.8,789.05 L249.3,789.05 L249.8,789.05 L250.3,789.05 L250.8,789.05 L251.3,789.05 L251.8,789.05 L252.3,789.05 L252.8,789.06 L253.3,789.06 L253.8,789.06 L254.3,789.06 L254.8,789.06 L255.3,789.06 L255.8,789.06 L256.3,789.06 L256.8,789.06 L257.3,789.06 L257.8,789.06 L258.3,789.07 L258.8,789.07 L259.3,789.07 L259.8,789.07 L260.3,789.07 L260.8,789.07 L261.3,789.07 L261.8,789.07 L262.3,789.07 L262.8,789.07 L263.3,789.07 L263.8,789.07 L264.3,789.07 L264.8,789.07 L265.3,789.08 L265.8,789.08 L266.3,789.08 L266.8,789.08 L267.3,789.08 L267.8,789.08 L268.3,789.08 L268.8,789.08 L269.3,789.08 L269.8,789.08 L270.3,789.08 L270.8,789.08 L271.3,789.08 L271.8,789.08 L272.3,789.08 L272.8,789.08 L273.3,789.08 L273.8,789.08 L274.3,789.08 L274.8,789.08 L275.3,789.08 L275.8,789.08 L276.3,789.08 L276.8,789.09 L277.3,789.09 L277.8,789.09 L278.3,789.09 L278.8,789.09 L279.3,789.09 L279.8,789.09 L280.3,789.09 L280.8,789.09 L281.3,789.09 L281.8,789.09 L282.3,789.09 L282.8,789.09 L283.3,789.09 L283.8,789.09 L284.3,789.09 L284.8,789.09 L285.3,789.09 L285.8,789.09 L286.3,789.09 L286.8,789.09 L287.3,789.09 L287.8,789.09 L288.3,789.09 L288.8,789.09 L289.3,789.09 L289.8,789.09 L290.3,789.09 L290.8,789.09 L291.3,789.09 L291.8,789.09 L292.3,789.09 L292.8,789.09 L293.3,789.09 L293.8,789.09 L294.3,789.09 L294.8,789.09 L295.3,789.09 L295.8,789.09 L296.3,789.09 L296.8,789.09 L297.3,789.09 L297.8,789.09 L298.3,789.09 L298.8,789.09 L299.3,789.09 L299.8,789.09 L300.3,789.09 L300.8,789.09 L301.3,789.09 L301.8,789.09 L302.3,789.09 L302.8,789.09 L303.3,789.09 L303.8,789.09 L304.3,789.09 L304.8,789.09 L305.3,789.09 L305.8,789.09 L306.3,789.09 L306.8,789.09 L307.3,789.09 L307.8,789.09 L308.3,789.09 L308.8,789.09 L309.3,789.09 L309.8,789.09 L310.3,789.09 L310.8,789.09 L311.3,789.09 L311.8,789.09 L312.3,789.09 L312.8,789.09 L313.3,789.09 L313.8,789.09 L314.3,789.09 L314.8,789.09 L315.3,789.09 L315.8,789.09 L316.3,789.09 L316.8,789.09 L317.3,789.09 L317.8,789.09 L318.3,789.09 L318.8,789.09 L319.3,789.09 L319.8,789.09 L320.3,789.09 L320.8,789.09 L321.3,789.09 L321.8,789.09 L322.3,789.08 L322.8,789.08 L323.3,789.08 L323.8,789.08 L324.3,789.08 L324.8,789.08 L325.3,789.08 L325.8,789.08 L326.3,789.08 L326.8,789.08 L327.3,789.08 L327.8,789.07 L328.3,789.07 L328.8,789.07 L329.3,789.07 L329.8,789.07 L330.3,789.07 L330.8,789.07 L331.3,789.06 L331.8,789.06 L332.3,789.06 L332.8,789.06 L333.3,789.06 L333.8,789.05 L334.3,789.05 L334.8,789.05 L335.3,789.05 L335.8,789.04 L336.3,789.04 L336.8,789.04 L337.3,789.03 L337.8,789.03 L338.3,789.03 L338.8,789.02 L339.3,789.02 L339.8,789.01 L340.3,789.01 L340.8,789.00 L341.3,789.00 L341.8,788.99 L342.3,788.99 L342.8,788.98 L343.3,788.98 L343.8,788.97 L344.3,788.96 L344.8,788.96 L345.3,788.95 L345.8,788.94 L346.3,788.93 L346.8,788.92 L347.3,788.91 L347.8,788.90 L348.3,788.89 L348.8,788.88 L349.3,788.87 L349.8,788.86 L350.3,788.84 L350.8,788.83 L351.3,788.82 L351.8,788.80 L352.3,788.78 L352.8,788.77 L353.3,788.75 L353.8,788.73 L354.3,788.71 L354.8,788.69 L355.3,788.67 L355.8,788.65 L356.3,788.62 L356.8,788.60 L357.3,788.57 L357.8,788.54 L358.3,788.51 L358.8,788.48 L359.3,788.44 L359.8,788.41 L360.3,788.37 L360.8,788.33 L361.3,788.29 L361.8,788.25 L362.3,788.20 L362.8,788.16 L363.3,788.10 L363.8,788.05 L364.3,788.00 L364.8,787.94 L365.3,787.87 L365.8,787.81 L366.3,787.74 L366.8,787.67 L367.3,787.59 L367.8,787.51 L368.3,787.43 L368.8,787.34 L369.3,787.24 L369.8,787.14 L370.3,787.04 L370.8,786.93 L371.3,786.81 L371.8,786.69 L372.3,786.57 L372.8,786.43 L373.3,786.29 L373.8,786.14 L374.3,785.98 L374.8,785.82 L375.3,785.65 L375.8,785.46 L376.3,785.27 L376.8,785.07 L377.3,784.86 L377.8,784.64 L378.3,784.40 L378.8,784.16 L379.3,783.90 L379.8,783.63 L380.3,783.34 L380.8,783.04 L381.3,782.73 L381.8,782.40 L382.3,782.05 L382.8,781.69 L383.3,781.31 L383.8,780.91 L384.3,780.49 L384.8,780.05 L385.3,779.59 L385.8,779.11 L386.3,778.60 L386.8,778.07 L387.3,777.52 L387.8,776.94 L388.3,776.33 L388.8,775.70 L389.3,775.03 L389.8,774.34 L390.3,773.62 L390.8,772.86 L391.3,772.08 L391.8,771.26 L392.3,770.40 L392.8,769.51 L393.3,768.59 L393.8,767.62 L394.3,766.62 L394.8,765.58 L395.3,764.50 L395.8,763.38 L396.3,762.22 L396.8,761.02 L397.3,759.78 L397.8,758.50 L398.3,757.18 L398.8,755.81 L399.3,754.41 L399.8,752.96 L400.3,751.48 L400.8,749.95 L401.3,748.39 L401.8,746.80 L402.3,745.17 L402.8,743.51 L403.3,741.81 L403.8,740.09 L404.3,738.35 L404.8,736.59 L405.3,734.80 L405.8,733.01 L406.3,731.20 L406.8,729.39 L407.3,727.58 L407.8,725.77 L408.3,723.97 L408.8,722.19 L409.3,720.43 L409.8,718.70 L410.3,717.00 L410.8,715.34 L411.3,713.73 L411.8,712.18 L412.3,710.68 L412.8,709.25 L413.3,707.90 L413.8,706.62 L414.3,705.43 L414.8,704.33 L415.3,703.33 L415.8,702.43 L416.3,701.63 L416.8,700.95 L417.3,700.38 L417.8,699.93 L418.3,699.60 L418.8,699.39 L419.3,699.30 L419.8,699.34 L420.3,699.52 L420.8,699.83 L421.3,700.26 L421.8,700.83 L422.3,701.52 L422.8,702.34 L423.3,703.27 L423.8,704.31 L424.3,705.45 L424.8,706.69 L425.3,708.02 L425.8,709.44 L426.3,710.93 L426.8,712.49 L427.3,714.12 L427.8,715.79 L428.3,717.51 L428.8,719.27 L429.3,721.06 L429.8,722.87 L430.3,724.70 L430.8,726.55 L431.3,728.39 L431.8,730.23 L432.3,732.07 L432.8,733.89 L433.3,735.70 L433.8,737.49 L434.3,739.25 L434.8,740.98 L435.3,742.69 L435.8,744.36 L436.3,745.99 L436.8,747.58 L437.3,749.14 L437.8,750.65 L438.3,752.12 L438.8,753.55 L439.3,754.94 L439.8,756.28 L440.3,757.58 L440.8,758.84 L441.3,760.05 L441.8,761.22 L442.3,762.34 L442.8,763.43 L443.3,764.47 L443.8,765.48 L444.3,766.44 L444.8,767.37 L445.3,768.26 L445.8,769.11 L446.3,769.93 L446.8,770.71 L447.3,771.46 L447.8,772.18 L448.3,772.87 L448.8,773.53 L449.3,774.16 L449.8,774.76 L450.3,775.34 L450.8,775.89 L451.3,776.42 L451.8,776.92 L452.3,777.41 L452.8,777.87 L453.3,778.31 L453.8,778.73 L454.3,779.13 L454.8,779.51 L455.3,779.88 L455.8,780.23 L456.3,780.57 L456.8,780.89 L457.3,781.19 L457.8,781.48 L458.3,781.76 L458.8,782.03 L459.3,782.29 L459.8,782.53 L460.3,782.77 L460.8,782.99 L461.3,783.20 L461.8,783.41 L462.3,783.61 L462.8,783.80 L463.3,783.98 L463.8,784.15 L464.3,784.31 L464.8,784.47 L465.3,784.62 L465.8,784.77 L466.3,784.91 L466.8,785.05 L467.3,785.17 L467.8,785.30 L468.3,785.42 L468.8,785.53 L469.3,785.64 L469.8,785.75 L470.3,785.85 L470.8,785.95 L471.3,786.04 L471.8,786.13 L472.3,786.22 L472.8,786.30 L473.3,786.38 L473.8,786.46 L474.3,786.54 L474.8,786.61 L475.3,786.68 L475.8,786.75 L476.3,786.81 L476.8,786.88 L477.3,786.94 L477.8,787.00 L478.3,787.05 L478.8,787.11 L479.3,787.16 L479.8,787.21 L480.3,787.26 L480.8,787.31 L481.3,787.36 L481.8,787.40 L482.3,787.45 L482.8,787.49 L483.3,787.53 L483.8,787.57 L484.3,787.61 L484.8,787.65 L485.3,787.68 L485.8,787.72 L486.3,787.75 L486.8,787.79 L487.3,787.82 L487.8,787.85 L488.3,787.88 L488.8,787.91 L489.3,787.94 L489.8,787.97 L490.3,788.00 L490.8,788.02 L491.3,788.05 L491.8,788.07 L492.3,788.10 L492.8,788.12 L493.3,788.15 L493.8,788.17 L494.3,788.19 L494.8,788.21 L495.3,788.23 L495.8,788.25 L496.3,788.27 L496.8,788.29 L497.3,788.31 L497.8,788.33 L498.3,788.35 L498.8,788.37 L499.3,788.38 L499.8,788.40 L500.3,788.42 L500.8,788.43 L501.3,788.45 L501.8,788.46 L502.3,788.48 L502.8,788.49 L503.3,788.50 L503.8,788.52 L504.3,788.53 L504.8,788.54 L505.3,788.56 L505.8,788.57 L506.3,788.58 L506.8,788.59 L507.3,788.61 L507.8,788.62 L508.3,788.63 L508.8,788.64 L509.3,788.65 L509.8,788.66 L510.3,788.67 L510.8,788.68 L511.3,788.69 L511.8,788.70 L512.3,788.71 L512.8,788.72 L513.3,788.72 L513.8,788.73 L514.3,788.74 L514.8,788.75 L515.3,788.76 L515.8,788.76 L516.3,788.77 L516.8,788.78 L517.3,788.79 L517.8,788.79 L518.3,788.80 L518.8,788.81 L519.3,788.81 L519.8,788.82 L520.3,788.83 L520.8,788.83 L521.3,788.84 L521.8,788.84 L522.3,788.85 L522.8,788.86 L523.3,788.86 L523.8,788.87 L524.3,788.87 L524.8,788.88 L525.3,788.88 L525.8,788.89 L526.3,788.89 L526.8,788.90 L527.3,788.90 L527.8,788.91 L528.3,788.91 L528.8,788.91 L529.3,788.92 L529.8,788.92 L530.3,788.93 L530.8,788.93 L531.3,788.93 L531.8,788.94 L532.3,788.94 L532.8,788.94 L533.3,788.95 L533.8,788.95 L534.3,788.96 L534.8,788.96 L535.3,788.96 L535.8,788.96 L536.3,788.97 L536.8,788.97 L537.3,788.97 L537.8,788.98 L538.3,788.98 L538.8,788.98 L539.3,788.98 L539.8,788.99 L540.3,788.99 L540.8,788.99 L541.3,788.99 L541.8,789.00 L542.3,789.00 L542.8,789.00 L543.3,789.00 L543.8,789.01 L544.3,789.01 L544.8,789.01 L545.3,789.01 L545.8,789.01 L546.3,789.02 L546.8,789.02 L547.3,789.02 L547.8,789.02 L548.3,789.02 L548.8,789.02 L549.3,789.03 L549.8,789.03 L550.3,789.03 L550.8,789.03 L551.3,789.03 L551.8,789.03 L552.3,789.04 L552.8,789.04 L553.3,789.04 L553.8,789.04 L554.3,789.04 L554.8,789.04 L555.3,789.04 L555.8,789.05 L556.3,789.05 L556.8,789.05 L557.3,789.05 L557.8,789.05 L558.3,789.05 L558.8,789.05 L559.3,789.05 L559.8,789.05 L560.3,789.06 L560.8,789.06 L561.3,789.06 L561.8,789.06 L562.3,789.06 L562.8,789.06 L563.3,789.06 L563.8,789.06 L564.3,789.06 L564.8,789.06 L565.3,789.06 L565.8,789.07 L566.3,789.07 L566.8,789.07 L567.3,789.07 L567.8,789.07 L568.3,789.07 L568.8,789.07 L569.3,789.07 L569.8,789.07 L570.3,789.07 L570.8,789.07 L571.3,789.07 L571.8,789.07 L572.3,789.07 L572.8,789.07 L573.3,789.08 L573.8,789.08 L574.3,789.08 L574.8,789.08 L575.3,789.08 L575.8,789.08 L576.3,789.08 L576.8,789.08 L577.3,789.08 L577.8,789.08 L578.3,789.08 L578.8,789.08 L579.3,789.08 L579.8,789.08 L580.3,789.08 L580.8,789.08 L581.3,789.08 L581.8,789.08 L582.3,789.08 L582.8,789.08 L583.3,789.08 L583.8,789.08 L584.3,789.08 L584.8,789.09 L585.3,789.09 L585.8,789.09 L586.3,789.09 L586.8,789.09 L587.3,789.09 L587.8,789.09 L588.3,789.09 L588.8,789.09 L589.3,789.09 L589.8,789.09 L590.3,789.09 L590.8,789.09 L591.3,789.09 L591.8,789.09 L592.3,789.09 L592.8,789.09 L593.3,789.09 L593.8,789.09 L594.3,789.09 L594.8,789.09 L595.3,789.09 L595.8,789.09 L596.3,789.09 L596.8,789.09 L597.3,789.09 L597.8,789.09 L598.3,789.09 L598.8,789.09 L599.3,789.09 L599.8,789.09 L600.3,789.09 L600.8,789.09 L601.3,789.09 L601.8,789.09 L602.3,789.09 L602.8,789.09 L603.3,789.09 L603.8,789.09 L604.3,789.09 L604.8,789.09 L605.3,789.09 L605.8,789.09 L606.3,789.09 L606.8,789.09 L607.3,789.09 L607.8,789.09 L608.3,789.09 L608.8,789.09 L609.3,789.09 L609.8,789.09 L610.3,789.09 L610.8,789.09 L611.3,789.09 L611.8,789.09 L612.3,789.09 L612.8,789.09 L613.3,789.09 L613.8,789.09 L614.3,789.09 L614.8,789.09 L615.3,789.09 L615.8,789.09 L616.3,789.09 L616.8,789.09 L617.3,789.09 L617.8,789.09 L618.3,789.09 L618.8,789.09 L619.3,789.09 L619.8,789.09 L620.3,789.09 L620.8,789.09 L621.3,789.09 L621.8,789.09 L622.3,789.09 L622.8,789.09 L623.3,789.09 L623.8,789.09 L624.3,789.09 L624.8,789.09 L625.3,789.09 L625.8,789.09 L626.3,789.09 L626.8,789.09 L627.3,789.09 L627.8,789.09 L628.3,789.09 L628.8,789.09 L629.3,789.08 L629.8,789.08 L630.3,789.08 L630.8,789.08 L631.3,789.08 L631.8,789.08 L632.3,789.08 L632.8,789.08 L633.3,789.08 L633.8,789.08 L634.3,789.08 L634.8,789.07 L635.3,789.07 L635.8,789.07 L636.3,789.07 L636.8,789.07 L637.3,789.07 L637.8,789.07 L638.3,789.06 L638.8,789.06 L639.3,789.06 L639.8,789.06 L640.3,789.06 L640.8,789.05 L641.3,789.05 L641.8,789.05 L642.3,789.05 L642.8,789.04 L643.3,789.04 L643.8,789.04 L644.3,789.03 L644.8,789.03 L645.3,789.03 L645.8,789.02 L646.3,789.02 L646.8,789.01 L647.3,789.01 L647.8,789.01 L648.3,789.00 L648.8,789.00 L649.3,788.99 L649.8,788.98 L650.3,788.98 L650.8,788.97 L651.3,788.96 L651.8,788.96 L652.3,788.95 L652.8,788.94 L653.3,788.93 L653.8,788.92 L654.3,788.91 L654.8,788.90 L655.3,788.89 L655.8,788.88 L656.3,788.87 L656.8,788.86 L657.3,788.85 L657.8,788.83 L658.3,788.82 L658.8,788.80 L659.3,788.79 L659.8,788.77 L660.3,788.75 L660.8,788.73 L661.3,788.72 L661.8,788.69 L662.3,788.67 L662.8,788.65 L663.3,788.63 L663.8,788.60 L664.3,788.57 L664.8,788.55 L665.3,788.52 L665.8,788.48 L666.3,788.45 L666.8,788.42 L667.3,788.38 L667.8,788.34 L668.3,788.30 L668.8,788.26 L669.3,788.21 L669.8,788.17 L670.3,788.12 L670.8,788.06 L671.3,788.01 L671.8,787.95 L672.3,787.89 L672.8,787.82 L673.3,787.75 L673.8,787.68 L674.3,787.61 L674.8,787.53 L675.3,787.44 L675.8,787.35 L676.3,787.26 L676.8,787.16 L677.3,787.06 L677.8,786.95 L678.3,786.84 L678.8,786.72 L679.3,786.59 L679.8,786.46 L680.3,786.32 L680.8,786.17 L681.3,786.02 L681.8,785.85 L682.3,785.68 L682.8,785.50 L683.3,785.31 L683.8,785.11 L684.3,784.90 L684.8,784.68 L685.3,784.45 L685.8,784.21 L686.3,783.95 L686.8,783.68 L687.3,783.40 L687.8,783.11 L688.3,782.79 L688.8,782.47 L689.3,782.12 L689.8,781.76 L690.3,781.39 L690.8,780.99 L691.3,780.58 L691.8,780.14 L692.3,779.68 L692.8,779.21 L693.3,778.70 L693.8,778.18 L694.3,777.63 L694.8,777.06 L695.3,776.45 L695.8,775.83 L696.3,775.17 L696.8,774.48 L697.3,773.77 L697.8,773.02 L698.3,772.24 L698.8,771.42 L699.3,770.58 L699.8,769.69 L700.3,768.77 L700.8,767.82 L701.3,766.82 L701.8,765.79 L702.3,764.72 L702.8,763.61 L703.3,762.46 L703.8,761.27 L704.3,760.03 L704.8,758.76 L705.3,757.44 L705.8,756.09 L706.3,754.69 L706.8,753.25 L707.3,751.78 L707.8,750.26 L708.3,748.71 L708.8,747.12 L709.3,745.50 L709.8,743.84 L710.3,742.15 L710.8,740.44 L711.3,738.70 L711.8,736.94 L712.3,735.16 L712.8,733.37 L713.3,731.56 L713.8,729.75 L714.3,727.94 L714.8,726.13 L715.3,724.33 L715.8,722.55 L716.3,720.78 L716.8,719.04 L717.3,717.34 L717.8,715.67 L718.3,714.05 L718.8,712.48 L719.3,710.98 L719.8,709.53 L720.3,708.16 L720.8,706.87 L721.3,705.66 L721.8,704.54 L722.3,703.52 L722.8,702.60 L723.3,701.78 L723.8,701.08 L724.3,700.48 L724.8,700.01 L725.3,699.65 L725.8,699.42 L726.3,699.31 L726.8,699.32 L727.3,699.47 L727.8,699.75 L728.3,700.17 L728.8,700.71 L729.3,701.38 L729.8,702.17 L730.3,703.07 L730.8,704.09 L731.3,705.21 L731.8,706.44 L732.3,707.75 L732.8,709.15 L733.3,710.63 L733.8,712.18 L734.3,713.79 L734.8,715.45 L735.3,717.16 L735.8,718.92 L736.3,720.70 L736.8,722.51 L737.3,724.34 L737.8,726.18 L738.3,728.02 L738.8,729.87 L739.3,731.70 L739.8,733.53 L740.3,735.34 L740.8,737.13 L741.3,738.90 L741.8,740.64 L742.3,742.35 L742.8,744.03 L743.3,745.67 L743.8,747.27 L744.3,748.83 L744.8,750.35 L745.3,751.83 L745.8,753.27 L746.3,754.67 L746.8,756.02 L747.3,757.32 L747.8,758.59 L748.3,759.81 L748.8,760.99 L749.3,762.12 L749.8,763.21 L750.3,764.27 L750.8,765.28 L751.3,766.25 L751.8,767.19 L752.3,768.08 L752.8,768.94 L753.3,769.77 L753.8,770.56 L754.3,771.32 L754.8,772.04 L755.3,772.74 L755.8,773.40 L756.3,774.04 L756.8,774.65 L757.3,775.23 L757.8,775.78 L758.3,776.32 L758.8,776.82 L759.3,777.31 L759.8,777.78 L760.3,778.22 L760.8,778.64 L761.3,779.05 L761.8,779.44 L762.3,779.81 L762.8,780.16 L763.3,780.50 L763.8,780.82 L764.3,781.13 L764.8,781.43 L765.3,781.71 L765.8,781.98 L766.3,782.24 L766.8,782.48 L767.3,782.72 L767.8,782.95 L768.3,783.16 L768.8,783.37 L769.3,783.57 L769.8,783.76 L770.3,783.94 L770.8,784.11 L771.3,784.28 L771.8,784.44 L772.3,784.59 L772.8,784.74 L773.3,784.88 L773.8,785.02 L774.3,785.15 L774.8,785.27 L775.3,785.39 L775.8,785.51 L776.3,785.62 L776.8,785.73 L777.3,785.83 L777.8,785.93 L778.3,786.02 L778.8,786.11 L779.3,786.20 L779.8,786.29 L780.3,786.37 L780.8,786.45 L781.3,786.52 L781.8,786.60 L782.3,786.67 L782.8,786.73 L783.3,786.80 L783.8,786.86 L784.3,786.93 L784.8,786.98 L785.3,787.04 L785.8,787.10 L786.3,787.15 L786.8,787.20 L787.3,787.25 L787.8,787.30 L788.3,787.35 L788.8,787.39 L789.3,787.44 L789.8,787.48 L790.3,787.52 L790.8,787.56 L791.3,787.60 L791.8,787.64 L792.3,787.68 L792.8,787.71 L793.3,787.75 L793.8,787.78 L794.3,787.81 L794.8,787.85 L795.3,787.88 L795.8,787.91 L796.3,787.94 L796.8,787.96 L797.3,787.99 L797.8,788.02 L798.3,788.04 L798.8,788.07 L799.3,788.09 L799.8,788.12 L800.3,788.14 L800.8,788.16 L801.3,788.19 L801.8,788.21 L802.3,788.23 L802.8,788.25 L803.3,788.27 L803.8,788.29 L804.3,788.31 L804.8,788.33 L805.3,788.34 L805.8,788.36 L806.3,788.38 L806.8,788.40 L807.3,788.41 L807.8,788.43 L808.3,788.44 L808.8,788.46 L809.3,788.47 L809.8,788.49 L810.3,788.50 L810.8,788.52 L811.3,788.53 L811.8,788.54 L812.3,788.55 L812.8,788.57 L813.3,788.58 L813.8,788.59 L814.3,788.60 L814.8,788.61 L815.3,788.63 L815.8,788.64 L816.3,788.65 L816.8,788.66 L817.3,788.67 L817.8,788.68 L818.3,788.69 L818.8,788.70 L819.3,788.70 L819.8,788.71 L820.3,788.72 L820.8,788.73 L821.3,788.74 L821.8,788.75 L822.3,788.76 L822.8,788.76 L823.3,788.77 L823.8,788.78 L824.3,788.79 L824.8,788.79 L825.3,788.80 L825.8,788.81 L826.3,788.81 L826.8,788.82 L827.3,788.83 L827.8,788.83 L828.3,788.84 L828.8,788.84 L829.3,788.85 L829.8,788.85 L830.3,788.86 L830.8,788.87 L831.3,788.87 L831.8,788.88 L832.3,788.88 L832.8,788.89 L833.3,788.89 L833.8,788.90 L834.3,788.90 L834.8,788.90 L835.3,788.91 L835.8,788.91 L836.3,788.92 L836.8,788.92 L837.3,788.93 L837.8,788.93 L838.3,788.93 L838.8,788.94 L839.3,788.94 L839.8,788.94 L840.3,788.95 L840.8,788.95 L841.3,788.95 L841.8,788.96 L842.3,788.96 L842.8,788.96 L843.3,788.97 L843.8,788.97 L844.3,788.97 L844.8,788.98 L845.3,788.98 L845.8,788.98 L846.3,788.98 L846.8,788.99 L847.3,788.99 L847.8,788.99 L848.3,788.99 L848.8,789.00 L849.3,789.00 L849.8,789.00 L850.3,789.00 L850.8,789.01 L851.3,789.01 L851.8,789.01 L852.3,789.01 L852.8,789.01 L853.3,789.02 L853.8,789.02 L854.3,789.02 L854.8,789.02 L855.3,789.02 L855.8,789.02 L856.3,789.03 L856.8,789.03 L857.3,789.03 L857.8,789.03 L858.3,789.03 L858.8,789.03 L859.3,789.04 L859.8,789.04 L860.3,789.04 L860.8,789.04 L861.3,789.04 L861.8,789.04 L862.3,789.04 L862.8,789.05 L863.3,789.05 L863.8,789.05 L864.3,789.05 L864.8,789.05 L865.3,789.05 L865.8,789.05 L866.3,789.05 L866.8,789.05 L867.3,789.06 L867.8,789.06 L868.3,789.06 L868.8,789.06 L869.3,789.06 L869.8,789.06 L870.3,789.06 L870.8,789.06 L871.3,789.06 L871.8,789.06 L872.3,789.06 L872.8,789.07 L873.3,789.07 L873.8,789.07 L874.3,789.07 L874.8,789.07 L875.3,789.07 L875.8,789.07 L876.3,789.07 L876.8,789.07 L877.3,789.07 L877.8,789.07 L878.3,789.07 L878.8,789.07 L879.3,789.07 L879.8,789.07 L880.3,789.08 L880.8,789.08 L881.3,789.08 L881.8,789.08 L882.3,789.08 L882.8,789.08 L883.3,789.08 L883.8,789.08 L884.3,789.08 L884.8,789.08 L885.3,789.08 L885.8,789.08 L886.3,789.08 L886.8,789.08 L887.3,789.08 L887.8,789.08 L888.3,789.08 L888.8,789.08 L889.3,789.08 L889.8,789.08 L890.3,789.08 L890.8,789.08 L891.3,789.08 L891.8,789.09 L892.3,789.09 L892.8,789.09 L893.3,789.09 L893.8,789.09 L894.3,789.09 L894.8,789.09 L895.3,789.09 L895.8,789.09 L896.3,789.09 L896.8,789.09 L897.3,789.09 L897.8,789.09 L898.3,789.09 L898.8,789.09 L899.3,789.09 L899.8,789.09 L900.3,789.09 L900.8,789.09 L901.3,789.09 L901.8,789.09 L902.3,789.09 L902.8,789.09 L903.3,789.09 L903.8,789.09 L904.3,789.09 L904.8,789.09 L905.3,789.09 L905.8,789.09 L906.3,789.09 L906.8,789.09 L907.3,789.09 L907.8,789.09 L908.3,789.09 L908.8,789.09 L909.3,789.09 L909.8,789.09 L910.3,789.09 L910.8,789.09 L911.3,789.09 L911.8,789.09 L912.3,789.09 L912.8,789.09 L913.3,789.09 L913.8,789.09 L914.3,789.09 L914.8,789.09 L915.3,789.09 L915.8,789.09 L916.3,789.09 L916.8,789.09 L917.3,789.09 L917.8,789.09 L918.3,789.09 L918.8,789.09 L919.3,789.09 L919.8,789.09 L920.3,789.09 L920.8,789.09 L921.3,789.09 L921.8,789.09 L922.3,789.09 L922.8,789.09 L923.3,789.09 L923.8,789.09 L924.3,789.09 L924.8,789.09 L925.3,789.09 L925.8,789.09 L926.3,789.09 L926.8,789.09 L927.3,789.09 L927.8,789.09 L928.3,789.09 L928.8,789.09 L929.3,789.09 L929.8,789.09 L930.3,789.09 L930.8,789.09 L931.3,789.09 L931.8,789.09 L932.3,789.09 L932.8,789.09 L933.3,789.09 L933.8,789.09 L934.3,789.09 L934.8,789.09 L935.3,789.09 L935.8,789.09 L936.3,789.09 L936.8,789.08 L937.3,789.08 L937.8,789.08 L938.3,789.08 L938.8,789.08 L939.3,789.08 L939.8,789.08 L940.3,789.08 L940.8,789.08 L941.3,789.08 L941.8,789.08 L942.3,789.07 L942.8,789.07 L943.3,789.07 L943.8,789.07 L944.3,789.07 L944.8,789.07 L945.3,789.07 L945.8,789.06 L946.3,789.06 L946.8,789.06 L947.3,789.06 L947.8,789.06 L948.3,789.05 L948.8,789.05 L949.3,789.05 L949.8,789.05 L950.3,789.04 L950.8,789.04 L951.3,789.04 L951.8,789.03 L952.3,789.03 L952.8,789.03 L953.3,789.02 L953.8,789.02 L954.3,789.02 L954.8,789.01 L955.3,789.01 L955.8,789.00 L956.3,789.00 L956.8,788.99 L957.3,788.99 L957.8,788.98 L958.3,788.97 L958.8,788.97 L959.3,788.96 L959.8,788.95 L960.3,788.94 L960.8,788.93 L961.3,788.93 L961.8,788.92 L962.3,788.91 L962.8,788.90 L963.3,788.89 L963.8,788.87 L964.3,788.86 L964.8,788.85 L965.3,788.84 L965.8,788.82 L966.3,788.81 L966.8,788.79 L967.3,788.77 L967.8,788.76 L968.3,788.74 L968.8,788.72 L969.3,788.70 L969.8,788.68 L970.3,788.65 L970.8,788.63 L971.3,788.61 L971.8,788.58 L972.3,788.55 L972.8,788.52 L973.3,788.49 L973.8,788.46 L974.3,788.42 L974.8,788.39 L975.3,788.35 L975.8,788.31 L976.3,788.27 L976.8,788.22 L977.3,788.18 L977.8,788.13 L978.3,788.07 L978.8,788.02 L979.3,787.96 L979.8,787.90 L980.3,787.84 L980.8,787.77 L981.3,787.70 L981.8,787.62 L982.3,787.54 L982.8,787.46 L983.3,787.37 L983.8,787.28 L984.3,787.18 L984.8,787.08 L985.3,786.97 L985.8,786.86 L986.3,786.74 L986.8,786.62 L987.3,786.49 L987.8,786.35 L988.3,786.20 L988.8,786.05 L989.3,785.89 L989.8,785.72 L990.3,785.54 L990.8,785.35 L991.3,785.15 L991.8,784.95 L992.3,784.73 L992.8,784.50 L993.3,784.26 L993.8,784.00 L994.3,783.74 L994.8,783.46 L995.3,783.17 L995.8,782.86 L996.3,782.53 L996.8,782.19 L997.3,781.84 L997.8,781.46 L998.3,781.07 L998.8,780.66 L999.3,780.23 L999.8,779.78 L1000.3,779.30 L1000.8,778.81 L1001.3,778.29 L1001.8,777.74 L1002.3,777.17 L1002.8,776.58 L1003.3,775.95 L1003.8,775.30 L1004.3,774.62 L1004.8,773.91 L1005.3,773.17 L1005.8,772.40 L1006.3,771.59 L1006.8,770.75 L1007.3,769.87 L1007.8,768.96 L1008.3,768.01 L1008.8,767.03 L1009.3,766.00 L1009.8,764.94 L1010.3,763.83 L1010.8,762.69 L1011.3,761.51 L1011.8,760.28 L1012.3,759.02 L1012.8,757.71 L1013.3,756.36 L1013.8,754.97 L1014.3,753.54 L1014.8,752.08 L1015.3,750.57 L1015.8,749.02 L1016.3,747.44 L1016.8,745.82 L1017.3,744.17 L1017.8,742.49 L1018.3,740.78 L1018.8,739.05 L1019.3,737.29 L1019.8,735.52 L1020.3,733.73 L1020.8,731.92 L1021.3,730.11 L1021.8,728.30 L1022.3,726.49 L1022.8,724.69 L1023.3,722.90 L1023.8,721.13 L1024.3,719.39 L1024.8,717.68 L1025.3,716.00 L1025.8,714.37 L1026.3,712.79 L1026.8,711.27 L1027.3,709.82 L1027.8,708.43 L1028.3,707.12 L1028.8,705.89 L1029.3,704.76 L1029.8,703.72 L1030.3,702.77 L1030.8,701.94 L1031.3,701.21 L1031.8,700.59 L1032.3,700.10 L1032.8,699.72 L1033.3,699.46 L1033.8,699.32 L1034.3,699.31 L1034.8,699.43 L1035.3,699.69 L1035.8,700.07 L1036.3,700.59 L1036.8,701.23 L1037.3,702.00 L1037.8,702.88 L1038.3,703.88 L1038.8,704.98 L1039.3,706.18 L1039.8,707.48 L1040.3,708.86 L1040.8,710.33 L1041.3,711.86 L1041.8,713.46 L1042.3,715.11 L1042.8,716.82 L1043.3,718.56 L1043.8,720.34 L1044.3,722.15 L1044.8,723.97 L1045.3,725.81 L1045.8,727.65 L1046.3,729.50 L1046.8,731.34 L1047.3,733.17 L1047.8,734.98 L1048.3,736.78 L1048.8,738.55 L1049.3,740.29 L1049.8,742.01 L1050.3,743.69 L1050.8,745.34 L1051.3,746.95 L1051.8,748.52 L1052.3,750.05 L1052.8,751.54 L1053.3,752.99 L1053.8,754.39 L1054.3,755.75 L1054.8,757.07 L1055.3,758.34 L1055.8,759.57 L1056.3,760.75 L1056.8,761.90 L1057.3,763.00 L1057.8,764.06 L1058.3,765.08 L1058.8,766.06 L1059.3,767.00 L1059.8,767.91 L1060.3,768.77 L1060.8,769.60 L1061.3,770.40 L1061.8,771.17 L1062.3,771.90 L1062.8,772.60 L1063.3,773.27 L1063.8,773.91 L1064.3,774.53 L1064.8,775.11 L1065.3,775.67 L1065.8,776.21 L1066.3,776.72 L1066.8,777.22 L1067.3,777.68 L1067.8,778.13 L1068.3,778.56 L1068.8,778.97 L1069.3,779.36 L1069.8,779.73 L1070.3,780.09 L1070.8,780.43 L1071.3,780.76 L1071.8,781.07 L1072.3,781.37 L1072.8,781.65 L1073.3,781.93 L1073.8,782.19 L1074.3,782.44 L1074.8,782.67 L1075.3,782.90 L1075.8,783.12 L1076.3,783.33 L1076.8,783.53 L1077.3,783.72 L1077.8,783.90 L1078.3,784.08 L1078.8,784.25 L1079.3,784.41 L1079.8,784.56 L1080.3,784.71 L1080.8,784.86 L1081.3,784.99 L1081.8,785.12 L1082.3,785.25 L1082.8,785.37 L1083.3,785.49 L1083.8,785.60 L1084.3,785.71 L1084.8,785.81 L1085.3,785.91 L1085.8,786.00 L1086.3,786.10 L1086.8,786.18 L1087.3,786.27 L1087.8,786.35 L1088.3,786.43 L1088.8,786.51 L1089.3,786.58 L1089.8,786.65 L1090.3,786.72 L1090.8,786.79 L1091.3,786.85 L1091.8,786.91 L1092.3,786.97 L1092.8,787.03 L1093.3,787.09 L1093.8,787.14 L1094.3,787.19 L1094.8,787.24 L1095.3,787.29 L1095.8,787.34 L1096.3,787.39 L1096.8,787.43 L1097.3,787.47 L1097.8,787.51 L1098.3,787.56 L1098.8,787.59 L1099.3,787.63 L1099.8,787.67 L1100.3,787.71 L1100.8,787.74 L1101.3,787.77 L1101.8,787.81 L1102.3,787.84 L1102.8,787.87 L1103.3,787.90 L1103.8,787.93 L1104.3,787.96 L1104.8,787.99 L1105.3,788.01 L1105.8,788.04 L1106.3,788.06 L1106.8,788.09 L1107.3,788.11 L1107.8,788.14 L1108.3,788.16 L1108.8,788.18 L1109.3,788.20 L1109.8,788.22 L1110.3,788.25 L1110.8,788.27 L1111.3,788.29 L1111.8,788.30 L1112.3,788.32 L1112.8,788.34 L1113.3,788.36 L1113.8,788.38 L1114.3,788.39 L1114.8,788.41 L1115.3,788.42 L1115.8,788.44 L1116.3,788.46 L1116.8,788.47 L1117.3,788.49 L1117.8,788.50 L1118.3,788.51 L1118.8,788.53 L1119.3,788.54 L1119.8,788.55 L1120.3,788.56 L1120.8,788.58 L1121.3,788.59 L1121.8,788.60 L1122.3,788.61 L1122.8,788.62 L1123.3,788.63 L1123.8,788.64 L1124.3,788.65 L1124.8,788.66 L1125.3,788.67 L1125.8,788.68 L1126.3,788.69 L1126.8,788.70 L1127.3,788.71 L1127.8,788.72 L1128.3,788.73 L1128.8,788.74 L1129.3,788.75 L1129.8,788.75 L1130.3,788.76 L1130.8,788.77 L1131.3,788.78 L1131.8,788.78 L1132.3,788.79 L1132.8,788.80 L1133.3,788.80 L1133.8,788.81 L1134.3,788.82 L1134.8,788.82 L1135.3,788.83 L1135.8,788.84 L1136.3,788.84 L1136.8,788.85 L1137.3,788.85 L1137.8,788.86 L1138.3,788.86 L1138.8,788.87 L1139.3,788.88 L1139.8,788.88 L1140.3,788.89 L1140.8,788.89 L1141.3,788.89 L1141.8,788.90 L1142.3,788.90 L1142.8,788.91 L1143.3,788.91 L1143.8,788.92 L1144.3,788.92 L1144.8,788.92 L1145.3,788.93 L1145.8,788.93 L1146.3,788.94 L1146.8,788.94 L1147.3,788.94 L1147.8,788.95 L1148.3,788.95 L1148.8,788.95 L1149.3,788.96 L1149.8,788.96 L1150.3,788.96 L1150.8,788.97 L1151.3,788.97 L1151.8,788.97 L1152.3,788.98 L1152.8,788.98 L1153.3,788.98 L1153.8,788.98 L1154.3,788.99 L1154.8,788.99 L1155.3,788.99 L1155.8,788.99 L1156.3,789.00 L1156.8,789.00 L1157.3,789.00 L1157.8,789.00 L1158.3,789.00 L1158.8,789.01 L1159.3,789.01 L1159.8,789.01 L1160.3,789.01 L1160.8,789.02 L1161.3,789.02 L1161.8,789.02 L1162.3,789.02 L1162.8,789.02 L1163.3,789.02 L1163.8,789.03 L1164.3,789.03 L1164.8,789.03 L1165.3,789.03 L1165.8,789.03 L1166.3,789.03 L1166.8,789.04 L1167.3,789.04 L1167.8,789.04 L1168.3,789.04 L1168.8,789.04 L1169.3,789.04 L1169.8,789.04 L1170.3,789.04 L1170.8,789.05 L1171.3,789.05 L1171.8,789.05 L1172.3,789.05 L1172.8,789.05 L1173.3,789.05 L1173.8,789.05 L1174.3,789.05 L1174.8,789.05 L1175.3,789.06 L1175.8,789.06 L1176.3,789.06 L1176.8,789.06 L1177.3,789.06 L1177.8,789.06 L1178.3,789.06 L1178.8,789.06 L1179.3,789.06 L1179.8,789.06 L1180.3,789.06 L1180.8,789.07 L1181.3,789.07 L1181.8,789.07 L1182.3,789.07 L1182.8,789.07 L1183.3,789.07 L1183.8,789.07 L1184.3,789.07 L1184.8,789.07 L1185.3,789.07 L1185.8,789.07 L1186.3,789.07 L1186.8,789.07 L1187.3,789.07 L1187.8,789.08 L1188.3,789.08 L1188.8,789.08 L1189.3,789.08 L1189.8,789.08 L1190.3,789.08 L1190.8,789.08 L1191.3,789.08 L1191.8,789.08 L1192.3,789.08 L1192.8,789.08 L1193.3,789.08 L1193.8,789.08 L1194.3,789.08 L1194.8,789.08 L1195.3,789.08 L1195.8,789.08 L1196.3,789.08 L1196.8,789.08 L1197.3,789.08 L1197.8,789.08 L1198.3,789.08 L1198.8,789.08 L1199.3,789.09 L1199.8,789.09 L1200.3,789.09 L1200.8,789.09 L1201.3,789.09 L1201.8,789.09 L1202.3,789.09 L1202.8,789.09 L1203.3,789.09 L1203.8,789.09 L1204.3,789.09 L1204.8,789.09 L1205.3,789.09 L1205.8,789.09 L1206.3,789.09 L1206.8,789.09 L1207.3,789.09 L1207.8,789.09 L1208.3,789.09 L1208.8,789.09 L1209.3,789.09 L1209.8,789.09 L1210.3,789.09 L1210.8,789.09 L1211.3,789.09 L1211.8,789.09 L1212.3,789.09 L1212.8,789.09 L1213.3,789.09 L1213.8,789.09 L1214.3,789.09 L1214.8,789.09 L1215.3,789.09 L1215.8,789.09 L1216.3,789.09 L1216.8,789.09 L1217.3,789.09 L1217.8,789.09 L1218.3,789.09 L1218.8,789.09 L1219.3,789.09 L1219.8,789.09 L1220.3,789.09 L1220.8,789.09 L1221.3,789.09 L1221.8,789.09 L1222.3,789.09 L1222.8,789.09 L1223.3,789.09 L1223.8,789.09 L1224.3,789.09 L1224.8,789.09 L1225.3,789.09 L1225.8,789.09 L1226.3,789.09 L1226.8,789.09 L1227.3,789.09 L1227.8,789.09 L1228.3,789.09 L1228.8,789.09 L1229.3,789.09 L1229.8,789.09 L1230.3,789.09 L1230.8,789.09 L1231.3,789.09 L1231.8,789.09 L1232.3,789.09 L1232.8,789.09 L1233.3,789.09 L1233.8,789.09 L1234.3,789.09 L1234.8,789.09 L1235.3,789.09 L1235.8,789.09 L1236.3,789.09 L1236.8,789.09 L1237.3,789.09 L1237.8,789.09 L1238.3,789.09 L1238.8,789.09 L1239.3,789.09 L1239.8,789.09 L1240.3,789.09 L1240.8,789.09 L1241.3,789.09 L1241.8,789.09 L1242.3,789.09 L1242.8,789.09 L1243.3,789.08 L1243.8,789.08 L1244.3,789.08 L1244.8,789.08 L1245.3,789.08 L1245.8,789.08 L1246.3,789.08 L1246.8,789.08 L1247.3,789.08 L1247.8,789.08 L1248.3,789.08 L1248.8,789.07 L1249.3,789.07 L1249.8,789.07 L1250.3,789.07 L1250.8,789.07 L1251.3,789.07 L1251.8,789.07 L1252.3,789.06 L1252.8,789.06 L1253.3,789.06 L1253.8,789.06 L1254.3,789.06 L1254.8,789.05 L1255.3,789.05 L1255.8,789.05 L1256.3,789.05 L1256.8,789.04 L1257.3,789.04 L1257.8,789.04 L1258.3,789.03 L1258.8,789.03 L1259.3,789.03 L1259.8,789.02 L1260.3,789.02 L1260.8,789.01 L1261.3,789.01 L1261.8,789.01 L1262.3,789.00 L1262.8,789.00 L1263.3,788.99 L1263.8,788.98 L1264.3,788.98 L1264.8,788.97 L1265.3,788.96 L1265.8,788.96 L1266.3,788.95 L1266.8,788.94 L1267.3,788.93 L1267.8,788.92 L1268.3,788.91 L1268.8,788.90 L1269.3,788.89 L1269.8,788.88 L1270.3,788.87 L1270.8,788.86 L1271.3,788.85 L1271.8,788.83 L1272.3,788.82 L1272.8,788.80 L1273.3,788.79 L1273.8,788.77 L1274.3,788.75 L1274.8,788.73 L1275.3,788.72 L1275.8,788.69 L1276.3,788.67 L1276.8,788.65 L1277.3,788.63 L1277.8,788.60 L1278.3,788.57 L1278.8,788.55 L1279.3,788.52 L1279.8,788.48 L1280.3,788.45 L1280.8,788.42 L1281.3,788.38 L1281.8,788.34 L1282.3,788.30 L1282.8,788.26 L1283.3,788.21 L1283.8,788.17 L1284.3,788.12 L1284.8,788.06 L1285.3,788.01 L1285.8,787.95 L1286.3,787.89 L1286.8,787.82 L1287.3,787.75 L1287.8,787.68 L1288.3,787.61 L1288.8,787.53 L1289.3,787.44 L1289.8,787.35 L1290.3,787.26 L1290.8,787.16 L1291.3,787.06 L1291.8,786.95 L1292.3,786.84 L1292.8,786.72 L1293.3,786.59 L1293.8,786.46 L1294.3,786.32 L1294.8,786.17 L1295.3,786.02 L1295.8,785.85 L1296.3,785.68 L1296.8,785.50 L1297.3,785.31 L1297.8,785.11 L1298.3,784.90 L1298.8,784.68 L1299.3,784.45 L1299.8,784.21 L1300.3,783.95 L1300.8,783.68 L1301.3,783.40 L1301.8,783.11 L1302.3,782.79 L1302.8,782.47 L1303.3,782.12 L1303.8,781.76 L1304.3,781.39 L1304.8,780.99 L1305.3,780.58 L1305.8,780.14 L1306.3,779.68 L1306.8,779.21 L1307.3,778.70 L1307.8,778.18 L1308.3,777.63 L1308.8,777.06 L1309.3,776.45 L1309.8,775.83 L1310.3,775.17 L1310.8,774.48 L1311.3,773.77 L1311.8,773.02 L1312.3,772.24 L1312.8,771.42 L1313.3,770.58 L1313.8,769.69 L1314.3,768.77 L1314.8,767.82 L1315.3,766.82 L1315.8,765.79 L1316.3,764.72 L1316.8,763.61 L1317.3,762.46 L1317.8,761.27 L1318.3,760.03 L1318.8,758.76 L1319.3,757.44 L1319.8,756.09 L1320.3,754.69 L1320.8,753.25 L1321.3,751.78 L1321.8,750.26 L1322.3,748.71 L1322.8,747.12 L1323.3,745.50 L1323.8,743.84 L1324.3,742.15 L1324.8,740.44 L1325.3,738.70 L1325.8,736.94 L1326.3,735.16 L1326.8,733.37 L1327.3,731.56 L1327.8,729.75 L1328.3,727.94 L1328.8,726.13 L1329.3,724.33 L1329.8,722.55 L1330.3,720.78 L1330.8,719.04 L1331.3,717.34" fill="none" stroke="#0000ff" stroke-width="2.45" stroke-linejoin="round" clip-path="url(#ca)"/>
<rect x="103.3" y="15.7" width="1226.30" height="792.50" fill="none" stroke="#000" stroke-width="3.6"/>
<line x1="103.30" y1="15.7" x2="103.30" y2="33.7" stroke="#000" stroke-width="3"/>
<line x1="103.30" y1="808.2" x2="103.30" y2="790.2" stroke="#000" stroke-width="3"/>
<line x1="164.62" y1="15.7" x2="164.62" y2="25.7" stroke="#000" stroke-width="3"/>
<line x1="164.62" y1="808.2" x2="164.62" y2="798.2" stroke="#000" stroke-width="3"/>
<line x1="225.93" y1="15.7" x2="225.93" y2="33.7" stroke="#000" stroke-width="3"/>
<line x1="225.93" y1="808.2" x2="225.93" y2="790.2" stroke="#000" stroke-width="3"/>
<line x1="287.25" y1="15.7" x2="287.25" y2="25.7" stroke="#000" stroke-width="3"/>
<line x1="287.25" y1="808.2" x2="287.25" y2="798.2" stroke="#000" stroke-width="3"/>
<line x1="348.56" y1="15.7" x2="348.56" y2="33.7" stroke="#000" stroke-width="3"/>
<line x1="348.56" y1="808.2" x2="348.56" y2="790.2" stroke="#000" stroke-width="3"/>
<line x1="409.88" y1="15.7" x2="409.88" y2="25.7" stroke="#000" stroke-width="3"/>
<line x1="409.88" y1="808.2" x2="409.88" y2="798.2" stroke="#000" stroke-width="3"/>
<line x1="471.19" y1="15.7" x2="471.19" y2="33.7" stroke="#000" stroke-width="3"/>
<line x1="471.19" y1="808.2" x2="471.19" y2="790.2" stroke="#000" stroke-width="3"/>
<line x1="532.50" y1="15.7" x2="532.50" y2="25.7" stroke="#000" stroke-width="3"/>
<line x1="532.50" y1="808.2" x2="532.50" y2="798.2" stroke="#000" stroke-width="3"/>
<line x1="593.82" y1="15.7" x2="593.82" y2="33.7" stroke="#000" stroke-width="3"/>
<line x1="593.82" y1="808.2" x2="593.82" y2="790.2" stroke="#000" stroke-width="3"/>
<line x1="655.13" y1="15.7" x2="655.13" y2="25.7" stroke="#000" stroke-width="3"/>
<line x1="655.13" y1="808.2" x2="655.13" y2="798.2" stroke="#000" stroke-width="3"/>
<line x1="716.45" y1="15.7" x2="716.45" y2="33.7" stroke="#000" stroke-width="3"/>
<line x1="716.45" y1="808.2" x2="716.45" y2="790.2" stroke="#000" stroke-width="3"/>
<line x1="777.76" y1="15.7" x2="777.76" y2="25.7" stroke="#000" stroke-width="3"/>
<line x1="777.76" y1="808.2" x2="777.76" y2="798.2" stroke="#000" stroke-width="3"/>
<line x1="839.08" y1="15.7" x2="839.08" y2="33.7" stroke="#000" stroke-width="3"/>
<line x1="839.08" y1="808.2" x2="839.08" y2="790.2" stroke="#000" stroke-width="3"/>
<line x1="900.39" y1="15.7" x2="900.39" y2="25.7" stroke="#000" stroke-width="3"/>
<line x1="900.39" y1="808.2" x2="900.39" y2="798.2" stroke="#000" stroke-width="3"/>
<line x1="961.71" y1="15.7" x2="961.71" y2="33.7" stroke="#000" stroke-width="3"/>
<line x1="961.71" y1="808.2" x2="961.71" y2="790.2" stroke="#000" stroke-width="3"/>
<line x1="1023.02" y1="15.7" x2="1023.02" y2="25.7" stroke="#000" stroke-width="3"/>
<line x1="1023.02" y1="808.2" x2="1023.02" y2="798.2" stroke="#000" stroke-width="3"/>
<line x1="1084.34" y1="15.7" x2="1084.34" y2="33.7" stroke="#000" stroke-width="3"/>
<line x1="1084.34" y1="808.2" x2="1084.34" y2="790.2" stroke="#000" stroke-width="3"/>
<line x1="1145.65" y1="15.7" x2="1145.65" y2="25.7" stroke="#000" stroke-width="3"/>
<line x1="1145.65" y1="808.2" x2="1145.65" y2="798.2" stroke="#000" stroke-width="3"/>
<line x1="1206.97" y1="15.7" x2="1206.97" y2="33.7" stroke="#000" stroke-width="3"/>
<line x1="1206.97" y1="808.2" x2="1206.97" y2="790.2" stroke="#000" stroke-width="3"/>
<line x1="1268.29" y1="15.7" x2="1268.29" y2="25.7" stroke="#000" stroke-width="3"/>
<line x1="1268.29" y1="808.2" x2="1268.29" y2="798.2" stroke="#000" stroke-width="3"/>
<line x1="1329.60" y1="15.7" x2="1329.60" y2="33.7" stroke="#000" stroke-width="3"/>
<line x1="1329.60" y1="808.2" x2="1329.60" y2="790.2" stroke="#000" stroke-width="3"/>
<text x="84.08" y="860.10" font-size="43" fill="#000" textLength="49.30" lengthAdjust="spacingAndGlyphs">50</text>
<line x1="59.3" y1="845.2" x2="82.5" y2="845.2" stroke="#808080" stroke-width="2.5"/>
<text x="209.01" y="860.10" font-size="43" fill="#000" textLength="47.27" lengthAdjust="spacingAndGlyphs">40</text>
<line x1="188.8" y1="845.2" x2="207.4" y2="845.2" stroke="#808080" stroke-width="2.5"/>
<text x="330.66" y="860.10" font-size="43" fill="#000" textLength="48.02" lengthAdjust="spacingAndGlyphs">30</text>
<line x1="311.1" y1="845.2" x2="331.0" y2="845.2" stroke="#808080" stroke-width="2.5"/>
<text x="452.24" y="860.10" font-size="43" fill="#000" textLength="49.84" lengthAdjust="spacingAndGlyphs">20</text>
<line x1="428.9" y1="845.2" x2="448.4" y2="845.2" stroke="#808080" stroke-width="2.5"/>
<text x="575.22" y="860.10" font-size="43" fill="#000" textLength="48.36" lengthAdjust="spacingAndGlyphs">10</text>
<line x1="551.9" y1="845.2" x2="571.6" y2="845.2" stroke="#808080" stroke-width="2.5"/>
<text x="702.12" y="860.10" font-size="43" fill="#000" textLength="25.26" lengthAdjust="spacingAndGlyphs">0</text>
<text x="813.12" y="860.10" font-size="43" fill="#000" textLength="50.06" lengthAdjust="spacingAndGlyphs">10</text>
<text x="933.74" y="860.10" font-size="43" fill="#000" textLength="50.54" lengthAdjust="spacingAndGlyphs">20</text>
<text x="1058.26" y="860.10" font-size="43" fill="#000" textLength="50.32" lengthAdjust="spacingAndGlyphs">30</text>
<text x="1180.61" y="860.10" font-size="43" fill="#000" textLength="49.87" lengthAdjust="spacingAndGlyphs">40</text>
<text x="1302.38" y="860.10" font-size="43" fill="#000" textLength="51.10" lengthAdjust="spacingAndGlyphs">50</text>
<text x="606.21" y="930.20" font-size="52.8" fill="#000" textLength="212.06" lengthAdjust="spacingAndGlyphs">Time (µs)</text>
<text transform="translate(56.10,619.72) rotate(-90)" x="0" y="0" font-size="53.3" fill="#000" textLength="420.92" lengthAdjust="spacingAndGlyphs">Intensity (arb. unit)</text>
<text x="261.73" y="135.50" font-size="72.1" fill="#000" textLength="90.94" lengthAdjust="spacing">(a)</text>
<line x1="367.1" y1="177.3" x2="422.1" y2="177.3" stroke="#000" stroke-width="2"/><path d="M440.10,177.30 L418.10,171.80 L418.10,182.80 Z" fill="#000"/>
<line x1="544.4" y1="177.3" x2="497.2" y2="177.3" stroke="#000" stroke-width="2"/><path d="M479.20,177.30 L501.20,171.80 L501.20,182.80 Z" fill="#000"/>
<line x1="763.7" y1="137.9" x2="964.2" y2="137.9" stroke="#000" stroke-width="2"/><path d="M745.70,137.90 L767.70,132.40 L767.70,143.40 Z" fill="#000"/><path d="M982.20,137.90 L960.20,132.40 L960.20,143.40 Z" fill="#000"/>
<text x="489.81" y="145.40" font-size="40.5" fill="#000" textLength="151.26" lengthAdjust="spacing"><tspan font-size="35.44">~</tspan>1.98 µs</text>
<text x="780.41" y="107.80" font-size="40.5" fill="#000" textLength="150.66" lengthAdjust="spacing"><tspan font-size="35.44">~</tspan>21.7 µs</text>
<text x="1068.36" y="224.00" font-size="40.5" fill="#000" textLength="148.28" lengthAdjust="spacing">273 mW</text>
<line x1="349.2" y1="391.0" x2="405.0" y2="391.0" stroke="#ff0000" stroke-width="2"/><path d="M423.00,391.00 L401.00,385.50 L401.00,396.50 Z" fill="#ff0000"/>
<line x1="532.2" y1="391.0" x2="483.7" y2="391.0" stroke="#ff0000" stroke-width="2"/><path d="M465.70,391.00 L487.70,385.50 L487.70,396.50 Z" fill="#ff0000"/>
<line x1="771.3" y1="385.8" x2="971.7" y2="385.8" stroke="#ff0000" stroke-width="2"/><path d="M753.30,385.80 L775.30,380.30 L775.30,391.30 Z" fill="#ff0000"/><path d="M989.70,385.80 L967.70,380.30 L967.70,391.30 Z" fill="#ff0000"/>
<text x="480.11" y="367.90" font-size="40.5" fill="#ff0000" textLength="150.26" lengthAdjust="spacing"><tspan font-size="35.44">~</tspan>2.26 µs</text>
<text x="792.21" y="360.90" font-size="40.5" fill="#ff0000" textLength="151.56" lengthAdjust="spacing"><tspan font-size="35.44">~</tspan>23.2 µs</text>
<text x="1077.76" y="426.20" font-size="40.5" fill="#ff0000" textLength="148.18" lengthAdjust="spacing">221 mW</text>
<line x1="342.5" y1="573.7" x2="398.2" y2="573.7" stroke="#008000" stroke-width="2"/><path d="M416.20,573.70 L394.20,568.20 L394.20,579.20 Z" fill="#008000"/>
<line x1="528.9" y1="573.7" x2="481.8" y2="573.7" stroke="#008000" stroke-width="2"/><path d="M463.80,573.70 L485.80,568.20 L485.80,579.20 Z" fill="#008000"/>
<line x1="778.3" y1="559.0" x2="969.8" y2="559.0" stroke="#008000" stroke-width="2"/><path d="M760.30,559.00 L782.30,553.50 L782.30,564.50 Z" fill="#008000"/><path d="M987.80,559.00 L965.80,553.50 L965.80,564.50 Z" fill="#008000"/>
<text x="480.41" y="552.60" font-size="40.5" fill="#008000" textLength="149.96" lengthAdjust="spacing"><tspan font-size="35.44">~</tspan>2.33 µs</text>
<text x="797.01" y="535.00" font-size="40.5" fill="#008000" textLength="151.16" lengthAdjust="spacing"><tspan font-size="35.44">~</tspan>23.5 µs</text>
<text x="1088.36" y="601.10" font-size="40.5" fill="#008000" textLength="148.28" lengthAdjust="spacing">211 mW</text>
<line x1="319.5" y1="744.4" x2="374.8" y2="744.4" stroke="#0000ff" stroke-width="2"/><path d="M392.80,744.40 L370.80,738.90 L370.80,749.90 Z" fill="#0000ff"/>
<line x1="507.3" y1="744.4" x2="459.0" y2="744.4" stroke="#0000ff" stroke-width="2"/><path d="M441.00,744.40 L463.00,738.90 L463.00,749.90 Z" fill="#0000ff"/>
<line x1="773.5" y1="725.6" x2="988.9" y2="725.6" stroke="#0000ff" stroke-width="2"/><path d="M755.50,725.60 L777.50,720.10 L777.50,731.10 Z" fill="#0000ff"/><path d="M1006.90,725.60 L984.90,720.10 L984.90,731.10 Z" fill="#0000ff"/>
<text x="452.41" y="718.50" font-size="40.5" fill="#0000ff" textLength="150.46" lengthAdjust="spacing"><tspan font-size="35.44">~</tspan>2.71 µs</text>
<text x="806.91" y="705.30" font-size="40.5" fill="#0000ff" textLength="150.86" lengthAdjust="spacing"><tspan font-size="35.44">~</tspan>25.1 µs</text>
<text x="1114.12" y="764.60" font-size="40.5" fill="#0000ff" textLength="147.02" lengthAdjust="spacing">169 mW</text>
<rect x="106.8" y="995.5" width="1234.00" height="790.50" fill="none" stroke="#000" stroke-width="3.6"/>
<line x1="106.80" y1="995.5" x2="106.80" y2="1012.5" stroke="#000" stroke-width="3"/>
<line x1="106.80" y1="1786.0" x2="106.80" y2="1769.0" stroke="#000" stroke-width="3"/>
<line x1="209.63" y1="995.5" x2="209.63" y2="1004.5" stroke="#000" stroke-width="3"/>
<line x1="209.63" y1="1786.0" x2="209.63" y2="1777.0" stroke="#000" stroke-width="3"/>
<line x1="312.47" y1="995.5" x2="312.47" y2="1012.5" stroke="#000" stroke-width="3"/>
<line x1="312.47" y1="1786.0" x2="312.47" y2="1769.0" stroke="#000" stroke-width="3"/>
<line x1="415.30" y1="995.5" x2="415.30" y2="1004.5" stroke="#000" stroke-width="3"/>
<line x1="415.30" y1="1786.0" x2="415.30" y2="1777.0" stroke="#000" stroke-width="3"/>
<line x1="518.13" y1="995.5" x2="518.13" y2="1012.5" stroke="#000" stroke-width="3"/>
<line x1="518.13" y1="1786.0" x2="518.13" y2="1769.0" stroke="#000" stroke-width="3"/>
<line x1="620.97" y1="995.5" x2="620.97" y2="1004.5" stroke="#000" stroke-width="3"/>
<line x1="620.97" y1="1786.0" x2="620.97" y2="1777.0" stroke="#000" stroke-width="3"/>
<line x1="723.80" y1="995.5" x2="723.80" y2="1012.5" stroke="#000" stroke-width="3"/>
<line x1="723.80" y1="1786.0" x2="723.80" y2="1769.0" stroke="#000" stroke-width="3"/>
<line x1="826.63" y1="995.5" x2="826.63" y2="1004.5" stroke="#000" stroke-width="3"/>
<line x1="826.63" y1="1786.0" x2="826.63" y2="1777.0" stroke="#000" stroke-width="3"/>
<line x1="929.47" y1="995.5" x2="929.47" y2="1012.5" stroke="#000" stroke-width="3"/>
<line x1="929.47" y1="1786.0" x2="929.47" y2="1769.0" stroke="#000" stroke-width="3"/>
<line x1="1032.30" y1="995.5" x2="1032.30" y2="1004.5" stroke="#000" stroke-width="3"/>
<line x1="1032.30" y1="1786.0" x2="1032.30" y2="1777.0" stroke="#000" stroke-width="3"/>
<line x1="1135.13" y1="995.5" x2="1135.13" y2="1012.5" stroke="#000" stroke-width="3"/>
<line x1="1135.13" y1="1786.0" x2="1135.13" y2="1769.0" stroke="#000" stroke-width="3"/>
<line x1="1237.97" y1="995.5" x2="1237.97" y2="1004.5" stroke="#000" stroke-width="3"/>
<line x1="1237.97" y1="1786.0" x2="1237.97" y2="1777.0" stroke="#000" stroke-width="3"/>
<line x1="1340.80" y1="995.5" x2="1340.80" y2="1012.5" stroke="#000" stroke-width="3"/>
<line x1="1340.80" y1="1786.0" x2="1340.80" y2="1769.0" stroke="#000" stroke-width="3"/>
<line x1="106.8" y1="995.50" x2="124.4" y2="995.50" stroke="#000" stroke-width="3"/>
<line x1="1340.8" y1="995.50" x2="1323.2" y2="995.50" stroke="#000" stroke-width="3"/>
<line x1="106.8" y1="1108.43" x2="124.4" y2="1108.43" stroke="#000" stroke-width="3"/>
<line x1="1340.8" y1="1108.43" x2="1323.2" y2="1108.43" stroke="#000" stroke-width="3"/>
<line x1="106.8" y1="1221.36" x2="124.4" y2="1221.36" stroke="#000" stroke-width="3"/>
<line x1="1340.8" y1="1221.36" x2="1323.2" y2="1221.36" stroke="#000" stroke-width="3"/>
<line x1="106.8" y1="1334.29" x2="124.4" y2="1334.29" stroke="#000" stroke-width="3"/>
<line x1="1340.8" y1="1334.29" x2="1323.2" y2="1334.29" stroke="#000" stroke-width="3"/>
<line x1="106.8" y1="1447.21" x2="124.4" y2="1447.21" stroke="#000" stroke-width="3"/>
<line x1="1340.8" y1="1447.21" x2="1323.2" y2="1447.21" stroke="#000" stroke-width="3"/>
<line x1="106.8" y1="1560.14" x2="124.4" y2="1560.14" stroke="#000" stroke-width="3"/>
<line x1="1340.8" y1="1560.14" x2="1323.2" y2="1560.14" stroke="#000" stroke-width="3"/>
<line x1="106.8" y1="1673.07" x2="124.4" y2="1673.07" stroke="#000" stroke-width="3"/>
<line x1="1340.8" y1="1673.07" x2="1323.2" y2="1673.07" stroke="#000" stroke-width="3"/>
<line x1="106.8" y1="1786.00" x2="124.4" y2="1786.00" stroke="#000" stroke-width="3"/>
<line x1="1340.8" y1="1786.00" x2="1323.2" y2="1786.00" stroke="#000" stroke-width="3"/>
<path d="M106.8,1663.42 L107.9,1678.44 L109.0,1676.73 L110.1,1658.39 L111.2,1660.09 L112.3,1658.09 L113.4,1668.80 L114.5,1661.85 L115.6,1670.57 L116.7,1646.98 L117.8,1679.42 L118.9,1661.20 L120.0,1669.38 L121.1,1660.70 L122.2,1699.00 L123.3,1666.63 L124.4,1670.41 L125.5,1659.73 L126.6,1659.99 L127.7,1668.40 L128.8,1653.98 L129.9,1648.66 L131.0,1664.40 L132.1,1654.56 L133.2,1644.40 L134.3,1652.55 L135.4,1654.75 L136.5,1648.70 L137.6,1645.97 L138.7,1657.35 L139.8,1665.65 L140.9,1654.58 L142.0,1650.70 L143.1,1659.64 L144.2,1662.61 L145.0,1653.68 L146.6,1660.59 L148.2,1664.78 L149.8,1654.09 L151.4,1650.16 L153.0,1658.22 L154.6,1657.26 L156.2,1664.37 L157.8,1646.93 L159.4,1650.72 L161.0,1649.54 L162.6,1643.93 L164.2,1655.56 L165.8,1658.76 L167.4,1649.81 L169.0,1665.54 L170.6,1660.78 L172.2,1659.06 L173.8,1657.11 L175.4,1661.43 L177.0,1645.75 L178.6,1658.40 L180.2,1658.17 L181.8,1642.95 L183.4,1655.86 L185.0,1651.55 L186.6,1658.94 L188.2,1650.20 L189.8,1652.46 L191.4,1655.04 L193.0,1647.31 L194.6,1656.64 L196.2,1651.34 L197.8,1655.46 L199.4,1648.69 L201.0,1659.50 L202.6,1655.71 L204.2,1650.07 L205.8,1655.50 L207.4,1659.89 L209.0,1663.53 L210.6,1641.85 L212.2,1656.47 L213.8,1675.00 L215.4,1649.21 L217.0,1644.21 L218.6,1658.22 L220.2,1642.52 L221.8,1652.88 L223.4,1657.78 L225.0,1640.24 L226.6,1646.70 L228.2,1641.36 L229.8,1649.48 L231.4,1657.92 L233.0,1661.10 L234.6,1638.24 L236.2,1644.02 L237.8,1651.35 L239.4,1656.92 L241.0,1648.95 L242.6,1642.27 L244.2,1647.60 L245.8,1645.32 L247.4,1644.17 L249.0,1663.00 L250.6,1647.11 L252.2,1646.32 L253.8,1643.65 L255.4,1642.78 L257.0,1637.58 L258.6,1641.01 L260.2,1650.41 L261.8,1641.78 L263.4,1635.85 L265.0,1650.12 L266.6,1644.90 L268.2,1653.99 L269.8,1641.41 L271.4,1638.68 L273.0,1634.05 L274.6,1647.63 L276.2,1654.37 L277.8,1635.62 L279.4,1635.94 L281.0,1641.60 L282.6,1634.33 L284.2,1636.20 L285.8,1635.43 L287.4,1637.46 L289.0,1641.91 L290.6,1635.61 L292.2,1639.98 L293.8,1632.95 L295.4,1635.90 L297.0,1625.45 L298.6,1627.77 L300.2,1637.10 L301.8,1630.42 L303.4,1635.27 L305.0,1634.72 L306.6,1638.23 L308.2,1635.24 L309.8,1635.75 L311.4,1629.79 L313.0,1626.89 L314.6,1625.81 L316.2,1625.62 L317.8,1622.36 L319.4,1623.46 L321.0,1624.29 L322.6,1625.25 L324.2,1622.55 L325.8,1616.97 L327.4,1622.75 L329.0,1623.65 L330.6,1627.01 L332.2,1624.40 L333.8,1619.48 L335.4,1618.81 L337.0,1628.96 L338.6,1623.26 L340.2,1627.12 L341.8,1627.77 L343.4,1616.33 L345.0,1619.80 L346.6,1619.61 L348.2,1619.51 L349.8,1618.93 L351.4,1617.11 L353.0,1616.42 L354.6,1611.04 L356.2,1613.87 L357.8,1611.47 L359.4,1612.98 L361.0,1610.48 L362.6,1613.01 L364.2,1613.01 L365.8,1610.75 L367.4,1610.31 L369.0,1609.16 L370.6,1607.39 L372.2,1607.60 L373.8,1606.30 L375.4,1607.95 L377.0,1606.01 L378.6,1606.76 L380.2,1601.22 L381.8,1605.52 L383.4,1600.33 L385.0,1599.31 L386.6,1599.25 L388.2,1597.29 L389.8,1597.85 L391.4,1594.67 L393.0,1592.45 L394.6,1591.61 L396.2,1595.10 L397.8,1590.92 L399.4,1587.75 L401.0,1588.72 L402.6,1585.19 L404.2,1590.06 L405.8,1583.09 L407.4,1584.66 L409.0,1583.13 L410.6,1578.85 L412.2,1579.12 L413.8,1578.12 L415.4,1575.46 L417.0,1573.27 L418.6,1571.97 L420.2,1569.17 L421.8,1567.22 L423.4,1564.82 L425.0,1563.11 L426.6,1560.39 L428.2,1558.83 L429.8,1556.46 L431.4,1554.32 L433.0,1552.45 L434.6,1550.59 L436.2,1548.33 L437.8,1545.92 L439.4,1543.88 L441.0,1541.44 L442.6,1539.17 L444.2,1536.85 L445.8,1534.16 L447.4,1532.08 L449.0,1529.48 L450.6,1527.06 L452.2,1524.50 L453.8,1522.02 L455.4,1519.58 L457.0,1517.29 L458.6,1514.83 L460.2,1511.87 L461.8,1509.31 L463.4,1506.25 L465.0,1503.06 L466.6,1500.24 L468.2,1497.10 L469.8,1493.72 L471.4,1490.52 L473.0,1487.25 L474.6,1483.73 L476.2,1480.36 L477.8,1477.19 L479.4,1473.83 L481.0,1470.44 L482.6,1467.26 L484.2,1463.99 L485.8,1460.24 L487.4,1457.04 L489.0,1453.73 L490.6,1450.35 L492.2,1447.08 L493.8,1443.51 L495.4,1440.35 L497.0,1437.21 L498.6,1433.61 L500.2,1429.98 L501.8,1426.70 L503.4,1423.33 L505.0,1419.66 L506.6,1416.00 L508.2,1412.80 L509.8,1408.83 L511.4,1405.55 L513.0,1401.94 L514.6,1398.27 L516.2,1395.10 L517.8,1391.43 L519.4,1387.69 L521.0,1384.42 L522.6,1380.73 L524.2,1377.02 L525.8,1373.64 L527.4,1370.23 L529.0,1366.74 L530.6,1363.11 L532.2,1359.55 L533.8,1356.10 L535.4,1352.50 L537.0,1349.27 L538.6,1345.69 L540.2,1342.35 L541.8,1339.06 L543.4,1335.51 L545.0,1332.23 L546.6,1329.25 L548.2,1325.67 L549.8,1322.16 L551.4,1318.78 L553.0,1315.15 L554.6,1311.72 L556.2,1308.04 L557.8,1304.63 L559.4,1300.88 L561.0,1297.86 L562.6,1294.17 L564.2,1290.71 L565.8,1287.61 L567.4,1284.37 L569.0,1281.25 L570.6,1277.92 L572.2,1275.01 L573.8,1272.32 L575.4,1268.60 L577.0,1265.78 L578.6,1262.66 L580.2,1259.76 L581.8,1256.56 L583.4,1253.75 L585.0,1251.08 L586.6,1248.09 L588.2,1245.52 L589.8,1242.41 L591.4,1239.97 L593.0,1238.09 L594.6,1235.40 L596.2,1233.40 L597.8,1231.63 L599.4,1229.80 L601.0,1228.11 L602.6,1226.10 L604.2,1224.00 L605.8,1222.06 L607.4,1220.35 L609.0,1217.96 L610.6,1215.24 L612.2,1213.43 L613.8,1211.24 L615.4,1209.44 L617.0,1207.39 L618.6,1205.89 L620.2,1203.93 L621.8,1202.18 L623.4,1200.35 L625.0,1198.61 L626.6,1196.97 L628.2,1195.42 L629.8,1193.54 L631.4,1191.61 L633.0,1190.04 L634.6,1188.02 L636.2,1186.15 L637.8,1184.27 L639.4,1182.57 L641.0,1180.90 L642.6,1179.08 L644.2,1178.13 L645.8,1176.65 L647.4,1175.16 L649.0,1174.05 L650.6,1172.64 L652.2,1171.32 L653.8,1169.62 L655.4,1168.56 L657.0,1167.34 L658.6,1166.18 L660.2,1164.88 L661.8,1163.47 L663.4,1161.73 L665.0,1160.24 L666.6,1159.26 L668.2,1157.78 L669.8,1156.55 L671.4,1154.95 L673.0,1153.58 L674.6,1151.92 L676.2,1150.78 L677.8,1149.24 L679.4,1147.87 L681.0,1146.29 L682.6,1144.63 L684.2,1143.29 L685.8,1142.13 L687.4,1141.55 L689.0,1140.90 L690.6,1140.19 L692.2,1139.71 L693.8,1139.71 L695.4,1139.16 L697.0,1139.27 L698.6,1139.26 L700.2,1139.37 L701.8,1139.72 L703.4,1140.30 L705.0,1140.85 L706.6,1141.49 L708.2,1141.80 L709.8,1142.46 L711.4,1143.12 L713.0,1144.07 L714.6,1144.22 L716.2,1145.40 L717.8,1146.12 L719.4,1147.20 L721.0,1148.11 L722.6,1149.46 L724.2,1151.06 L725.8,1152.34 L727.4,1153.88 L729.0,1155.40 L730.6,1156.72 L732.2,1158.31 L733.8,1159.57 L735.4,1160.86 L737.0,1162.32 L738.6,1163.68 L740.2,1165.24 L741.8,1166.54 L743.4,1167.97 L745.0,1169.84 L746.6,1171.39 L748.2,1173.14 L749.8,1174.79 L751.4,1176.50 L753.0,1178.34 L754.6,1180.30 L756.2,1182.48 L757.8,1184.37 L759.4,1186.24 L761.0,1188.53 L762.6,1190.50 L764.2,1192.90 L765.8,1194.97 L767.4,1197.27 L769.0,1199.81 L770.6,1202.19 L772.2,1204.46 L773.8,1207.34 L775.4,1210.18 L777.0,1212.28 L778.6,1215.53 L780.2,1217.97 L781.8,1220.93 L783.4,1223.98 L785.0,1226.90 L786.6,1230.44 L788.2,1233.48 L789.8,1236.52 L791.4,1239.83 L793.0,1242.95 L794.6,1246.44 L796.2,1250.07 L797.8,1253.16 L799.4,1256.84 L801.0,1260.48 L802.6,1264.22 L804.2,1267.88 L805.8,1271.19 L807.4,1274.76 L809.0,1278.52 L810.6,1282.00 L812.2,1285.62 L813.8,1289.47 L815.4,1293.22 L817.0,1296.65 L818.6,1300.29 L820.2,1304.15 L821.8,1307.59 L823.4,1311.66 L825.0,1315.44 L826.6,1319.99 L828.2,1323.75 L829.8,1327.74 L831.4,1331.80 L833.0,1335.59 L834.6,1340.10 L836.2,1344.26 L837.8,1347.80 L839.4,1351.85 L841.0,1355.68 L842.6,1359.14 L844.2,1363.26 L845.8,1367.06 L847.4,1370.55 L849.0,1374.13 L850.6,1377.86 L852.2,1381.05 L853.8,1384.73 L855.4,1388.20 L857.0,1391.01 L858.6,1394.46 L860.2,1397.43 L861.8,1400.61 L863.4,1404.55 L865.0,1408.36 L866.6,1412.65 L868.2,1416.69 L869.8,1421.34 L871.4,1425.41 L873.0,1429.89 L874.6,1434.19 L876.2,1438.75 L877.8,1443.57 L879.4,1447.94 L881.0,1452.31 L882.6,1456.50 L884.2,1461.06 L885.8,1465.15 L887.4,1469.07 L889.0,1473.17 L890.6,1476.93 L892.2,1480.76 L893.8,1484.49 L895.4,1488.22 L897.0,1491.63 L898.6,1494.81 L900.2,1498.30 L901.8,1501.62 L903.4,1504.77 L905.0,1508.48 L906.6,1511.50 L908.2,1515.19 L909.8,1519.20 L911.4,1522.58 L913.0,1526.73 L914.6,1528.87 L916.2,1533.94 L917.8,1535.12 L919.4,1538.27 L921.0,1539.98 L922.6,1544.22 L924.2,1547.52 L925.8,1549.76 L927.4,1551.91 L929.0,1551.62 L930.6,1554.64 L932.2,1557.19 L933.8,1558.85 L935.4,1563.95 L937.0,1564.59 L938.6,1566.45 L940.2,1569.65 L941.8,1569.83 L943.4,1572.21 L945.0,1574.54 L946.6,1579.10 L948.2,1580.96 L949.8,1583.52 L951.4,1586.56 L953.0,1583.64 L954.6,1586.56 L956.2,1589.45 L957.8,1588.29 L959.4,1591.16 L961.0,1596.30 L962.6,1598.02 L964.2,1599.37 L965.8,1597.73 L967.4,1598.44 L969.0,1603.40 L970.6,1600.58 L972.2,1603.69 L973.8,1608.28 L975.4,1604.40 L977.0,1605.17 L978.6,1607.87 L980.2,1611.39 L981.8,1612.25 L983.4,1612.19 L985.0,1614.85 L986.6,1609.42 L988.2,1612.17 L989.8,1615.99 L991.4,1613.58 L993.0,1613.26 L994.6,1614.56 L996.2,1616.46 L997.8,1619.93 L999.4,1618.79 L1001.0,1624.54 L1002.6,1633.36 L1004.2,1625.74 L1005.8,1634.06 L1007.4,1630.06 L1009.0,1625.82 L1010.6,1629.74 L1012.2,1628.21 L1013.8,1636.86 L1015.4,1629.37 L1017.0,1641.89 L1018.6,1638.42 L1020.2,1628.47 L1021.8,1641.10 L1023.4,1646.42 L1025.0,1634.71 L1026.6,1644.31 L1028.2,1632.06 L1029.8,1641.07 L1031.4,1633.81 L1033.0,1644.05 L1034.6,1634.76 L1036.2,1632.21 L1037.8,1646.05 L1039.4,1659.31 L1041.0,1642.67 L1042.6,1651.55 L1044.2,1647.35 L1045.8,1645.94 L1047.4,1652.32 L1049.0,1660.37 L1050.6,1644.06 L1052.2,1654.01 L1053.8,1653.05 L1055.4,1644.95 L1057.0,1663.69 L1058.6,1666.86 L1060.2,1648.59 L1061.8,1666.69 L1063.4,1654.33 L1065.0,1653.64 L1066.6,1666.86 L1068.2,1657.10 L1069.8,1658.25 L1071.4,1668.50 L1073.0,1666.99 L1074.6,1663.99 L1076.2,1649.55 L1077.8,1648.80 L1079.4,1667.00 L1081.0,1652.47 L1082.6,1658.94 L1084.2,1652.16 L1085.8,1657.23 L1087.4,1651.58 L1089.0,1674.37 L1090.6,1653.61 L1092.2,1659.02 L1093.8,1659.05 L1095.4,1672.52 L1097.0,1652.79 L1098.6,1661.43 L1100.2,1660.96 L1101.8,1668.29 L1103.4,1668.35 L1105.0,1661.21 L1106.6,1667.18 L1108.2,1662.88 L1109.8,1670.84 L1111.4,1665.72 L1113.0,1662.76 L1114.6,1667.34 L1116.2,1672.13 L1117.8,1693.26 L1119.4,1665.81 L1121.0,1672.99 L1122.6,1686.77 L1124.2,1656.13 L1125.8,1658.64 L1127.4,1662.67 L1129.0,1670.37 L1130.6,1697.80 L1132.2,1676.56 L1133.8,1686.93 L1135.4,1670.93 L1137.0,1655.13 L1138.6,1656.46 L1140.2,1686.50 L1141.8,1676.39 L1143.4,1664.79 L1145.0,1689.23 L1146.6,1663.60 L1148.2,1690.42 L1149.8,1695.07 L1151.4,1670.42 L1153.0,1668.10 L1154.6,1688.13 L1156.2,1668.79 L1157.8,1689.01 L1159.4,1668.57 L1161.0,1688.90 L1162.6,1679.64 L1164.2,1675.30 L1165.8,1671.96 L1167.4,1682.40 L1169.0,1664.68 L1170.6,1677.56 L1172.2,1676.86 L1173.8,1689.43 L1175.4,1670.59 L1177.0,1704.06 L1178.6,1678.46 L1180.2,1672.14 L1181.8,1700.37 L1183.4,1704.42 L1185.0,1680.27 L1186.6,1674.86 L1188.2,1682.36 L1189.8,1676.80 L1191.4,1679.99 L1193.0,1704.32 L1194.6,1688.27 L1196.2,1685.00 L1197.8,1687.96 L1199.4,1682.80 L1201.0,1695.23 L1202.6,1695.92 L1204.2,1680.70 L1205.8,1685.32 L1207.4,1714.61 L1209.0,1690.08 L1210.6,1682.73 L1212.2,1713.53 L1213.8,1684.66 L1215.4,1675.67 L1217.0,1694.46 L1218.6,1677.55 L1220.2,1681.01 L1221.8,1689.96 L1223.4,1684.39 L1225.0,1679.28 L1226.6,1681.20 L1228.2,1681.02 L1229.8,1703.04 L1231.4,1680.29 L1233.0,1681.69 L1234.6,1716.37 L1236.2,1786.00 L1237.8,1786.00 L1239.4,1706.43 L1241.0,1686.00 L1242.6,1675.45 L1244.2,1694.24 L1245.8,1697.62 L1247.4,1702.12 L1249.0,1745.00 L1250.6,1705.86 L1252.2,1708.69 L1253.8,1679.17 L1255.4,1771.00 L1257.0,1690.87 L1258.6,1683.54 L1260.2,1685.71 L1261.8,1716.39 L1263.4,1703.18 L1265.0,1673.41 L1266.6,1689.91 L1268.2,1687.54 L1269.8,1687.29 L1271.4,1684.46 L1273.0,1676.49 L1274.6,1701.73 L1276.2,1680.95 L1277.8,1685.82 L1279.4,1683.86 L1281.0,1682.81 L1282.6,1700.07 L1284.2,1694.71 L1285.8,1683.26 L1287.4,1680.94 L1289.0,1722.00 L1290.6,1703.34 L1292.2,1690.76 L1293.8,1692.32 L1295.4,1686.01 L1297.0,1686.56 L1298.6,1691.93 L1300.2,1755.50 L1301.8,1712.64 L1303.4,1681.82 L1305.0,1683.62 L1306.6,1708.37 L1308.2,1691.63 L1309.8,1688.87 L1311.4,1683.21 L1313.0,1674.82 L1314.6,1756.00 L1316.2,1705.81 L1317.8,1680.21 L1319.4,1708.15 L1321.0,1678.08 L1322.6,1681.31 L1324.2,1695.01 L1325.8,1723.00 L1327.4,1697.52 L1329.0,1680.74 L1330.6,1678.14 L1332.2,1670.89 L1333.8,1676.38 L1335.4,1677.31 L1337.0,1674.17 L1338.6,1752.00 L1340.2,1680.34" fill="none" stroke="#0000ff" stroke-width="4.2" stroke-linejoin="round" clip-path="url(#cb)"/>
<text x="45.14" y="1846.00" font-size="52.0" fill="#000" textLength="121.54" lengthAdjust="spacingAndGlyphs">1545</text>
<text x="250.81" y="1846.00" font-size="52.0" fill="#000" textLength="121.39" lengthAdjust="spacingAndGlyphs">1550</text>
<text x="456.47" y="1846.00" font-size="52.0" fill="#000" textLength="121.54" lengthAdjust="spacingAndGlyphs">1555</text>
<text x="662.14" y="1846.00" font-size="52.0" fill="#000" textLength="121.39" lengthAdjust="spacingAndGlyphs">1560</text>
<text x="867.81" y="1846.00" font-size="52.0" fill="#000" textLength="121.54" lengthAdjust="spacingAndGlyphs">1565</text>
<text x="1073.47" y="1846.00" font-size="52.0" fill="#000" textLength="121.39" lengthAdjust="spacingAndGlyphs">1570</text>
<text x="1279.14" y="1846.00" font-size="52.0" fill="#000" textLength="121.54" lengthAdjust="spacingAndGlyphs">1575</text>
<text x="521.07" y="1919.10" font-size="52.6" fill="#000" textLength="384.69" lengthAdjust="spacingAndGlyphs">Wavelength (nm)</text>
<text transform="translate(54.10,1587.52) rotate(-90)" x="0" y="0" font-size="51.5" fill="#000" textLength="390.02" lengthAdjust="spacingAndGlyphs">Power (10 dB/div)</text>
<text x="261.64" y="1125.60" font-size="73.5" fill="#000" textLength="89.92" lengthAdjust="spacing">(b)</text>
<line x1="671.8" y1="1173.4" x2="729.1" y2="1173.4" stroke="#0000ff" stroke-width="2"/><path d="M653.80,1173.40 L675.80,1167.90 L675.80,1178.90 Z" fill="#0000ff"/><path d="M747.10,1173.40 L725.10,1167.90 L725.10,1178.90 Z" fill="#0000ff"/>
<text x="752.53" y="1152.40" font-size="40.0" fill="#0000ff" textLength="145.31" lengthAdjust="spacing"><tspan font-size="35.0">~</tspan>2.5 nm</text></g>
</svg>
</body></html>
